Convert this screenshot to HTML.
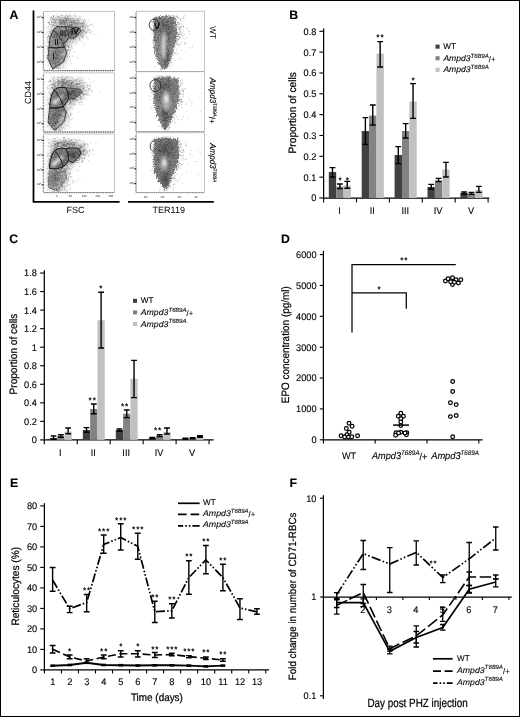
<!DOCTYPE html>
<html lang="en"><head><meta charset="utf-8"><title>Figure</title>
<style>html,body{margin:0;padding:0;background:#fff}svg{display:block}text{font-family:'Liberation Sans', sans-serif;text-rendering:geometricPrecision}</style>
</head><body>
<svg width="520" height="717" viewBox="0 0 520 717">
<rect x="0" y="0" width="520" height="717" fill="#fff"/>
<text x="9.6" y="19" font-size="12.3" font-weight="bold" stroke="#000" stroke-width="0.1">A</text>
<text x="289.2" y="18.9" font-size="12.3" font-weight="bold" stroke="#000" stroke-width="0.1">B</text>
<text x="9.2" y="242.9" font-size="12.3" font-weight="bold" stroke="#000" stroke-width="0.1">C</text>
<text x="281" y="243.2" font-size="12.3" font-weight="bold" stroke="#000" stroke-width="0.1">D</text>
<text x="10" y="487" font-size="12.3" font-weight="bold" stroke="#000" stroke-width="0.1">E</text>
<text x="289.6" y="486.8" font-size="12.3" font-weight="bold" stroke="#000" stroke-width="0.1">F</text>
<line x1="323.6" y1="28.4" x2="323.6" y2="198.6" stroke="#000" stroke-width="1.25"/>
<line x1="323" y1="198" x2="489.2" y2="198" stroke="#000" stroke-width="1.25"/>
<line x1="319.4" y1="198" x2="323.6" y2="198" stroke="#000" stroke-width="1.1"/>
<text x="316.4" y="201.4" font-size="9.6" text-anchor="end" textLength="5.13" lengthAdjust="spacingAndGlyphs" stroke="#000" stroke-width="0.12">0</text>
<line x1="319.4" y1="177.16" x2="323.6" y2="177.16" stroke="#000" stroke-width="1.1"/>
<text x="316.4" y="180.56" font-size="9.6" text-anchor="end" textLength="12.81" lengthAdjust="spacingAndGlyphs" stroke="#000" stroke-width="0.12">0.1</text>
<line x1="319.4" y1="156.32" x2="323.6" y2="156.32" stroke="#000" stroke-width="1.1"/>
<text x="316.4" y="159.72" font-size="9.6" text-anchor="end" textLength="12.81" lengthAdjust="spacingAndGlyphs" stroke="#000" stroke-width="0.12">0.2</text>
<line x1="319.4" y1="135.48" x2="323.6" y2="135.48" stroke="#000" stroke-width="1.1"/>
<text x="316.4" y="138.88" font-size="9.6" text-anchor="end" textLength="12.81" lengthAdjust="spacingAndGlyphs" stroke="#000" stroke-width="0.12">0.3</text>
<line x1="319.4" y1="114.64" x2="323.6" y2="114.64" stroke="#000" stroke-width="1.1"/>
<text x="316.4" y="118.04" font-size="9.6" text-anchor="end" textLength="12.81" lengthAdjust="spacingAndGlyphs" stroke="#000" stroke-width="0.12">0.4</text>
<line x1="319.4" y1="93.8" x2="323.6" y2="93.8" stroke="#000" stroke-width="1.1"/>
<text x="316.4" y="97.2" font-size="9.6" text-anchor="end" textLength="12.81" lengthAdjust="spacingAndGlyphs" stroke="#000" stroke-width="0.12">0.5</text>
<line x1="319.4" y1="72.96" x2="323.6" y2="72.96" stroke="#000" stroke-width="1.1"/>
<text x="316.4" y="76.36" font-size="9.6" text-anchor="end" textLength="12.81" lengthAdjust="spacingAndGlyphs" stroke="#000" stroke-width="0.12">0.6</text>
<line x1="319.4" y1="52.12" x2="323.6" y2="52.12" stroke="#000" stroke-width="1.1"/>
<text x="316.4" y="55.52" font-size="9.6" text-anchor="end" textLength="12.81" lengthAdjust="spacingAndGlyphs" stroke="#000" stroke-width="0.12">0.7</text>
<line x1="319.4" y1="31.28" x2="323.6" y2="31.28" stroke="#000" stroke-width="1.1"/>
<text x="316.4" y="34.68" font-size="9.6" text-anchor="end" textLength="12.81" lengthAdjust="spacingAndGlyphs" stroke="#000" stroke-width="0.12">0.8</text>
<line x1="323.6" y1="198" x2="323.6" y2="202.4" stroke="#000" stroke-width="1.1"/>
<line x1="356.5" y1="198" x2="356.5" y2="202.4" stroke="#000" stroke-width="1.1"/>
<line x1="389.4" y1="198" x2="389.4" y2="202.4" stroke="#000" stroke-width="1.1"/>
<line x1="422.3" y1="198" x2="422.3" y2="202.4" stroke="#000" stroke-width="1.1"/>
<line x1="455.2" y1="198" x2="455.2" y2="202.4" stroke="#000" stroke-width="1.1"/>
<line x1="488.1" y1="198" x2="488.1" y2="202.4" stroke="#000" stroke-width="1.1"/>
<text x="339.45" y="214.2" font-size="9.6" text-anchor="middle" textLength="2.56" lengthAdjust="spacingAndGlyphs" stroke="#000" stroke-width="0.12">I</text>
<text x="372.35" y="214.2" font-size="9.6" text-anchor="middle" textLength="5.12" lengthAdjust="spacingAndGlyphs" stroke="#000" stroke-width="0.12">II</text>
<text x="405.25" y="214.2" font-size="9.6" text-anchor="middle" textLength="7.68" lengthAdjust="spacingAndGlyphs" stroke="#000" stroke-width="0.12">III</text>
<text x="438.15" y="214.2" font-size="9.6" text-anchor="middle" textLength="8.71" lengthAdjust="spacingAndGlyphs" stroke="#000" stroke-width="0.12">IV</text>
<text x="471.05" y="214.2" font-size="9.6" text-anchor="middle" textLength="6.15" lengthAdjust="spacingAndGlyphs" stroke="#000" stroke-width="0.12">V</text>
<rect x="328.8" y="172" width="7.38" height="26" fill="#404040"/>
<rect x="336.18" y="186.6" width="7.38" height="11.4" fill="#828282"/>
<rect x="343.56" y="185.6" width="7.38" height="12.4" fill="#c1c1c1"/>
<path d="M332.49 167.6V177M329.59 167.6H335.39M329.59 177H335.39" fill="none" stroke="#000" stroke-width="1.4"/>
<path d="M339.87 184V188.6M336.97 184H342.77M336.97 188.6H342.77" fill="none" stroke="#000" stroke-width="1.4"/>
<path d="M347.25 181.4V188.2M344.35 181.4H350.15M344.35 188.2H350.15" fill="none" stroke="#000" stroke-width="1.4"/>
<rect x="361.7" y="131" width="7.38" height="67" fill="#404040"/>
<rect x="369.08" y="115.6" width="7.38" height="82.4" fill="#828282"/>
<rect x="376.46" y="53.6" width="7.38" height="144.4" fill="#c1c1c1"/>
<path d="M365.39 117.6V144.4M362.49 117.6H368.29M362.49 144.4H368.29" fill="none" stroke="#000" stroke-width="1.4"/>
<path d="M372.77 105V125M369.87 105H375.67M369.87 125H375.67" fill="none" stroke="#000" stroke-width="1.4"/>
<path d="M380.15 41.6V67M377.25 41.6H383.05M377.25 67H383.05" fill="none" stroke="#000" stroke-width="1.4"/>
<rect x="394.6" y="155" width="7.38" height="43" fill="#404040"/>
<rect x="401.98" y="131" width="7.38" height="67" fill="#828282"/>
<rect x="409.36" y="101.6" width="7.38" height="96.4" fill="#c1c1c1"/>
<path d="M398.29 146.6V163.6M395.39 146.6H401.19M395.39 163.6H401.19" fill="none" stroke="#000" stroke-width="1.4"/>
<path d="M405.67 123.6V138M402.77 123.6H408.57M402.77 138H408.57" fill="none" stroke="#000" stroke-width="1.4"/>
<path d="M413.05 83.6V118.4M410.15 83.6H415.95M410.15 118.4H415.95" fill="none" stroke="#000" stroke-width="1.4"/>
<rect x="427.5" y="187" width="7.38" height="11" fill="#404040"/>
<rect x="434.88" y="180.4" width="7.38" height="17.6" fill="#828282"/>
<rect x="442.26" y="169.6" width="7.38" height="28.4" fill="#c1c1c1"/>
<path d="M431.19 184.4V189.2M428.29 184.4H434.09M428.29 189.2H434.09" fill="none" stroke="#000" stroke-width="1.4"/>
<path d="M438.57 178.4V181.6M435.67 178.4H441.47M435.67 181.6H441.47" fill="none" stroke="#000" stroke-width="1.4"/>
<path d="M445.95 162.4V177M443.05 162.4H448.85M443.05 177H448.85" fill="none" stroke="#000" stroke-width="1.4"/>
<rect x="460.4" y="193" width="7.38" height="5" fill="#404040"/>
<rect x="467.78" y="193.4" width="7.38" height="4.6" fill="#828282"/>
<rect x="475.16" y="190" width="7.38" height="8" fill="#c1c1c1"/>
<path d="M464.09 192V194.2M461.19 192H466.99M461.19 194.2H466.99" fill="none" stroke="#000" stroke-width="1.4"/>
<path d="M471.47 192.4V194.4M468.57 192.4H474.37M468.57 194.4H474.37" fill="none" stroke="#000" stroke-width="1.4"/>
<path d="M478.85 186.4V192.4M475.95 186.4H481.75M475.95 192.4H481.75" fill="none" stroke="#000" stroke-width="1.4"/>
<text x="380.45" y="40.16" font-size="8.2" text-anchor="middle" font-weight="bold" letter-spacing="0.9">**</text>
<text x="413.65" y="82.76" font-size="8.2" text-anchor="middle" font-weight="bold" letter-spacing="0.9">*</text>
<text x="340.45" y="183.36" font-size="8.2" text-anchor="middle" font-weight="bold" letter-spacing="0.9">*</text>
<text x="347.85" y="182.96" font-size="8.2" text-anchor="middle" font-weight="bold" letter-spacing="0.9">*</text>
<text font-size="10.7" textLength="81.2" lengthAdjust="spacingAndGlyphs" transform="translate(296.2 153.4) rotate(-90)" stroke="#000" stroke-width="0.22">Proportion of cells</text>
<rect x="435.5" y="44.6" width="4.1" height="4.1" fill="#404040"/>
<rect x="435.5" y="56.2" width="4.1" height="4.1" fill="#828282"/>
<rect x="435.5" y="67.8" width="4.1" height="4.1" fill="#c1c1c1"/>
<text x="443.3" y="49.3" font-size="8.3" textLength="12.6" lengthAdjust="spacingAndGlyphs" stroke="#000" stroke-width="0.1">WT</text>
<text x="443.4" y="60.9" font-size="8.3" stroke="#000" stroke-width="0.1"><tspan font-style="italic" textLength="27.2" lengthAdjust="spacingAndGlyphs">Ampd3</tspan><tspan font-style="italic" font-size="6" dy="-3.32" textLength="18.2" lengthAdjust="spacingAndGlyphs">T689A</tspan><tspan dy="4.12" textLength="6.64" lengthAdjust="spacingAndGlyphs">/+</tspan></text>
<text x="443.4" y="72.2" font-size="8.3" stroke="#000" stroke-width="0.1"><tspan font-style="italic" textLength="27.2" lengthAdjust="spacingAndGlyphs">Ampd3</tspan><tspan font-style="italic" font-size="6" dy="-3.32" textLength="18.2" lengthAdjust="spacingAndGlyphs">T689A</tspan></text>
<line x1="44.3" y1="270.2" x2="44.3" y2="440.5" stroke="#000" stroke-width="1.25"/>
<line x1="43.7" y1="439.9" x2="213.6" y2="439.9" stroke="#000" stroke-width="1.25"/>
<line x1="40.1" y1="439.9" x2="44.3" y2="439.9" stroke="#000" stroke-width="1.1"/>
<text x="36.9" y="443.3" font-size="9.6" text-anchor="end" textLength="5.13" lengthAdjust="spacingAndGlyphs" stroke="#000" stroke-width="0.12">0</text>
<line x1="40.1" y1="421.36" x2="44.3" y2="421.36" stroke="#000" stroke-width="1.1"/>
<text x="36.9" y="424.76" font-size="9.6" text-anchor="end" textLength="12.81" lengthAdjust="spacingAndGlyphs" stroke="#000" stroke-width="0.12">0.2</text>
<line x1="40.1" y1="402.82" x2="44.3" y2="402.82" stroke="#000" stroke-width="1.1"/>
<text x="36.9" y="406.22" font-size="9.6" text-anchor="end" textLength="12.81" lengthAdjust="spacingAndGlyphs" stroke="#000" stroke-width="0.12">0.4</text>
<line x1="40.1" y1="384.28" x2="44.3" y2="384.28" stroke="#000" stroke-width="1.1"/>
<text x="36.9" y="387.68" font-size="9.6" text-anchor="end" textLength="12.81" lengthAdjust="spacingAndGlyphs" stroke="#000" stroke-width="0.12">0.6</text>
<line x1="40.1" y1="365.74" x2="44.3" y2="365.74" stroke="#000" stroke-width="1.1"/>
<text x="36.9" y="369.14" font-size="9.6" text-anchor="end" textLength="12.81" lengthAdjust="spacingAndGlyphs" stroke="#000" stroke-width="0.12">0.8</text>
<line x1="40.1" y1="347.2" x2="44.3" y2="347.2" stroke="#000" stroke-width="1.1"/>
<text x="36.9" y="350.6" font-size="9.6" text-anchor="end" textLength="5.13" lengthAdjust="spacingAndGlyphs" stroke="#000" stroke-width="0.12">1</text>
<line x1="40.1" y1="328.66" x2="44.3" y2="328.66" stroke="#000" stroke-width="1.1"/>
<text x="36.9" y="332.06" font-size="9.6" text-anchor="end" textLength="12.81" lengthAdjust="spacingAndGlyphs" stroke="#000" stroke-width="0.12">1.2</text>
<line x1="40.1" y1="310.12" x2="44.3" y2="310.12" stroke="#000" stroke-width="1.1"/>
<text x="36.9" y="313.52" font-size="9.6" text-anchor="end" textLength="12.81" lengthAdjust="spacingAndGlyphs" stroke="#000" stroke-width="0.12">1.4</text>
<line x1="40.1" y1="291.58" x2="44.3" y2="291.58" stroke="#000" stroke-width="1.1"/>
<text x="36.9" y="294.98" font-size="9.6" text-anchor="end" textLength="12.81" lengthAdjust="spacingAndGlyphs" stroke="#000" stroke-width="0.12">1.6</text>
<line x1="40.1" y1="273.04" x2="44.3" y2="273.04" stroke="#000" stroke-width="1.1"/>
<text x="36.9" y="276.44" font-size="9.6" text-anchor="end" textLength="12.81" lengthAdjust="spacingAndGlyphs" stroke="#000" stroke-width="0.12">1.8</text>
<line x1="44.3" y1="439.9" x2="44.3" y2="444.3" stroke="#000" stroke-width="1.1"/>
<line x1="77.25" y1="439.9" x2="77.25" y2="444.3" stroke="#000" stroke-width="1.1"/>
<line x1="110.2" y1="439.9" x2="110.2" y2="444.3" stroke="#000" stroke-width="1.1"/>
<line x1="143.15" y1="439.9" x2="143.15" y2="444.3" stroke="#000" stroke-width="1.1"/>
<line x1="176.1" y1="439.9" x2="176.1" y2="444.3" stroke="#000" stroke-width="1.1"/>
<line x1="209.05" y1="439.9" x2="209.05" y2="444.3" stroke="#000" stroke-width="1.1"/>
<text x="60.27" y="455.8" font-size="9.6" text-anchor="middle" textLength="2.56" lengthAdjust="spacingAndGlyphs" stroke="#000" stroke-width="0.12">I</text>
<text x="93.22" y="455.8" font-size="9.6" text-anchor="middle" textLength="5.12" lengthAdjust="spacingAndGlyphs" stroke="#000" stroke-width="0.12">II</text>
<text x="126.17" y="455.8" font-size="9.6" text-anchor="middle" textLength="7.68" lengthAdjust="spacingAndGlyphs" stroke="#000" stroke-width="0.12">III</text>
<text x="159.12" y="455.8" font-size="9.6" text-anchor="middle" textLength="8.71" lengthAdjust="spacingAndGlyphs" stroke="#000" stroke-width="0.12">IV</text>
<text x="192.07" y="455.8" font-size="9.6" text-anchor="middle" textLength="6.15" lengthAdjust="spacingAndGlyphs" stroke="#000" stroke-width="0.12">V</text>
<rect x="49.9" y="438" width="7.3" height="1.9" fill="#404040"/>
<rect x="57.2" y="436" width="7.3" height="3.9" fill="#828282"/>
<rect x="64.5" y="431.6" width="7.3" height="8.3" fill="#c1c1c1"/>
<path d="M53.55 436V439.2M50.65 436H56.45M50.65 439.2H56.45" fill="none" stroke="#000" stroke-width="1.4"/>
<path d="M60.85 434.8V437.2M57.95 434.8H63.75M57.95 437.2H63.75" fill="none" stroke="#000" stroke-width="1.4"/>
<path d="M68.15 428V433.8M65.25 428H71.05M65.25 433.8H71.05" fill="none" stroke="#000" stroke-width="1.4"/>
<rect x="82.85" y="430" width="7.3" height="9.9" fill="#404040"/>
<rect x="90.15" y="409" width="7.3" height="30.9" fill="#828282"/>
<rect x="97.45" y="320.2" width="7.3" height="119.7" fill="#c1c1c1"/>
<path d="M86.5 427.6V432.2M83.6 427.6H89.4M83.6 432.2H89.4" fill="none" stroke="#000" stroke-width="1.4"/>
<path d="M93.8 404V413.8M90.9 404H96.7M90.9 413.8H96.7" fill="none" stroke="#000" stroke-width="1.4"/>
<path d="M101.1 292.2V348M98.2 292.2H104M98.2 348H104" fill="none" stroke="#000" stroke-width="1.4"/>
<rect x="115.8" y="430" width="7.3" height="9.9" fill="#404040"/>
<rect x="123.1" y="413.8" width="7.3" height="26.1" fill="#828282"/>
<rect x="130.4" y="378.8" width="7.3" height="61.1" fill="#c1c1c1"/>
<path d="M119.45 429V431.2M116.55 429H122.35M116.55 431.2H122.35" fill="none" stroke="#000" stroke-width="1.4"/>
<path d="M126.75 410V417.6M123.85 410H129.65M123.85 417.6H129.65" fill="none" stroke="#000" stroke-width="1.4"/>
<path d="M134.05 360.4V397.6M131.15 360.4H136.95M131.15 397.6H136.95" fill="none" stroke="#000" stroke-width="1.4"/>
<rect x="148.75" y="438" width="7.3" height="1.9" fill="#404040"/>
<rect x="156.05" y="435.6" width="7.3" height="4.3" fill="#828282"/>
<rect x="163.35" y="432" width="7.3" height="7.9" fill="#c1c1c1"/>
<path d="M152.4 437.4V438.8M149.5 437.4H155.3M149.5 438.8H155.3" fill="none" stroke="#000" stroke-width="1.4"/>
<path d="M159.7 434.8V436.6M156.8 434.8H162.6M156.8 436.6H162.6" fill="none" stroke="#000" stroke-width="1.4"/>
<path d="M167 428V434M164.1 428H169.9M164.1 434H169.9" fill="none" stroke="#000" stroke-width="1.4"/>
<rect x="181.7" y="438.6" width="7.3" height="1.3" fill="#404040"/>
<rect x="189" y="438.2" width="7.3" height="1.7" fill="#828282"/>
<rect x="196.3" y="436.4" width="7.3" height="3.5" fill="#c1c1c1"/>
<path d="M185.35 438.2V439M182.45 438.2H188.25M182.45 439H188.25" fill="none" stroke="#000" stroke-width="1.4"/>
<path d="M192.65 437.8V438.8M189.75 437.8H195.55M189.75 438.8H195.55" fill="none" stroke="#000" stroke-width="1.4"/>
<path d="M199.95 435.8V437.2M197.05 435.8H202.85M197.05 437.2H202.85" fill="none" stroke="#000" stroke-width="1.4"/>
<text x="101.25" y="291.16" font-size="8.2" text-anchor="middle" font-weight="bold" letter-spacing="0.9">*</text>
<text x="92.65" y="403.16" font-size="8.2" text-anchor="middle" font-weight="bold" letter-spacing="0.9">**</text>
<text x="125.05" y="409.36" font-size="8.2" text-anchor="middle" font-weight="bold" letter-spacing="0.9">**</text>
<text x="158.05" y="432.96" font-size="8.2" text-anchor="middle" font-weight="bold" letter-spacing="0.9">**</text>
<text font-size="10.7" textLength="80.6" lengthAdjust="spacingAndGlyphs" transform="translate(16.8 394.4) rotate(-90)" stroke="#000" stroke-width="0.22">Proportion of cells</text>
<rect x="133" y="298.8" width="4.1" height="4.1" fill="#404040"/>
<rect x="133" y="310.4" width="4.1" height="4.1" fill="#828282"/>
<rect x="133" y="321.9" width="4.1" height="4.1" fill="#c1c1c1"/>
<text x="140.8" y="303.4" font-size="8.3" textLength="12.8" lengthAdjust="spacingAndGlyphs" stroke="#000" stroke-width="0.1">WT</text>
<text x="140.8" y="315" font-size="8.3" stroke="#000" stroke-width="0.1"><tspan font-style="italic" textLength="27.6" lengthAdjust="spacingAndGlyphs">Ampd3</tspan><tspan font-style="italic" font-size="6" dy="-3.32" textLength="18.2" lengthAdjust="spacingAndGlyphs">T689A</tspan><tspan dy="4.12" textLength="6.64" lengthAdjust="spacingAndGlyphs">/+</tspan></text>
<text x="140.8" y="326.6" font-size="8.3" stroke="#000" stroke-width="0.1"><tspan font-style="italic" textLength="27.6" lengthAdjust="spacingAndGlyphs">Ampd3</tspan><tspan font-style="italic" font-size="6" dy="-3.32" textLength="18.2" lengthAdjust="spacingAndGlyphs">T689A</tspan></text>
<line x1="323.4" y1="250.8" x2="323.4" y2="440.4" stroke="#000" stroke-width="1.25"/>
<line x1="322.8" y1="439.8" x2="482.6" y2="439.8" stroke="#000" stroke-width="1.25"/>
<line x1="319.8" y1="439.8" x2="323.4" y2="439.8" stroke="#000" stroke-width="1.1"/>
<text x="316.6" y="443.2" font-size="9.6" text-anchor="end" textLength="5.13" lengthAdjust="spacingAndGlyphs" stroke="#000" stroke-width="0.12">0</text>
<line x1="319.8" y1="408.93" x2="323.4" y2="408.93" stroke="#000" stroke-width="1.1"/>
<text x="316.6" y="412.33" font-size="9.6" text-anchor="end" textLength="20.5" lengthAdjust="spacingAndGlyphs" stroke="#000" stroke-width="0.12">1000</text>
<line x1="319.8" y1="378.06" x2="323.4" y2="378.06" stroke="#000" stroke-width="1.1"/>
<text x="316.6" y="381.46" font-size="9.6" text-anchor="end" textLength="20.5" lengthAdjust="spacingAndGlyphs" stroke="#000" stroke-width="0.12">2000</text>
<line x1="319.8" y1="347.19" x2="323.4" y2="347.19" stroke="#000" stroke-width="1.1"/>
<text x="316.6" y="350.59" font-size="9.6" text-anchor="end" textLength="20.5" lengthAdjust="spacingAndGlyphs" stroke="#000" stroke-width="0.12">3000</text>
<line x1="319.8" y1="316.32" x2="323.4" y2="316.32" stroke="#000" stroke-width="1.1"/>
<text x="316.6" y="319.72" font-size="9.6" text-anchor="end" textLength="20.5" lengthAdjust="spacingAndGlyphs" stroke="#000" stroke-width="0.12">4000</text>
<line x1="319.8" y1="285.45" x2="323.4" y2="285.45" stroke="#000" stroke-width="1.1"/>
<text x="316.6" y="288.85" font-size="9.6" text-anchor="end" textLength="20.5" lengthAdjust="spacingAndGlyphs" stroke="#000" stroke-width="0.12">5000</text>
<line x1="319.8" y1="254.58" x2="323.4" y2="254.58" stroke="#000" stroke-width="1.1"/>
<text x="316.6" y="257.98" font-size="9.6" text-anchor="end" textLength="20.5" lengthAdjust="spacingAndGlyphs" stroke="#000" stroke-width="0.12">6000</text>
<line x1="323.4" y1="439.8" x2="323.4" y2="443.4" stroke="#000" stroke-width="1.1"/>
<line x1="375.2" y1="439.8" x2="375.2" y2="443.4" stroke="#000" stroke-width="1.1"/>
<line x1="427" y1="439.8" x2="427" y2="443.4" stroke="#000" stroke-width="1.1"/>
<line x1="478.8" y1="439.8" x2="478.8" y2="443.4" stroke="#000" stroke-width="1.1"/>
<text x="349" y="458.8" font-size="9.6" text-anchor="middle" textLength="14.18" lengthAdjust="spacingAndGlyphs" stroke="#000" stroke-width="0.1">WT</text>
<text x="372" y="458.8" font-size="9.8" stroke="#000" stroke-width="0.1"><tspan font-style="italic" textLength="29" lengthAdjust="spacingAndGlyphs">Ampd3</tspan><tspan font-style="italic" font-size="6.6" dy="-3.92" textLength="18.6" lengthAdjust="spacingAndGlyphs">T689A</tspan><tspan dy="4.72" textLength="7.84" lengthAdjust="spacingAndGlyphs">/+</tspan></text>
<text x="431.2" y="458.8" font-size="9.8" stroke="#000" stroke-width="0.1"><tspan font-style="italic" textLength="29.4" lengthAdjust="spacingAndGlyphs">Ampd3</tspan><tspan font-style="italic" font-size="6.6" dy="-3.92" textLength="18.2" lengthAdjust="spacingAndGlyphs">T689A</tspan></text>
<text font-size="10.7" textLength="117" lengthAdjust="spacingAndGlyphs" transform="translate(289.2 403.2) rotate(-90)" stroke="#000" stroke-width="0.22">EPO concentration (pg/ml)</text>
<path d="M352 332.6V264.5H455.8M352 292.8H406.3V308.8" fill="none" stroke="#000" stroke-width="1.25"/>
<text x="379.45" y="291.56" font-size="8.2" text-anchor="middle" font-weight="bold" letter-spacing="0.9">*</text>
<text x="404.25" y="262.76" font-size="8.2" text-anchor="middle" font-weight="bold" letter-spacing="0.9">**</text>
<g fill="#fff" stroke="#000" stroke-width="1.25">
<circle cx="349" cy="423.3" r="1.85"/>
<circle cx="352.1" cy="426.3" r="1.85"/>
<circle cx="346.3" cy="428.5" r="1.85"/>
<circle cx="349.2" cy="432.3" r="1.85"/>
<circle cx="341.1" cy="435.8" r="1.85"/>
<circle cx="357.6" cy="435.8" r="1.85"/>
<circle cx="346.9" cy="434.8" r="1.85"/>
<circle cx="344.6" cy="437" r="1.85"/>
<circle cx="348.6" cy="437" r="1.85"/>
<circle cx="351.8" cy="436.8" r="1.85"/>
<circle cx="400.8" cy="413.2" r="1.85"/>
<circle cx="398.3" cy="416.2" r="1.85"/>
<circle cx="403.4" cy="416.2" r="1.85"/>
<circle cx="400.8" cy="418.8" r="1.85"/>
<circle cx="400.8" cy="421.9" r="1.85"/>
<circle cx="400.8" cy="425.6" r="1.85"/>
<circle cx="396" cy="432.7" r="1.85"/>
<circle cx="400.8" cy="432.2" r="1.85"/>
<circle cx="406.8" cy="432.7" r="1.85"/>
<circle cx="395.6" cy="435.3" r="1.85"/>
<circle cx="406.4" cy="434.8" r="1.85"/>
<circle cx="398.6" cy="432.9" r="1.85"/>
<circle cx="405" cy="433" r="1.85"/>
<circle cx="452.7" cy="381.5" r="1.85"/>
<circle cx="452.7" cy="391.5" r="1.85"/>
<circle cx="450.4" cy="402.8" r="1.85"/>
<circle cx="456.2" cy="404.6" r="1.85"/>
<circle cx="450.4" cy="416.6" r="1.85"/>
<circle cx="456.2" cy="415.5" r="1.85"/>
<circle cx="452.7" cy="436.7" r="1.85"/>
<circle cx="445.4" cy="280.9" r="1.85"/>
<circle cx="448.1" cy="278.8" r="1.85"/>
<circle cx="452.5" cy="277.7" r="1.85"/>
<circle cx="456.1" cy="279.8" r="1.85"/>
<circle cx="460.8" cy="279.8" r="1.85"/>
<circle cx="458.4" cy="282.9" r="1.85"/>
<circle cx="452.5" cy="284.6" r="1.85"/>
<circle cx="450.6" cy="281.7" r="1.85"/>
<circle cx="454.4" cy="282.3" r="1.85"/>
</g>
<line x1="393.1" y1="425.1" x2="409" y2="425.1" stroke="#000" stroke-width="1.5"/>
<line x1="44.4" y1="503.2" x2="44.4" y2="670.5" stroke="#000" stroke-width="1.25"/>
<line x1="43.8" y1="669.9" x2="269.2" y2="669.9" stroke="#000" stroke-width="1.25"/>
<line x1="40.2" y1="669.9" x2="44.4" y2="669.9" stroke="#000" stroke-width="1.1"/>
<text x="37.2" y="673.3" font-size="9.6" text-anchor="end" textLength="5.13" lengthAdjust="spacingAndGlyphs" stroke="#000" stroke-width="0.12">0</text>
<line x1="40.2" y1="649.4" x2="44.4" y2="649.4" stroke="#000" stroke-width="1.1"/>
<text x="37.2" y="652.8" font-size="9.6" text-anchor="end" textLength="10.25" lengthAdjust="spacingAndGlyphs" stroke="#000" stroke-width="0.12">10</text>
<line x1="40.2" y1="628.9" x2="44.4" y2="628.9" stroke="#000" stroke-width="1.1"/>
<text x="37.2" y="632.3" font-size="9.6" text-anchor="end" textLength="10.25" lengthAdjust="spacingAndGlyphs" stroke="#000" stroke-width="0.12">20</text>
<line x1="40.2" y1="608.4" x2="44.4" y2="608.4" stroke="#000" stroke-width="1.1"/>
<text x="37.2" y="611.8" font-size="9.6" text-anchor="end" textLength="10.25" lengthAdjust="spacingAndGlyphs" stroke="#000" stroke-width="0.12">30</text>
<line x1="40.2" y1="587.9" x2="44.4" y2="587.9" stroke="#000" stroke-width="1.1"/>
<text x="37.2" y="591.3" font-size="9.6" text-anchor="end" textLength="10.25" lengthAdjust="spacingAndGlyphs" stroke="#000" stroke-width="0.12">40</text>
<line x1="40.2" y1="567.4" x2="44.4" y2="567.4" stroke="#000" stroke-width="1.1"/>
<text x="37.2" y="570.8" font-size="9.6" text-anchor="end" textLength="10.25" lengthAdjust="spacingAndGlyphs" stroke="#000" stroke-width="0.12">50</text>
<line x1="40.2" y1="546.9" x2="44.4" y2="546.9" stroke="#000" stroke-width="1.1"/>
<text x="37.2" y="550.3" font-size="9.6" text-anchor="end" textLength="10.25" lengthAdjust="spacingAndGlyphs" stroke="#000" stroke-width="0.12">60</text>
<line x1="40.2" y1="526.4" x2="44.4" y2="526.4" stroke="#000" stroke-width="1.1"/>
<text x="37.2" y="529.8" font-size="9.6" text-anchor="end" textLength="10.25" lengthAdjust="spacingAndGlyphs" stroke="#000" stroke-width="0.12">70</text>
<line x1="40.2" y1="505.9" x2="44.4" y2="505.9" stroke="#000" stroke-width="1.1"/>
<text x="37.2" y="509.3" font-size="9.6" text-anchor="end" textLength="10.25" lengthAdjust="spacingAndGlyphs" stroke="#000" stroke-width="0.12">80</text>
<line x1="44.4" y1="669.9" x2="44.4" y2="673.5" stroke="#000" stroke-width="1.1"/>
<line x1="61.43" y1="669.9" x2="61.43" y2="673.5" stroke="#000" stroke-width="1.1"/>
<line x1="78.46" y1="669.9" x2="78.46" y2="673.5" stroke="#000" stroke-width="1.1"/>
<line x1="95.49" y1="669.9" x2="95.49" y2="673.5" stroke="#000" stroke-width="1.1"/>
<line x1="112.52" y1="669.9" x2="112.52" y2="673.5" stroke="#000" stroke-width="1.1"/>
<line x1="129.55" y1="669.9" x2="129.55" y2="673.5" stroke="#000" stroke-width="1.1"/>
<line x1="146.58" y1="669.9" x2="146.58" y2="673.5" stroke="#000" stroke-width="1.1"/>
<line x1="163.61" y1="669.9" x2="163.61" y2="673.5" stroke="#000" stroke-width="1.1"/>
<line x1="180.64" y1="669.9" x2="180.64" y2="673.5" stroke="#000" stroke-width="1.1"/>
<line x1="197.67" y1="669.9" x2="197.67" y2="673.5" stroke="#000" stroke-width="1.1"/>
<line x1="214.7" y1="669.9" x2="214.7" y2="673.5" stroke="#000" stroke-width="1.1"/>
<line x1="231.73" y1="669.9" x2="231.73" y2="673.5" stroke="#000" stroke-width="1.1"/>
<line x1="248.76" y1="669.9" x2="248.76" y2="673.5" stroke="#000" stroke-width="1.1"/>
<line x1="265.79" y1="669.9" x2="265.79" y2="673.5" stroke="#000" stroke-width="1.1"/>
<text x="52.71" y="685.2" font-size="9.6" text-anchor="middle" textLength="5.13" lengthAdjust="spacingAndGlyphs" stroke="#000" stroke-width="0.12">1</text>
<text x="69.74" y="685.2" font-size="9.6" text-anchor="middle" textLength="5.13" lengthAdjust="spacingAndGlyphs" stroke="#000" stroke-width="0.12">2</text>
<text x="86.77" y="685.2" font-size="9.6" text-anchor="middle" textLength="5.13" lengthAdjust="spacingAndGlyphs" stroke="#000" stroke-width="0.12">3</text>
<text x="103.8" y="685.2" font-size="9.6" text-anchor="middle" textLength="5.13" lengthAdjust="spacingAndGlyphs" stroke="#000" stroke-width="0.12">4</text>
<text x="120.83" y="685.2" font-size="9.6" text-anchor="middle" textLength="5.13" lengthAdjust="spacingAndGlyphs" stroke="#000" stroke-width="0.12">5</text>
<text x="137.87" y="685.2" font-size="9.6" text-anchor="middle" textLength="5.13" lengthAdjust="spacingAndGlyphs" stroke="#000" stroke-width="0.12">6</text>
<text x="154.9" y="685.2" font-size="9.6" text-anchor="middle" textLength="5.13" lengthAdjust="spacingAndGlyphs" stroke="#000" stroke-width="0.12">7</text>
<text x="171.93" y="685.2" font-size="9.6" text-anchor="middle" textLength="5.13" lengthAdjust="spacingAndGlyphs" stroke="#000" stroke-width="0.12">8</text>
<text x="188.96" y="685.2" font-size="9.6" text-anchor="middle" textLength="5.13" lengthAdjust="spacingAndGlyphs" stroke="#000" stroke-width="0.12">9</text>
<text x="205.99" y="685.2" font-size="9.6" text-anchor="middle" textLength="10.25" lengthAdjust="spacingAndGlyphs" stroke="#000" stroke-width="0.12">10</text>
<text x="223.02" y="685.2" font-size="9.6" text-anchor="middle" textLength="9.57" lengthAdjust="spacingAndGlyphs" stroke="#000" stroke-width="0.12">11</text>
<text x="240.05" y="685.2" font-size="9.6" text-anchor="middle" textLength="10.25" lengthAdjust="spacingAndGlyphs" stroke="#000" stroke-width="0.12">12</text>
<text x="257.07" y="685.2" font-size="9.6" text-anchor="middle" textLength="10.25" lengthAdjust="spacingAndGlyphs" stroke="#000" stroke-width="0.12">13</text>
<text x="130.9" y="700.5" font-size="10.8" textLength="52" lengthAdjust="spacingAndGlyphs" stroke="#000" stroke-width="0.22">Time (days)</text>
<text font-size="10.7" textLength="78.6" lengthAdjust="spacingAndGlyphs" transform="translate(19.4 625.6) rotate(-90)" stroke="#000" stroke-width="0.22">Reticulocytes (%)</text>
<path d="M52.62 580L69.64 608.8L86.67 602.5L103.7 544.5L120.73 537.5L137.76 546.3L154.79 611.6L171.82 610.8L188.85 577.5L205.89 560L222.91 577.5L239.95 608L256.97 611.8" fill="none" stroke="#000" stroke-width="1.7" stroke-dasharray="9 2 1.6 2 1.6 2"/>
<path d="M52.62 649.3L69.64 657L86.67 661L103.7 657L120.73 653.8L137.76 653.8L154.79 655L171.82 654.5L188.85 656.6L205.89 658.3L222.91 660" fill="none" stroke="#000" stroke-width="1.6" stroke-dasharray="8 3.6"/>
<path d="M52.62 665.7L69.64 665L86.67 662.8L103.7 665L120.73 665.2L137.76 665.5L154.79 665.3L171.82 665.3L188.85 665.6L205.89 666.4L222.91 665.6" fill="none" stroke="#000" stroke-width="1.9"/>
<path d="M52.62 567.5V591.3M49.72 567.5H55.52M49.72 591.3H55.52" fill="none" stroke="#000" stroke-width="1.4"/>
<path d="M69.64 606.2V612.6M66.74 606.2H72.55M66.74 612.6H72.55" fill="none" stroke="#000" stroke-width="1.4"/>
<path d="M86.67 594.5V611.8M83.77 594.5H89.58M83.77 611.8H89.58" fill="none" stroke="#000" stroke-width="1.4"/>
<path d="M103.7 535V553.3M100.8 535H106.61M100.8 553.3H106.61" fill="none" stroke="#000" stroke-width="1.4"/>
<path d="M120.73 523.8V550M117.83 523.8H123.64M117.83 550H123.64" fill="none" stroke="#000" stroke-width="1.4"/>
<path d="M137.76 533.3V559.3M134.86 533.3H140.66M134.86 559.3H140.66" fill="none" stroke="#000" stroke-width="1.4"/>
<path d="M154.79 601.3V622.5M151.89 601.3H157.69M151.89 622.5H157.69" fill="none" stroke="#000" stroke-width="1.4"/>
<path d="M171.82 603.8V618M168.92 603.8H174.72M168.92 618H174.72" fill="none" stroke="#000" stroke-width="1.4"/>
<path d="M188.85 560.8V594.3M185.95 560.8H191.75M185.95 594.3H191.75" fill="none" stroke="#000" stroke-width="1.4"/>
<path d="M205.89 545.5V573.8M202.99 545.5H208.79M202.99 573.8H208.79" fill="none" stroke="#000" stroke-width="1.4"/>
<path d="M222.91 564.3V590.8M220.01 564.3H225.81M220.01 590.8H225.81" fill="none" stroke="#000" stroke-width="1.4"/>
<path d="M239.95 598.8V619.5M237.05 598.8H242.85M237.05 619.5H242.85" fill="none" stroke="#000" stroke-width="1.4"/>
<path d="M256.97 608.8V614.3M254.07 608.8H259.87M254.07 614.3H259.87" fill="none" stroke="#000" stroke-width="1.4"/>
<path d="M52.62 645.5V653M49.72 645.5H55.52M49.72 653H55.52" fill="none" stroke="#000" stroke-width="1.4"/>
<path d="M69.64 655V658.8M66.74 655H72.55M66.74 658.8H72.55" fill="none" stroke="#000" stroke-width="1.4"/>
<path d="M86.67 658.8V663.3M83.77 658.8H89.58M83.77 663.3H89.58" fill="none" stroke="#000" stroke-width="1.4"/>
<path d="M103.7 655V658.8M100.8 655H106.61M100.8 658.8H106.61" fill="none" stroke="#000" stroke-width="1.4"/>
<path d="M120.73 650.8V657M117.83 650.8H123.64M117.83 657H123.64" fill="none" stroke="#000" stroke-width="1.4"/>
<path d="M137.76 650.8V657M134.86 650.8H140.66M134.86 657H140.66" fill="none" stroke="#000" stroke-width="1.4"/>
<path d="M154.79 652.5V657.5M151.89 652.5H157.69M151.89 657.5H157.69" fill="none" stroke="#000" stroke-width="1.4"/>
<path d="M171.82 653.2V655.8M168.92 653.2H174.72M168.92 655.8H174.72" fill="none" stroke="#000" stroke-width="1.4"/>
<path d="M188.85 655.6V657.8M185.95 655.6H191.75M185.95 657.8H191.75" fill="none" stroke="#000" stroke-width="1.4"/>
<path d="M205.89 657V659.6M202.99 657H208.79M202.99 659.6H208.79" fill="none" stroke="#000" stroke-width="1.4"/>
<path d="M222.91 658.8V661.2M220.01 658.8H225.81M220.01 661.2H225.81" fill="none" stroke="#000" stroke-width="1.4"/>
<line x1="50.22" y1="665.7" x2="55.02" y2="665.7" stroke="#000" stroke-width="2.6"/>
<line x1="67.24" y1="665" x2="72.05" y2="665" stroke="#000" stroke-width="2.6"/>
<line x1="84.27" y1="662.8" x2="89.08" y2="662.8" stroke="#000" stroke-width="2.6"/>
<line x1="101.3" y1="665" x2="106.11" y2="665" stroke="#000" stroke-width="2.6"/>
<line x1="118.33" y1="665.2" x2="123.14" y2="665.2" stroke="#000" stroke-width="2.6"/>
<line x1="135.36" y1="665.5" x2="140.16" y2="665.5" stroke="#000" stroke-width="2.6"/>
<line x1="152.39" y1="665.3" x2="157.19" y2="665.3" stroke="#000" stroke-width="2.6"/>
<line x1="169.42" y1="665.3" x2="174.22" y2="665.3" stroke="#000" stroke-width="2.6"/>
<line x1="186.45" y1="665.6" x2="191.25" y2="665.6" stroke="#000" stroke-width="2.6"/>
<line x1="203.49" y1="666.4" x2="208.29" y2="666.4" stroke="#000" stroke-width="2.6"/>
<line x1="220.51" y1="665.6" x2="225.31" y2="665.6" stroke="#000" stroke-width="2.6"/>
<text x="87.12" y="592.96" font-size="8.2" text-anchor="middle" font-weight="bold" letter-spacing="0.9">**</text>
<text x="104.16" y="533.56" font-size="8.2" text-anchor="middle" font-weight="bold" letter-spacing="0.9">***</text>
<text x="121.19" y="522.76" font-size="8.2" text-anchor="middle" font-weight="bold" letter-spacing="0.9">***</text>
<text x="138.21" y="532.26" font-size="8.2" text-anchor="middle" font-weight="bold" letter-spacing="0.9">***</text>
<text x="155.24" y="600.26" font-size="8.2" text-anchor="middle" font-weight="bold" letter-spacing="0.9">**</text>
<text x="172.27" y="601.76" font-size="8.2" text-anchor="middle" font-weight="bold" letter-spacing="0.9">**</text>
<text x="189.3" y="558.56" font-size="8.2" text-anchor="middle" font-weight="bold" letter-spacing="0.9">**</text>
<text x="206.34" y="543.76" font-size="8.2" text-anchor="middle" font-weight="bold" letter-spacing="0.9">**</text>
<text x="223.36" y="562.76" font-size="8.2" text-anchor="middle" font-weight="bold" letter-spacing="0.9">**</text>
<text x="70.09" y="653.56" font-size="8.2" text-anchor="middle" font-weight="bold" letter-spacing="0.9">*</text>
<text x="104.16" y="653.56" font-size="8.2" text-anchor="middle" font-weight="bold" letter-spacing="0.9">**</text>
<text x="121.19" y="649.06" font-size="8.2" text-anchor="middle" font-weight="bold" letter-spacing="0.9">*</text>
<text x="138.21" y="649.06" font-size="8.2" text-anchor="middle" font-weight="bold" letter-spacing="0.9">*</text>
<text x="155.24" y="651.76" font-size="8.2" text-anchor="middle" font-weight="bold" letter-spacing="0.9">**</text>
<text x="172.27" y="651.76" font-size="8.2" text-anchor="middle" font-weight="bold" letter-spacing="0.9">***</text>
<text x="189.3" y="653.56" font-size="8.2" text-anchor="middle" font-weight="bold" letter-spacing="0.9">***</text>
<text x="206.34" y="655.26" font-size="8.2" text-anchor="middle" font-weight="bold" letter-spacing="0.9">**</text>
<text x="223.36" y="656.76" font-size="8.2" text-anchor="middle" font-weight="bold" letter-spacing="0.9">**</text>
<line x1="178" y1="503.3" x2="199.6" y2="503.3" stroke="#000" stroke-width="1.7"/>
<line x1="178" y1="514.4" x2="199.6" y2="514.4" stroke="#000" stroke-width="1.7" stroke-dasharray="8.6 4"/>
<line x1="178" y1="525.8" x2="199.6" y2="525.8" stroke="#000" stroke-width="1.7" stroke-dasharray="5.2 2 1.6 2 1.6 2 7.2 2"/>
<text x="203" y="505.4" font-size="8.3" textLength="12.6" lengthAdjust="spacingAndGlyphs" stroke="#000" stroke-width="0.1">WT</text>
<text x="203" y="516" font-size="8.3" stroke="#000" stroke-width="0.1"><tspan font-style="italic" textLength="27.8" lengthAdjust="spacingAndGlyphs">Ampd3</tspan><tspan font-style="italic" font-size="6" dy="-3.32" textLength="17.8" lengthAdjust="spacingAndGlyphs">T689A</tspan><tspan dy="4.12" textLength="6.64" lengthAdjust="spacingAndGlyphs">/+</tspan></text>
<text x="203" y="527.2" font-size="8.3" stroke="#000" stroke-width="0.1"><tspan font-style="italic" textLength="27.8" lengthAdjust="spacingAndGlyphs">Ampd3</tspan><tspan font-style="italic" font-size="6" dy="-3.32" textLength="17.8" lengthAdjust="spacingAndGlyphs">T689A</tspan></text>
<line x1="323.4" y1="495.2" x2="323.4" y2="699" stroke="#000" stroke-width="1.25"/>
<line x1="322.8" y1="597" x2="511.8" y2="597" stroke="#000" stroke-width="1.25"/>
<line x1="320" y1="498.2" x2="323.4" y2="498.2" stroke="#000" stroke-width="1.1"/>
<text x="316.4" y="501.6" font-size="9.6" text-anchor="end" textLength="10.25" lengthAdjust="spacingAndGlyphs" stroke="#000" stroke-width="0.12">10</text>
<line x1="320" y1="597" x2="323.4" y2="597" stroke="#000" stroke-width="1.1"/>
<text x="316.4" y="600.4" font-size="9.6" text-anchor="end" textLength="5.13" lengthAdjust="spacingAndGlyphs" stroke="#000" stroke-width="0.12">1</text>
<line x1="320" y1="695.8" x2="323.4" y2="695.8" stroke="#000" stroke-width="1.1"/>
<text x="316.4" y="699.2" font-size="9.6" text-anchor="end" textLength="12.81" lengthAdjust="spacingAndGlyphs" stroke="#000" stroke-width="0.12">0.1</text>
<line x1="349.9" y1="597" x2="349.9" y2="600" stroke="#000" stroke-width="1.1"/>
<line x1="376.4" y1="597" x2="376.4" y2="600" stroke="#000" stroke-width="1.1"/>
<line x1="402.9" y1="597" x2="402.9" y2="600" stroke="#000" stroke-width="1.1"/>
<line x1="429.4" y1="597" x2="429.4" y2="600" stroke="#000" stroke-width="1.1"/>
<line x1="455.9" y1="597" x2="455.9" y2="600" stroke="#000" stroke-width="1.1"/>
<line x1="482.4" y1="597" x2="482.4" y2="600" stroke="#000" stroke-width="1.1"/>
<line x1="508.9" y1="597" x2="508.9" y2="600" stroke="#000" stroke-width="1.1"/>
<text x="362.85" y="613.4" font-size="9.6" text-anchor="middle" textLength="5.13" lengthAdjust="spacingAndGlyphs" stroke="#000" stroke-width="0.12">2</text>
<text x="389.35" y="613.4" font-size="9.6" text-anchor="middle" textLength="5.13" lengthAdjust="spacingAndGlyphs" stroke="#000" stroke-width="0.12">3</text>
<text x="415.85" y="613.4" font-size="9.6" text-anchor="middle" textLength="5.13" lengthAdjust="spacingAndGlyphs" stroke="#000" stroke-width="0.12">4</text>
<text x="442.35" y="613.4" font-size="9.6" text-anchor="middle" textLength="5.13" lengthAdjust="spacingAndGlyphs" stroke="#000" stroke-width="0.12">5</text>
<text x="468.85" y="613.4" font-size="9.6" text-anchor="middle" textLength="5.13" lengthAdjust="spacingAndGlyphs" stroke="#000" stroke-width="0.12">6</text>
<text x="495.35" y="613.4" font-size="9.6" text-anchor="middle" textLength="5.13" lengthAdjust="spacingAndGlyphs" stroke="#000" stroke-width="0.12">7</text>
<text x="367.4" y="706.9" font-size="12" textLength="100.4" lengthAdjust="spacingAndGlyphs" stroke="#000" stroke-width="0.22">Day post PHZ injection</text>
<text font-size="10.6" textLength="167.6" lengthAdjust="spacingAndGlyphs" transform="translate(296.3 680.2) rotate(-90)" stroke="#000" stroke-width="0.22">Fold change in number of CD71-RBCs</text>
<path d="M336.75 594.6L363.25 553.6L389.75 564L416.25 552.3L442.75 577.5L469.25 558.8L495.75 538" fill="none" stroke="#000" stroke-width="1.7" stroke-dasharray="9.5 2.2 1.6 2.2 1.6 2.2"/>
<path d="M336.75 605.4L363.25 592.6L389.75 648.7L416.25 635.8L442.75 615L469.25 577L495.75 577" fill="none" stroke="#000" stroke-width="1.6" stroke-dasharray="11.5 3.6"/>
<path d="M336.75 602.7L363.25 602.7L389.75 651.3L416.25 637.5L442.75 627.5L469.25 589.3L495.75 582" fill="none" stroke="#000" stroke-width="1.7"/>
<path d="M336.75 592.6V599.6M333.95 592.6H339.55M333.95 599.6H339.55" fill="none" stroke="#000" stroke-width="1.3"/>
<path d="M363.25 540.5V569.5M360.45 540.5H366.05M360.45 569.5H366.05" fill="none" stroke="#000" stroke-width="1.3"/>
<path d="M389.75 547.7V592.5M386.95 547.7H392.55M386.95 592.5H392.55" fill="none" stroke="#000" stroke-width="1.3"/>
<path d="M416.25 540.8V565M413.45 540.8H419.05M413.45 565H419.05" fill="none" stroke="#000" stroke-width="1.3"/>
<path d="M442.75 575V582.6M439.95 575H445.55M439.95 582.6H445.55" fill="none" stroke="#000" stroke-width="1.3"/>
<path d="M469.25 542.5V592.5M466.45 542.5H472.05M466.45 592.5H472.05" fill="none" stroke="#000" stroke-width="1.3"/>
<path d="M495.75 527V550M492.95 527H498.55M492.95 550H498.55" fill="none" stroke="#000" stroke-width="1.3"/>
<path d="M336.75 599.6V614.2M333.95 599.6H339.55M333.95 614.2H339.55" fill="none" stroke="#000" stroke-width="1.3"/>
<path d="M363.25 584.5V603.5M360.45 584.5H366.05M360.45 603.5H366.05" fill="none" stroke="#000" stroke-width="1.3"/>
<path d="M389.75 646.2V651.2M386.95 646.2H392.55M386.95 651.2H392.55" fill="none" stroke="#000" stroke-width="1.3"/>
<path d="M416.25 625.8V647M413.45 625.8H419.05M413.45 647H419.05" fill="none" stroke="#000" stroke-width="1.3"/>
<path d="M442.75 607.5V621.3M439.95 607.5H445.55M439.95 621.3H445.55" fill="none" stroke="#000" stroke-width="1.3"/>
<path d="M469.25 572V585.5M466.45 572H472.05M466.45 585.5H472.05" fill="none" stroke="#000" stroke-width="1.3"/>
<path d="M495.75 575V579.2M492.95 575H498.55M492.95 579.2H498.55" fill="none" stroke="#000" stroke-width="1.3"/>
<path d="M336.75 598.5V607.5M333.95 598.5H339.55M333.95 607.5H339.55" fill="none" stroke="#000" stroke-width="1.3"/>
<path d="M363.25 598.8V606.6M360.45 598.8H366.05M360.45 606.6H366.05" fill="none" stroke="#000" stroke-width="1.3"/>
<path d="M389.75 649V653.8M386.95 649H392.55M386.95 653.8H392.55" fill="none" stroke="#000" stroke-width="1.3"/>
<path d="M416.25 631.5V643M413.45 631.5H419.05M413.45 643H419.05" fill="none" stroke="#000" stroke-width="1.3"/>
<path d="M442.75 624.5V630.2M439.95 624.5H445.55M439.95 630.2H445.55" fill="none" stroke="#000" stroke-width="1.3"/>
<path d="M469.25 585.5V593.2M466.45 585.5H472.05M466.45 593.2H472.05" fill="none" stroke="#000" stroke-width="1.3"/>
<path d="M495.75 578.8V586.8M492.95 578.8H498.55M492.95 586.8H498.55" fill="none" stroke="#000" stroke-width="1.3"/>
<text x="433.45" y="566.24" font-size="8" text-anchor="middle" font-weight="bold" letter-spacing="0.9">**</text>
<line x1="433" y1="658.8" x2="452.6" y2="658.8" stroke="#000" stroke-width="1.7"/>
<line x1="433" y1="671.2" x2="452.6" y2="671.2" stroke="#000" stroke-width="1.7" stroke-dasharray="8 3.6"/>
<line x1="433" y1="683.2" x2="452.6" y2="683.2" stroke="#000" stroke-width="1.7" stroke-dasharray="4.6 2 1.6 2 1.6 2 6 2"/>
<text x="457" y="661.4" font-size="8.3" textLength="12.6" lengthAdjust="spacingAndGlyphs" stroke="#000" stroke-width="0.1">WT</text>
<text x="457" y="672.8" font-size="8.3" stroke="#000" stroke-width="0.1"><tspan font-style="italic" textLength="27.6" lengthAdjust="spacingAndGlyphs">Ampd3</tspan><tspan font-style="italic" font-size="6" dy="-3.32" textLength="18.4" lengthAdjust="spacingAndGlyphs">T689A</tspan><tspan dy="4.12" textLength="6.64" lengthAdjust="spacingAndGlyphs">/+</tspan></text>
<text x="457" y="684.8" font-size="8.3" stroke="#000" stroke-width="0.1"><tspan font-style="italic" textLength="27.6" lengthAdjust="spacingAndGlyphs">Ampd3</tspan><tspan font-style="italic" font-size="6" dy="-3.32" textLength="18.4" lengthAdjust="spacingAndGlyphs">T689A</tspan></text>
<defs>
<filter id="b1" x="-20%" y="-20%" width="140%" height="140%"><feGaussianBlur stdDeviation="0.9"/></filter>
<filter id="b2" x="-30%" y="-30%" width="160%" height="160%"><feGaussianBlur stdDeviation="1.6"/></filter>
<filter id="b3" x="-30%" y="-30%" width="160%" height="160%"><feGaussianBlur stdDeviation="2.4"/></filter>
<filter id="rough" x="-15%" y="-15%" width="130%" height="130%"><feTurbulence type="fractalNoise" baseFrequency="0.85" numOctaves="2" seed="5" result="n"/><feGaussianBlur in="SourceGraphic" stdDeviation="0.5" result="s"/><feDisplacementMap in="s" in2="n" scale="5" xChannelSelector="R" yChannelSelector="G" result="d"/><feColorMatrix in="n" type="matrix" values="0 0 0 0 0.1 0 0 0 0 0.1 0 0 0 0 0.1 0 0 3.2 0 -1.25" result="na"/><feComposite in="na" in2="d" operator="in" result="tex"/><feMerge><feMergeNode in="d"/><feMergeNode in="tex"/></feMerge></filter>
<filter id="rough2" x="-15%" y="-15%" width="130%" height="130%"><feTurbulence type="fractalNoise" baseFrequency="0.85" numOctaves="2" seed="11" result="n"/><feGaussianBlur in="SourceGraphic" stdDeviation="0.5" result="s"/><feDisplacementMap in="s" in2="n" scale="4" xChannelSelector="R" yChannelSelector="G" result="d"/><feColorMatrix in="n" type="matrix" values="0 0 0 0 0.15 0 0 0 0 0.15 0 0 0 0 0.15 0 0 2.4 0 -1.05" result="na"/><feComposite in="na" in2="d" operator="in" result="tex"/><feMerge><feMergeNode in="d"/><feMergeNode in="tex"/></feMerge></filter>
<filter id="rough3" x="-15%" y="-15%" width="130%" height="130%"><feTurbulence type="fractalNoise" baseFrequency="0.85" numOctaves="2" seed="5" result="n"/><feGaussianBlur in="SourceGraphic" stdDeviation="0.6" result="s"/><feDisplacementMap in="s" in2="n" scale="5.5" xChannelSelector="R" yChannelSelector="G" result="d"/><feColorMatrix in="n" type="matrix" values="0 0 0 0 0.12 0 0 0 0 0.12 0 0 0 0 0.12 0 0 2.6 0 -1.1" result="na"/><feComposite in="na" in2="d" operator="in" result="tex"/><feMerge><feMergeNode in="d"/><feMergeNode in="tex"/></feMerge></filter>
<path id="gateI" d="M48.9 47.5Q57 48.6 64.5 46.9L66.8 52.7L63.3 62L52.6 68.9L47.9 58.4Z" fill="none" stroke="#1a1a1a" stroke-width="0.7" stroke-linejoin="round"/>
<g id="gatesU" fill="none" stroke="#1a1a1a" stroke-linejoin="round">
<path d="M48.9 47.5Q57 48.6 64.5 46.9"/>
<path d="M48.9 47.5L50.1 37.7L53.5 29.6Q59.6 36 63.3 44L64.5 46.9"/>
<path d="M53.5 29.6L57 26.7L65.1 26.7Q68.4 31 69.1 37.7L63.3 44"/>
<path d="M65.1 26.7L78.9 27.9L81.2 30.8L74.3 38.3L69.1 37.7"/>
</g>
<g id="gates2" fill="none" stroke="#1a1a1a" stroke-linejoin="round" stroke-linecap="round"><path stroke-width="1" d="M50 46.2Q49.4 36 54.1 28.3Q57 25.7 61 25.7L65.6 26Q69.4 31 68.5 36.9Q66.6 41 63.4 44.8Q57 48 50 46.2M54.1 28.3Q60 34 63.4 44.8"/><path stroke-width="0.6" opacity="0.75" d="M65.6 26L80.1 27.7L81.8 30.6L75.4 36.9L68.5 36.9"/><path stroke-width="0.7" d="M50 46.2L63.9 45.6L66.2 50.8L63.9 60L54.7 68.6L48.3 61Z"/></g>
<g id="gates3" fill="none" stroke="#1a1a1a" stroke-linejoin="round" stroke-linecap="round"><path stroke-width="1" d="M49.5 45.6Q49.2 36 54.1 28.3Q57 25.6 61 25.5L65.6 26Q69.4 31 68.5 37Q66.6 41 63.3 43.9Q56 47.6 49.5 45.6M55.3 28.9Q60.4 34 63.3 43.9"/><path stroke-width="0.95" d="M65.6 26Q72 24.7 76.6 25.4Q80.4 27 80.6 29.5Q80.4 32 78.9 34L73.1 39.9L68.5 38"/><path stroke-width="0.6" opacity="0.6" d="M65 47.3L66.8 55.4L57 68L48.9 64.7L48.3 55.3"/></g>
</defs>
<rect x="43.75" y="11.25" width="70.65" height="59.35" fill="#fff" stroke="#9a9a9a" stroke-width="0.6"/>
<line x1="43.25" y1="13.25" x2="43.25" y2="70.6" stroke="#555" stroke-width="1.1" stroke-dasharray="0.5 1"/>
<line x1="43.75" y1="70.8" x2="114.4" y2="70.8" stroke="#333" stroke-width="1.1" stroke-dasharray="0.9 0.9" opacity="1"/>
<line x1="41.35" y1="17.65" x2="43.75" y2="17.65" stroke="#111" stroke-width="0.9"/>
<text x="41.35" y="18.25" font-size="3" text-anchor="end" fill="#111">10<tspan font-size="2.2" dy="-1">4</tspan></text>
<line x1="41.35" y1="32.45" x2="43.75" y2="32.45" stroke="#111" stroke-width="0.9"/>
<text x="41.35" y="33.05" font-size="3" text-anchor="end" fill="#111">10<tspan font-size="2.2" dy="-1">3</tspan></text>
<line x1="41.35" y1="47.25" x2="43.75" y2="47.25" stroke="#111" stroke-width="0.9"/>
<text x="41.35" y="47.85" font-size="3" text-anchor="end" fill="#111">10<tspan font-size="2.2" dy="-1">2</tspan></text>
<line x1="41.35" y1="62.05" x2="43.75" y2="62.05" stroke="#111" stroke-width="0.9"/>
<text x="41.35" y="62.65" font-size="3" text-anchor="end" fill="#111">10<tspan font-size="2.2" dy="-1">1</tspan></text>
<g transform="translate(0 0)">
<path d="M50 28L53 19L62 16.5L78 18L86 24L84 32L76 41L68 48L69 58L64 67L52 70L47.5 60L47.6 44Z" fill="#cfcfcf" filter="url(#b3)" opacity="0.75"/>
<path d="M83 24.2h.01M62.7 20.8h.01M67.8 17.7h.01M71.2 19.5h.01M59.3 24.3h.01M66.6 26.4h.01M67 22.8h.01M50.7 17.8h.01M76.6 23.9h.01M72.8 22.2h.01M60.9 23.8h.01M65.3 22.8h.01M72 20.8h.01M64.5 22.9h.01M65.2 18h.01M53 24h.01M71.8 27.3h.01M68.6 18.4h.01M69.4 24.3h.01M53 17.4h.01M82.2 28h.01M68.1 25.9h.01M63.4 21.3h.01M85.8 28.1h.01M66.7 20.9h.01M53.5 18.8h.01M63.4 20.1h.01M77 22.4h.01M63 22.6h.01M60.2 19.6h.01M76.8 26.3h.01M51 24.5h.01M72.2 21.3h.01M48 15.3h.01M60.5 24.4h.01M55.2 25.4h.01M80.9 23.4h.01M84.2 19.6h.01M63.8 23.1h.01M74.4 28.8h.01M66 15.6h.01M72.2 24.8h.01M60 20.6h.01M51.2 17.7h.01M49.8 22.5h.01M71.1 18.2h.01M88.1 25.8h.01M69.1 27.5h.01M62 22.6h.01M85.4 21.3h.01M69.9 16.4h.01M68.4 18h.01M70.1 16.2h.01M65.1 28.1h.01M64.2 21.3h.01M53.8 17.3h.01M72.2 18.4h.01M66.5 18.6h.01M78.4 22.5h.01M64 17.5h.01M48.4 26.6h.01M66.3 19.7h.01M83.4 21.4h.01M63.3 23.2h.01M58 26.8h.01M55.2 26.1h.01M57.3 19.7h.01M64.1 23.1h.01M55.8 21.9h.01M81 25.9h.01M64.2 23.1h.01M68.4 19.2h.01M81.1 19.4h.01M81.1 24.6h.01M65.4 18.1h.01M69.6 27.7h.01M73.9 23.4h.01M65.6 18.6h.01M50.3 19.6h.01M73.4 21.3h.01M75.5 22.9h.01M70.6 26.3h.01M58.8 16.4h.01M65.9 15.6h.01M61.3 23.1h.01M64.2 21.6h.01M79.2 24.4h.01M81.3 25.6h.01M73.4 22.5h.01M71.9 25.9h.01M73.7 20h.01M66.9 22.7h.01M66.6 19.5h.01M61.1 17.8h.01M66.2 24.6h.01M88.1 26.8h.01M75.9 16.4h.01M64.2 18.1h.01M62.4 23.1h.01M58.4 25.5h.01M70.8 20.5h.01M70.8 22.2h.01M53.9 16h.01M70.7 32h.01M61.4 23.6h.01M80.1 27.1h.01M68.2 25h.01M82.9 27.5h.01M62.4 24.2h.01M64.4 21h.01M69.6 25.5h.01M76.9 23.8h.01M71.9 27.7h.01M55.6 18.6h.01M68.9 20.7h.01M67 24.9h.01M62.5 26.7h.01M60.8 22.4h.01M83.8 21.7h.01M63.4 21.7h.01M59.2 19.9h.01M72.3 29.9h.01M67.9 25.8h.01M65.8 27h.01M74.3 24.4h.01M71.8 21h.01M70 27.1h.01M75.5 29.4h.01M69.5 24.9h.01M61.2 21.8h.01M63.2 26h.01M62.2 20.7h.01M68.7 25.4h.01M57.1 18.9h.01M50.1 17.2h.01M67.6 24.6h.01M54.2 22.4h.01M47.8 27.4h.01M70.6 21.9h.01M60.3 21.9h.01M72.1 18.9h.01M62.7 15.3h.01M57.1 15h.01M55.1 22.9h.01M62.6 17.8h.01M64 26.3h.01M58.7 26.8h.01M64.5 21.2h.01M51.9 26.9h.01M67.1 23.3h.01M49.6 24.7h.01M65.3 21.5h.01M73.2 26.6h.01M77.7 20.2h.01M83 26.4h.01M52.5 19.3h.01M74.2 22.8h.01M78.2 26h.01M76.2 24.1h.01M58.2 21.3h.01M70.6 25.5h.01M84.3 27.2h.01M53.4 16.1h.01M71.3 25h.01M77.3 26h.01M60.7 19.1h.01M72.4 24.5h.01M57.4 16.7h.01M58.8 26.8h.01M59.4 20.8h.01M68.8 22.4h.01M65.7 26.7h.01M76.1 22.9h.01M57.9 23.7h.01M66.2 18.6h.01M76.3 21.4h.01M72.8 18.1h.01M54.6 20.4h.01M72.9 26.9h.01M62.4 22.8h.01M70.3 26h.01M70.2 19.1h.01M78.9 20.5h.01M68.3 20.9h.01M49.3 22.7h.01M53.9 22.4h.01M73.9 23.2h.01M64.3 24.5h.01M77.8 23.1h.01M69.6 22.7h.01M59.4 26.4h.01M77.4 21.5h.01M59.3 22.4h.01M86.5 24.9h.01M48.7 23.1h.01M73.2 21h.01M75.1 30.4h.01M69.2 14.6h.01M51.5 16.8h.01M77 19.7h.01M52.8 26.9h.01M54.2 22.4h.01M63.7 21.2h.01M74.9 18.7h.01M69.7 24.1h.01M74.6 23.7h.01M63.1 19.6h.01M65.9 17h.01M56.7 17.4h.01M63.9 22.9h.01M72.5 24.2h.01M64.1 22.5h.01M71.5 22.4h.01M62.2 15.6h.01M61.4 22.1h.01M67.8 18.8h.01M65.1 22.5h.01M72.4 24.8h.01M68.9 20.3h.01M83.8 20.6h.01M64.6 25.8h.01M64.7 23.5h.01M57.4 19.2h.01M73.5 23h.01M59.8 24h.01M66.1 26.5h.01M74 20.8h.01M66 20.1h.01M62.3 20.4h.01M75.9 26.5h.01M68.4 18.4h.01M70.8 22.5h.01M78.4 20.3h.01M77.7 24.6h.01M64.3 16.6h.01M61.9 23.3h.01M69.9 21h.01M65.8 21.6h.01M48.9 22.5h.01M78.6 27.9h.01M67.8 16.4h.01M73.6 26.8h.01M55.7 23.3h.01M79.3 22.7h.01M60.9 26.9h.01M65.9 23.1h.01M53.3 25.7h.01M65.6 20.2h.01M65.2 19.2h.01M64.8 26.7h.01M70.3 30.7h.01M67.3 24.8h.01M75.9 26.7h.01M62.8 20.3h.01M58.1 16.8h.01M66.9 21.7h.01M72.4 28.5h.01M79.5 17.1h.01M74.9 21.5h.01M70.5 23.3h.01M80.5 27.1h.01M68.1 18.1h.01M62.3 20.5h.01M69.4 27.6h.01M62.3 21.7h.01M73.5 18.7h.01M67.4 17.8h.01M80.9 16.7h.01M71.4 25.8h.01M60.4 19.1h.01M72.3 26.9h.01M75.5 26.5h.01M61.9 19.6h.01M63.2 20.2h.01M75.5 23.9h.01M61.3 22.9h.01M50 24h.01M65.2 19.1h.01M75 15.1h.01M66.4 20.2h.01M71.3 24.5h.01M55.8 28.9h.01M54.5 19.8h.01M75.9 18.6h.01M70.9 30.6h.01M66.7 23h.01M79.2 22.8h.01M58.4 17.7h.01M63.4 18.5h.01M76.1 28.8h.01M84.5 23.4h.01M67.3 20.6h.01M83.1 22.3h.01M60.7 27.5h.01M70.3 20.7h.01M65.1 24.6h.01M51.9 21.9h.01M69.3 23.6h.01M76.1 20.3h.01M65.4 24.7h.01M65.7 28.2h.01M80.2 23.7h.01M55.5 18h.01M53.3 16.4h.01M60.7 22.5h.01M55.8 20.3h.01M79.8 23.5h.01M69.9 22.8h.01M59.4 16.4h.01M60.9 24.7h.01M93.9 26.2h.01M61.3 21.6h.01M59.7 22.6h.01M69.5 26.1h.01M73 23.3h.01M69.4 19.7h.01M58 25.8h.01M56.2 19.8h.01M72.9 20.5h.01M67.1 16.9h.01M51.5 20.9h.01M78.5 19.9h.01M74.5 21.4h.01M64.6 23.9h.01M64.5 22.4h.01M68.8 26.4h.01M60.4 22.9h.01M54.4 19.7h.01M70.2 21.6h.01M53.6 19.3h.01M70.4 25.2h.01M53.4 21.1h.01M66.2 20.9h.01M65.4 25.4h.01M83.8 24.6h.01M57.1 19.8h.01M54.2 15.7h.01M60.7 23.4h.01M56.3 22.2h.01M61.4 22.1h.01M71.1 21.4h.01M74.6 20.3h.01M82.8 23.3h.01M60 22.6h.01M92 24.7h.01M85.8 24h.01M65.3 20.6h.01M66.1 23.3h.01M68 19.9h.01M67.4 25.4h.01M64.8 25.2h.01M59.6 21.3h.01M73 22.4h.01M76.9 19.3h.01M62.1 24.7h.01M70 15.1h.01M61 20.5h.01M59.7 20.5h.01M67.4 25.6h.01M71.9 23h.01M62 18.5h.01M72.8 20.5h.01M51.9 21.3h.01M68.1 22.8h.01M83.9 23.6h.01M67.1 20h.01M55.8 20.6h.01M52.8 24.6h.01M78.5 19.7h.01M66.8 22.6h.01M71.5 28.8h.01M75.5 25.4h.01M66.7 20.8h.01M63.8 24.6h.01M58.3 18.9h.01M52.1 26.6h.01M65.6 29.2h.01M66 16.2h.01M70.5 25.4h.01M65.1 29.4h.01M68.7 20.7h.01M74.3 24.2h.01M58.1 27h.01M64.5 20.5h.01M51.6 22.5h.01M76.2 23.3h.01M68.1 15.6h.01M71.5 24.2h.01M81.6 23.4h.01M76.9 26.9h.01M65.6 29.9h.01M74.2 25.7h.01M53.6 19.8h.01M70.9 24.5h.01M68.2 23.4h.01M51.3 24.6h.01M80.2 18.7h.01M60.8 17.6h.01M74.2 15.9h.01M62.8 24.3h.01M76.4 23.4h.01M79.6 21.5h.01M59.4 19.1h.01M52.8 18.9h.01M66.1 19h.01M75.1 22.2h.01M63.7 20.4h.01M60.7 26.9h.01M71.5 24.1h.01M60.9 19.7h.01M53.5 25.4h.01M69.6 24.4h.01M59.9 22.8h.01M56.2 24h.01M63.1 27.8h.01M53.6 16.7h.01M67.2 19.8h.01M61.2 15.6h.01M63.2 23.9h.01M60.4 20.4h.01M75.9 21h.01M66.3 19.7h.01M71.7 25.5h.01M71.6 22.5h.01M59.6 19.8h.01M71.9 27.6h.01M70.7 19.1h.01M70.4 18.3h.01M62.3 31.4h.01M63.1 20.8h.01M74.6 21.3h.01M87.9 22.1h.01M59.2 21.2h.01M71.8 25.8h.01M63.3 24.8h.01M74.2 25.2h.01M71.2 21.9h.01M77.6 18.2h.01M60.7 27.3h.01M57.3 25.3h.01M66 21.8h.01M59.9 24.7h.01M61.1 20.5h.01M73.5 23h.01M85.4 20h.01M64 22.7h.01M70 22.2h.01M82.3 32.6h.01M90.4 29.9h.01M84.1 27.2h.01M71.3 29.1h.01M71.9 37h.01M71.3 34.7h.01M70.4 38h.01M76.5 33.5h.01M80.2 34.2h.01M78.5 34.8h.01M78.9 35.4h.01M76.1 30.7h.01M77.1 37.2h.01M70.1 33.7h.01M87.6 27.2h.01M86.6 36.2h.01M70.7 37.5h.01M67.7 31.9h.01M75.1 40.6h.01M78.2 36.6h.01M86.6 32.8h.01M83.1 30.2h.01M83.8 30.5h.01M82.7 28.3h.01M81.9 26.5h.01M83.9 36.1h.01M78.3 30h.01M74.3 31.6h.01M63.6 37.5h.01M78.8 40.4h.01M89.7 29.9h.01M71.7 33.5h.01M71.8 35h.01M83.7 31.3h.01M78.3 36h.01M69.6 28.7h.01M88.1 30.9h.01M79.7 30h.01M79.7 27.8h.01M71.5 33.5h.01M80.9 34.2h.01M82 38.2h.01M81.4 30.8h.01M84.7 31h.01M81.9 26h.01M78.1 34.2h.01M82.2 33.6h.01M65.5 31.5h.01M79.3 28.8h.01M82.1 33.5h.01M70 27.8h.01M70.1 34.3h.01M76.8 35.4h.01M64.6 31h.01M77.5 30.3h.01M78.1 32.2h.01M71.5 39.6h.01M73.8 28.1h.01M85.3 33.4h.01M83.6 30.4h.01M85.1 33.9h.01M77.3 37.8h.01M74.4 35.5h.01M74.4 36.2h.01M76.5 24.5h.01M88.9 19.7h.01M83.3 24.3h.01M85.8 26.1h.01M86.8 31.7h.01M61.8 32.1h.01M74 32.5h.01M70.5 29.6h.01M81.2 22.8h.01M90.1 32.5h.01M71.8 35.7h.01M79.5 38.9h.01M82 35.4h.01M70.9 31.3h.01M68.2 28.3h.01M75.6 43.1h.01M81.1 28.4h.01M67.7 32h.01M84.9 31.6h.01M76.8 33.2h.01M79.7 27.9h.01M85.5 26.3h.01M71.9 36h.01M70.7 36.1h.01M80.3 34.3h.01M68.5 35.3h.01M70.5 34.3h.01M76.4 35.6h.01M77.7 33.6h.01M69.9 41.4h.01M73 33.4h.01M79.7 30.6h.01M82.6 24h.01M66 45.5h.01M81.9 23.2h.01M82.2 30.7h.01M67.1 33.5h.01M67 39.4h.01M80.2 34.3h.01M70 28.4h.01M76.5 31.7h.01M78.2 23.5h.01M76.3 39.5h.01M76.2 30.8h.01M76 25.5h.01M80.5 27.3h.01M90.2 31.7h.01M90.2 32.6h.01M80.1 36.9h.01M72.9 30.9h.01M91.4 24.1h.01M83.4 36.8h.01M77.4 28.8h.01M68.1 35.6h.01M79.3 26.7h.01M68.6 31.4h.01M75.4 39.1h.01M68.4 40h.01M73.5 36.5h.01M77.6 34.9h.01M68.1 42h.01M73.1 41.7h.01M75.5 33.2h.01M67 36.2h.01M65.7 33.6h.01M72.7 39.9h.01M65.7 36h.01M77.1 25.3h.01M68.9 35.5h.01M81.1 30.4h.01M83.7 32.8h.01M70.1 40.9h.01M74.8 30.1h.01M71.3 31.7h.01M67.9 35.8h.01M71.4 29.7h.01M74.2 33.4h.01M81.6 32.2h.01M82.8 29.6h.01M65.6 30.9h.01M71 30h.01M82 35.9h.01M81.8 25.1h.01M61.3 44.3h.01M85.7 30.9h.01M74.3 32.4h.01M84.2 23.9h.01M73.6 35.3h.01M68.8 32.6h.01M76 32.2h.01M83.9 29.3h.01M74.8 30.2h.01M60 40.4h.01M79.9 29.5h.01M62.9 34.1h.01M69.2 35.7h.01M67.1 34.7h.01M60.3 32.7h.01M67.1 36.2h.01M68.9 35.4h.01M70.8 32.9h.01M71.6 25.5h.01M75.3 37.1h.01M67.5 40.7h.01M76.1 36.1h.01M83.1 30.8h.01M79.8 25h.01M77.1 33h.01M78.3 27.4h.01M86.2 38h.01M84 26.3h.01M88.6 29.5h.01M70.8 28.4h.01M71.9 29.6h.01M84.7 25.8h.01M87.7 30.1h.01M87.3 29.6h.01M61 42.3h.01M70.9 26.9h.01M56.7 48.7h.01M79 27h.01M79.6 38.8h.01M80 39.7h.01M76.7 36.5h.01M86.6 32.1h.01M71.6 29.4h.01M87.9 38.9h.01M80.1 31.9h.01M80.3 35.5h.01M77.4 28.2h.01M76.6 32.4h.01M66.4 32.4h.01M80.3 29.6h.01M80.8 30.5h.01M75.6 34.5h.01M83.6 35.6h.01M82.9 31.6h.01M68 38.4h.01M75.1 33.6h.01M77 42h.01M68.9 34h.01M80.5 36.3h.01M66.5 28.7h.01M71.4 31.3h.01M78.4 33.7h.01M78 31.2h.01M84.1 43h.01M95.9 34.7h.01M69.7 29.1h.01M75.5 28.1h.01M67.7 36.7h.01M82.6 37.8h.01M85.9 33.2h.01M84.7 29.9h.01M69 30h.01M72.5 30.9h.01M79.1 18.6h.01M72.4 27.6h.01M83.2 31.2h.01M71.1 39.4h.01M82.6 23.3h.01M83 29.8h.01M82.3 37.4h.01M71 36.4h.01M74.3 32.4h.01M78.2 34.8h.01M78.8 34h.01M75.5 33.7h.01M73.5 31.8h.01M76.4 30.8h.01M85.4 28.4h.01M61.6 38.1h.01M69.6 42.8h.01M67.5 41.8h.01M73.6 39.5h.01M68.5 46.7h.01M82.8 36.9h.01M79.4 37.9h.01M75.1 35.3h.01M71.1 34.7h.01M81.6 41h.01M75.9 29.9h.01M77 29.6h.01M69.5 32.4h.01M80.7 31.5h.01M67.1 39.7h.01M86.3 32.4h.01M55.2 43h.01M68.7 28.7h.01M68.7 38.4h.01M83.2 33.8h.01M66.2 38.4h.01M87.8 26.1h.01M66.9 40.5h.01M92.3 31.2h.01M78.8 31.2h.01M73.4 27.6h.01M77.8 29.4h.01M90.2 24.7h.01M78.4 23.2h.01M62.7 43.7h.01M82.4 26h.01M78.5 34.1h.01M65.7 39.4h.01M80.4 29.2h.01M71.2 43.3h.01M76.1 30.3h.01M76.2 29.7h.01M72.3 36.4h.01M81.9 33.8h.01M69.2 36.6h.01M75.3 28.7h.01M73.7 37.5h.01M76 35.9h.01M92.8 33.9h.01M76.3 31.8h.01M69.2 37.6h.01M74.1 31.3h.01M68 30.2h.01M76.3 33.2h.01M78.8 35.6h.01M74.6 28.9h.01M75.2 30.2h.01M70.1 30.6h.01M81.6 36.4h.01M81.8 26.9h.01M73 37.3h.01M73.9 30h.01M76.6 33.1h.01M83.1 26.3h.01M78.5 20.5h.01M71.3 35.9h.01M77.5 34.7h.01M62 30.5h.01M69.3 35.8h.01M75.2 31.3h.01M53.6 63.2h.01M64.2 35.2h.01M51.8 48.5h.01M66 39.9h.01M69 50.5h.01M57.2 41.3h.01M61.8 51.3h.01M71.4 45.6h.01M65.3 39.8h.01M58.7 54h.01M54.5 63.1h.01M62.3 55.1h.01M61.1 52.6h.01M67.5 42.6h.01M54.1 49.2h.01M67 57.1h.01M61.2 45.2h.01M63.8 60.8h.01M58.3 50.4h.01M54.4 53.4h.01M60 46.4h.01M57.9 46h.01M59.6 53.2h.01M64.8 55.9h.01M67.2 56.1h.01M65.2 42.4h.01M60.6 44.2h.01M59.7 50.9h.01M68.9 35h.01M66.1 62.6h.01M59.7 54.1h.01M61.3 51.8h.01M59.5 44.1h.01M61.6 59.4h.01M67.8 50.1h.01M62.7 55.5h.01M62.1 37h.01M48.1 55.6h.01M64.8 47h.01M62.6 46.6h.01M64.6 49.7h.01M55 48.7h.01M73.1 56.3h.01M61.2 58.7h.01M59.4 55.3h.01M71.7 46.5h.01M68.3 39.7h.01M68.2 44.9h.01M67.7 56.2h.01M49.3 57.2h.01M62.9 38.6h.01M63.5 52.5h.01M67.5 50.4h.01M59.1 46.9h.01M63.6 53.1h.01M66.7 50h.01M62.4 48.9h.01M66.1 46h.01M52.7 53.3h.01M53.6 59.9h.01M52.7 65.3h.01M65.2 47h.01M84.3 45.9h.01M64 49.3h.01M63 43.5h.01M59.7 60.9h.01M69 45h.01M65.8 53h.01M58.6 37.7h.01M68.3 49.4h.01M61.6 53.2h.01M63.5 66.6h.01M52.7 42.7h.01M53 53.1h.01M69.4 32.8h.01M54.8 38.2h.01M65.8 44.3h.01M64.9 47.2h.01M62.1 55.6h.01M62.8 57.7h.01M66.7 36.8h.01M63.5 56.9h.01M62.1 40.6h.01M58.4 68.4h.01M77.3 57.7h.01M67.9 54.1h.01M65.8 50.5h.01M64.3 51.6h.01M58.2 50.6h.01M64.7 45.2h.01M59.3 58.1h.01M66.7 55h.01M55.7 57.3h.01M49.5 48.1h.01M57.8 57.1h.01M67.4 45.2h.01M69 46h.01M57.7 46.1h.01M59 60.1h.01M54.6 61.8h.01M62.7 43.8h.01M60.6 34.9h.01M56 36.5h.01M66.5 42.7h.01M64.7 44.3h.01M61.5 49.7h.01M62 61.4h.01M70.9 63.8h.01M64 45.9h.01M59 56h.01M65 60.6h.01M50.5 62.6h.01M66.5 50.8h.01M59.4 43.6h.01M56.3 57.4h.01M59.7 65.6h.01M72.2 48.4h.01M54.3 68.6h.01M63.9 68.4h.01M64.7 49.4h.01M57.7 35.2h.01M68.2 46.9h.01M58.4 47.2h.01M53.2 54.6h.01M61.2 34.9h.01M59.6 43.8h.01M73.8 35.8h.01M63.7 50h.01M57.4 54.5h.01M55 62.9h.01M62 58.2h.01M51.6 47.2h.01M54.3 30.6h.01M56.4 55.1h.01M63.9 59.9h.01M63.7 48.7h.01M61.7 53.9h.01M60.6 53h.01M50.9 46.6h.01M62.7 40.2h.01M51.9 52.5h.01M69.4 39.1h.01M59.3 64.4h.01M63.4 42.9h.01M63.3 56.4h.01M65.3 44.9h.01M62.6 55.1h.01M64.4 49.8h.01M57.9 55.6h.01M56.5 42.4h.01M67.2 36.6h.01M70.5 50.4h.01M68.3 49.2h.01M64 37.1h.01M66.8 45.6h.01M63.1 35.3h.01M64 52.8h.01M59.6 47.1h.01M62.9 51.6h.01M66 53.7h.01M69.5 56.5h.01M56.7 56.3h.01M58.7 49.2h.01M63.1 45.8h.01M63.4 60.1h.01M59 60.6h.01M73.4 25.4h.01M59.5 49.2h.01M70.1 49.7h.01M68.5 47.2h.01M53.7 61.6h.01M66.3 47h.01M59.2 59.1h.01M68.7 47.4h.01M60.1 46.9h.01M62.4 58.4h.01M66.5 45h.01M47.7 46.6h.01M54.2 38.9h.01M64.6 43.2h.01M60 57.8h.01M66.5 57.9h.01M65.6 40.9h.01M57.7 38.8h.01M59.4 44.4h.01M62.6 42.9h.01M58.4 55.4h.01M65.6 44.5h.01M55.2 46.2h.01M54.4 58.3h.01M48.2 58h.01M74.1 51.9h.01M54.1 62.6h.01M57.8 48.9h.01M56.4 47.7h.01M58.7 50.5h.01M60.4 47.9h.01M64.4 56.9h.01M62.5 54.1h.01M65.5 44.4h.01M58.6 52.3h.01M62.8 46.1h.01M69.8 47.3h.01M62.3 49.9h.01M61.8 61.1h.01M50.7 51.5h.01M62.4 63.6h.01M60.5 66.1h.01M69.2 52.4h.01M48.5 42.5h.01M63.8 44h.01M60.9 53.7h.01M60.9 59.4h.01M55.6 65.2h.01M65.8 39.3h.01M64 60.6h.01M60.2 61.3h.01M60.6 52.8h.01M60 50.5h.01M65.3 37.2h.01M59.7 43.2h.01M53.5 38.7h.01M49.7 33.1h.01M50.1 32.7h.01M50 49.9h.01M53 42.2h.01M53.2 49h.01M54.2 25.6h.01M56.1 38.6h.01M55.9 39.6h.01M53.7 24.9h.01M51 20.6h.01M52.4 18.5h.01M54 32.8h.01M49.1 54.3h.01M57.5 38.5h.01M61.5 27.6h.01M53.8 38.8h.01M52.5 33.4h.01M52 37.2h.01M53.4 32.3h.01M56.6 26.1h.01M51 31.3h.01M53.8 41.9h.01M51.5 38.2h.01M54.7 46.2h.01M59 28.3h.01M57.3 45.3h.01M52.2 36.4h.01M47.9 36.7h.01M52 34.8h.01M47.6 37.2h.01M50.7 41h.01M48.3 41.9h.01M53.4 46.7h.01M58.7 41.5h.01M52.6 32.5h.01M50.5 55.6h.01M52.9 39.3h.01M51.4 29.9h.01M52 18.4h.01M58.2 37.7h.01M48.6 35.7h.01M51.7 42.5h.01M52.4 44.2h.01M52.4 44.2h.01M53.2 36.4h.01M49.6 36.4h.01M55.7 35h.01M54.7 29.5h.01M60 27.5h.01M51.7 35.5h.01M55.8 38.6h.01M50.8 18.6h.01M47.7 41.4h.01M51.3 33.2h.01M50.1 37.6h.01M56.8 34.3h.01M49.3 23.2h.01M53.1 37.9h.01M49.2 36.5h.01M53.2 44.5h.01M52.9 40.2h.01M53.3 22.7h.01M58.9 46.3h.01M51.6 42.6h.01M55.5 43h.01M47.6 39.3h.01M53.4 30.7h.01M52.4 40.6h.01M53.8 33.5h.01M47.6 58.8h.01M50.3 33.9h.01M51.3 33.3h.01M47.7 47.1h.01M52.7 31.7h.01M59.2 17.6h.01M58.4 49.2h.01M54.2 39.2h.01M57 33h.01M54 42.3h.01M56.6 29.5h.01M56.5 27.4h.01" fill="none" stroke="#444" stroke-width="0.6" stroke-linecap="square" opacity="0.5"/>
<path d="M48.6 48L49.8 37.4L53.3 29.3L57 26.3L65.2 26.3L79 27.5L81.6 30.8L74.5 38.8L69.3 38.2L64.8 45.4L64.6 48Z" fill="#a4a4a4" filter="url(#rough2)"/>
<path d="M48.6 47L64.6 46.6L67 52.8L63.5 62.2L52.6 69.2L47.7 58.4Z" fill="#9e9e9e" filter="url(#rough2)"/>
<path d="M66.5 28L77.6 28.6L79.6 31L73.6 37L69.8 36.4Z" fill="#6c6c6c" filter="url(#b1)" opacity="0.55"/>
<path d="M62.6 50L65.6 53L62.6 61L58 65Z" fill="#cfcfcf" filter="url(#b1)" opacity="0.5"/>
<path d="M61.2 45.3h.01M54.1 63h.01M57.7 67.8h.01M56.1 62.6h.01M58.9 66.8h.01M57.4 52.9h.01M48.9 55.6h.01M59 59.4h.01M54.9 55.3h.01M58.9 68.5h.01M57.9 47.4h.01M62.4 53h.01M55.6 54h.01M49.3 51h.01M54.9 62.3h.01M59.8 42.8h.01M54.6 64.4h.01M54.3 62.7h.01M62 59.3h.01M55.2 66.3h.01M57.1 57.9h.01M50.7 61.2h.01M52.8 59h.01M55.1 60.1h.01M58.1 53.2h.01M54 51.3h.01M50.9 60.4h.01M53.1 52.7h.01M54.1 63h.01M52.8 61.9h.01M54.7 53.4h.01M63.4 59.8h.01M57.6 57.3h.01M53.6 55.4h.01M55.9 64.6h.01M62.5 57.5h.01M58.9 58.5h.01M57.4 43.1h.01M51.1 60.4h.01M51 46.1h.01M55.5 53.9h.01M55.2 67.9h.01M49.3 68.6h.01M51.7 53.6h.01M57.2 47.9h.01M47.9 58.8h.01M50.3 53.4h.01M56.2 59.1h.01M59.5 47.5h.01M57.1 64.6h.01M59.4 67.9h.01M63.4 47.2h.01M60.4 51.7h.01M56 51.8h.01M64.2 62.6h.01M64.2 43.6h.01M60 58.5h.01M53.6 54.9h.01M58.6 51.4h.01M48.2 61h.01M56.5 43.1h.01M48 46.4h.01M55.5 51.2h.01M60.1 62h.01M56.9 54.3h.01M63.2 51.5h.01M56.3 60.1h.01M57.3 53.5h.01M55.9 52.2h.01M58.8 54.8h.01M56.3 59.1h.01M63.4 49.7h.01M57.9 58.9h.01M52.5 55.4h.01M58.9 55.2h.01M60.8 67.9h.01M58.6 62.4h.01M57.3 61.6h.01M60.5 54h.01M62.1 51.4h.01M46.6 58.1h.01M62.6 55.4h.01M59.9 53.1h.01M58.1 61.7h.01M55.3 48.3h.01M57.9 51.9h.01M58.5 62.6h.01M51.1 55.9h.01M59.1 61.8h.01M57.4 51h.01M61.8 62.3h.01M59.6 52.2h.01M55.2 66.3h.01M56.4 62.5h.01M58.8 60.4h.01M56.3 67.7h.01M58.5 59.6h.01M54.3 52.3h.01M51 67.4h.01M54.3 59.2h.01M50.5 65h.01M53.6 57.8h.01M57.3 65.2h.01M51 50.5h.01M52.8 47.8h.01M60.3 47.5h.01M54.2 62.2h.01M57.8 43.4h.01M53 44.2h.01M53.5 46.8h.01M55.3 58.6h.01M62.5 60.7h.01M58.8 51.5h.01M49.8 62h.01M58.1 59.5h.01M59.4 65.8h.01M58.7 63.9h.01M52.4 51.9h.01M56.3 58.5h.01M64.8 56.7h.01M52.8 60h.01M57.8 58.6h.01M53.8 57.1h.01M51.4 61.7h.01M55 57.4h.01M60.1 62.6h.01M61 57.8h.01M53.4 55.8h.01M54.3 63.4h.01M52.7 63.5h.01M48 65.1h.01M58.5 61.7h.01M62.7 56.2h.01M62.2 59h.01M54.8 58.1h.01M62.7 45.4h.01M61.5 49.7h.01M54.4 67.7h.01M56.7 56.8h.01M57 37.2h.01M57.6 56.4h.01M63.4 58.9h.01M53.9 48.3h.01M59.3 65.3h.01M56.4 62.8h.01M49.6 55.2h.01M52.5 60.2h.01M53 62.7h.01M54.1 60.3h.01M58.3 52.6h.01M60.3 58.8h.01M56 58h.01M57.1 59.2h.01M54.5 49.6h.01M60.4 59.3h.01M61.8 57.6h.01M55.5 58.7h.01M53.8 58.2h.01M65.4 47.8h.01M59.7 63.3h.01M52.9 62h.01M51.1 47.2h.01M55.7 56.3h.01M61.8 51.5h.01M54.9 53.7h.01M55.2 63.9h.01M54.5 60.5h.01M61.9 58.1h.01M52.6 48.8h.01M55.6 57.6h.01M57.5 39.9h.01M53.3 69.1h.01M52 58.3h.01M59.6 60.2h.01M57.2 58h.01M60 51.1h.01M62.6 56.5h.01M55.8 51.2h.01M59.1 53.4h.01M55 58.9h.01M57.2 48.3h.01M57 68.2h.01M56.8 49.2h.01M50.5 61.9h.01M62.9 52.7h.01M58.1 48h.01M52.2 58.9h.01M48.3 57h.01M56.8 54.9h.01M59.3 56.3h.01M61 52.4h.01M60.8 59.7h.01M55.7 52.9h.01M59.2 56.7h.01M50.3 63.5h.01M58.2 47.2h.01M60.6 52.6h.01M54.9 51.4h.01M56.7 50.7h.01M58 46.9h.01M57.5 54.4h.01M62.4 57.8h.01M52.8 55h.01M62.9 45.5h.01M51.7 60.5h.01M53.9 60.8h.01M53.8 56.4h.01M57.1 49.2h.01M55.5 50h.01M55.8 68h.01M64.9 60.1h.01M58.8 49.9h.01M55.1 64.7h.01M58.1 57.4h.01M58.1 67.9h.01M56.5 52h.01M52.3 58.9h.01M53.9 54.3h.01M57.1 61.3h.01M60.4 51.9h.01M58.1 62.6h.01M56.7 53.4h.01M59.5 50.1h.01M54.6 59.8h.01M57.7 57.8h.01M63.5 41.9h.01M61.1 56.1h.01M61.9 57.2h.01M55.3 57.2h.01M53.4 51.2h.01M60.3 56.2h.01M56.3 44.1h.01M52.7 45.5h.01M55.3 51.9h.01M57.9 55.2h.01M48.6 53.9h.01M51.1 60h.01M60.1 61.4h.01M56.6 63.1h.01M56.8 54.9h.01M50.4 58.9h.01M63.3 51.6h.01M60.5 58.9h.01M59.2 59.6h.01M52.9 52.2h.01M61 33.9h.01M61.6 51.9h.01M55.9 55.3h.01M55.4 51.4h.01M59 57h.01M55.2 63.7h.01M55.4 58.2h.01M51.4 54.1h.01M58.3 47.4h.01M61.8 43.2h.01M58.4 46.7h.01M59 31.5h.01M70.7 39.9h.01M65.5 35.6h.01M59.4 42.1h.01M57.2 42.4h.01M52.7 38.8h.01M61.4 34.8h.01M57.8 27.4h.01M61.8 32h.01M60.7 34.8h.01M51 34h.01M51.6 42.4h.01M68.7 40.6h.01M54.6 36.5h.01M65.5 27h.01M47.8 38h.01M55.5 40.8h.01M60.9 48.4h.01M61.6 37.1h.01M63 35.5h.01M53.7 31.9h.01M63.5 37.1h.01M55.9 43.6h.01M56.4 36.1h.01M54.3 39.9h.01M55.4 35h.01M59.2 42.4h.01M65.2 43.1h.01M76.5 30h.01M55.2 43.1h.01M59.1 37.7h.01M61 31.8h.01M57.9 32.8h.01M65 31.2h.01M55.6 40.2h.01M63.3 34.9h.01M59.4 44.2h.01M65.7 38.7h.01M65 44.2h.01M63.3 40.3h.01M56.5 37.2h.01M51.8 42.3h.01M50 31.4h.01M68 43.8h.01M56.9 34.6h.01M61.9 32.9h.01M59.3 49.8h.01M59.5 29.8h.01M62.5 31.2h.01M49.7 42.4h.01M59.6 33.1h.01M68.9 32.4h.01M57.2 40.2h.01M66.3 37.7h.01M59.7 36.3h.01M65.8 38.4h.01M57.2 36.3h.01M58.2 42.1h.01M61.5 44.2h.01M53.1 29h.01M56.6 37.4h.01M56.5 40.2h.01M59.2 24.3h.01M48.2 22.7h.01M55.4 41.7h.01M53.8 36.1h.01M64.4 39.8h.01M49.8 42.7h.01M62.1 35.6h.01M62.1 33.3h.01M66 34.2h.01M55.2 33.4h.01M54.7 36.5h.01M63 40.6h.01M59.8 35.3h.01M67.3 36.2h.01M60.1 36.8h.01M57 36.3h.01M51 35.4h.01M61.5 41.9h.01M57.8 32.5h.01M66.4 35.8h.01M55.8 28.6h.01M66.8 34.9h.01M66.7 35.7h.01M54.6 35.7h.01M50 31.6h.01M56.6 37.8h.01M59.2 38.1h.01M54.7 36.4h.01M61.1 31.6h.01M65.7 39.9h.01M65.1 33.2h.01M60 34.1h.01M60.5 42.4h.01M61.7 35.8h.01M53.8 35.7h.01M63.2 41.1h.01M55.5 37.1h.01M67.9 38.7h.01M64.7 36.4h.01M67.6 41h.01M61.1 39.4h.01M63 38.7h.01M62.2 38.7h.01M68.3 38h.01M67.7 33.1h.01M61.4 39.2h.01M66.6 31.5h.01M62.8 48.6h.01M59.2 31.4h.01M64.4 40.1h.01M51.4 35.2h.01M63 38.9h.01M60.9 45.5h.01M60.3 29.3h.01M61.2 48.3h.01M49.1 36.6h.01M51.7 36.1h.01M61 38.6h.01M58.1 30.5h.01M64.4 41.1h.01M58 41.5h.01M55.4 20.9h.01M53.3 31.1h.01M56.8 33.8h.01M65.6 36.5h.01M56.1 31.9h.01M49.4 38.1h.01M65 38.3h.01M57 31.8h.01M59.1 39.5h.01M61.7 26.6h.01M60.1 43.7h.01M67.1 42.5h.01M57.2 30.7h.01M64.6 18h.01M46.9 33h.01M63.7 41.3h.01M59.8 33.1h.01M68 39.4h.01M54.1 31.1h.01M54.3 33.7h.01M65.8 32.7h.01M61.2 43.5h.01M60.5 35h.01M56.6 31.7h.01M62.5 37.4h.01M54.1 40.8h.01M59 40.8h.01M59.1 36.1h.01M58.5 33.4h.01M64.9 34.1h.01M54.9 22.8h.01M63.3 36.7h.01M63.3 43.3h.01M67.2 36.4h.01M54.4 33.6h.01M54.9 29.2h.01M57.1 47.5h.01M53.7 37h.01M63.1 33.6h.01M60.3 38.1h.01M49.8 38.6h.01M59.8 37.2h.01M63.3 45.2h.01M53.3 37.3h.01M67.1 45.8h.01M59.8 39.5h.01M60.9 38.5h.01M66.9 39.3h.01M59.8 43.2h.01M67.9 39.5h.01M60.3 40.4h.01M57 34.6h.01M70.5 41.9h.01M61.2 35.1h.01M55.6 33.7h.01M62 41.8h.01M62.8 39.7h.01M53.3 40.5h.01M63.1 35.5h.01M61.6 39.9h.01M59.8 50.1h.01M55.4 39h.01M60.1 28.2h.01M52.5 37.3h.01M71.1 33.9h.01M54.5 38.6h.01M58.8 33h.01M50.6 47.3h.01M61.7 40.9h.01M56.9 37.2h.01M62.9 37.1h.01M58.8 33.1h.01M56.5 34.7h.01M68.5 29.6h.01M59.3 27.9h.01M57.5 40.6h.01M61.1 35.6h.01M57.5 39h.01M65.8 34.4h.01M55 34.5h.01M58.6 33.5h.01M52.2 35.8h.01M67.2 41.8h.01M55.3 27.9h.01M59.4 36.4h.01M66.4 38.7h.01M63.8 27h.01M60.4 29.8h.01M48.9 36.3h.01M56.1 26.5h.01M64.3 42.1h.01M53.7 38.4h.01M48.9 35.1h.01M55.7 34.4h.01M58.6 38.2h.01M58.1 35h.01M53.4 33.8h.01M61.6 38.6h.01M58 31.1h.01M56.9 35.1h.01M61.5 36.3h.01M54.5 34.2h.01M52.4 40.9h.01M57.4 33.1h.01M71.1 47.8h.01M70.2 27.2h.01M51.7 45.4h.01M54.4 33.3h.01M52 32.9h.01M60.1 35h.01M54.3 36.8h.01M58.8 34.2h.01M63.6 33.5h.01M58.5 42.8h.01M64.6 46.3h.01M72.5 42.4h.01M63.4 34.2h.01M57.4 49.8h.01M73.6 39.6h.01M54.3 34.7h.01M59.1 32.9h.01M57 36.7h.01M62.9 47.4h.01M55.6 37.2h.01M61.2 33.2h.01M59.8 45.2h.01M52.9 38.4h.01M56.1 36.7h.01M60.9 39.1h.01M50.6 42.1h.01M55.5 21.5h.01M52.2 31.4h.01M64.5 37.7h.01M61.1 25h.01M64.2 41.4h.01M61.3 34.2h.01M57.8 38.4h.01M56.9 39.1h.01M56.1 32.8h.01M53.5 32h.01M49.2 43.3h.01M64.9 43.1h.01M65.3 30.8h.01M61.1 35.3h.01M58.6 22.9h.01M56.8 34.7h.01M53.8 37.3h.01M58.9 34.8h.01M59.3 39.9h.01M58.2 46.1h.01M63.7 33.2h.01M61.1 37.5h.01M51.6 29.6h.01M61.8 38.6h.01M58.6 36.5h.01M56.7 25.4h.01M67.3 33.6h.01M54.4 34.2h.01M56.8 44.3h.01M66.7 34.8h.01M70.2 30.2h.01M61.5 46.4h.01M54.6 37.5h.01M52.9 37.5h.01M59.3 36.2h.01M60 36.3h.01M55.5 32.3h.01M64.7 36.8h.01M56.8 40.3h.01M55 34.9h.01M49 31.3h.01M77.6 35.8h.01M76.5 29.9h.01M75.6 33.5h.01M75.4 31h.01M77.9 26.5h.01M73.7 35.2h.01M78.5 31.4h.01M71.8 35.9h.01M68.2 34.5h.01M70.9 29.5h.01M70.1 32.2h.01M74.3 34h.01M78.7 28.2h.01M73.4 32h.01M76.8 33.7h.01M79.7 26.5h.01M78.9 29h.01M72.1 32.3h.01M69.4 35.2h.01M80.5 29.3h.01M66.6 31.4h.01M64.3 35.5h.01M62.8 32.7h.01M76.9 31.7h.01M65.7 34.6h.01M70.5 31.8h.01M71.7 34.3h.01M78 33.5h.01M65 30.2h.01M72.3 33.2h.01M72.9 31.2h.01M77.5 29.6h.01M70.7 32.5h.01M73.6 34.7h.01M70.4 31.9h.01M76.1 29.9h.01M74.9 27.8h.01M70 32h.01M74 31.4h.01M64.8 31.3h.01M71.8 31.2h.01M68.3 34.2h.01M70.9 36h.01M75.8 30.2h.01M82.2 34.6h.01M73.3 34.3h.01M71.8 34.4h.01M70.8 33.9h.01M75 31.5h.01M70.6 30.7h.01M75.9 30.8h.01M78.4 30.5h.01M74.6 31.8h.01M71.2 36.4h.01M76.4 36.3h.01M69.3 34.2h.01M65.1 36.6h.01M76.2 29.1h.01M78.7 24.9h.01M77.4 30.4h.01M70.5 33.2h.01M58.5 39.5h.01M70.4 39h.01M74.7 32.1h.01M71 35.9h.01M78.5 33.4h.01M68.5 33.6h.01M74.5 33.7h.01M73 32.9h.01M74 35.8h.01M65.1 31.1h.01M69.8 26.5h.01M73 32.2h.01M70.7 35h.01M66.9 36.3h.01M69.3 31.3h.01M68.1 34.7h.01M72.8 30.2h.01M76.4 32.8h.01M72.7 30h.01M72.6 29.1h.01M71.6 34.8h.01M71.7 28.9h.01M62.5 30.7h.01M72.6 34.1h.01M75.6 31.5h.01M68 27h.01M75.5 34.4h.01M64.5 30.9h.01M71.6 31h.01M70.9 32.2h.01M75.1 36.8h.01M72.3 32h.01M81.8 32h.01M58.1 35.5h.01M65.9 35.2h.01M67.9 29.5h.01M72.1 32.1h.01M68.6 31.4h.01M68.2 30.5h.01M65.2 34.8h.01M66.6 36.4h.01M68.3 34.4h.01M78 29.7h.01M68.8 35h.01M82.7 26.3h.01M76.5 31.8h.01M70.8 33.9h.01M75.1 31.1h.01M75.9 30.4h.01M66.7 33.9h.01M64.4 32.7h.01M77.8 30h.01M68.1 35.2h.01M74.1 26.4h.01M75.5 34.6h.01M64.9 35.3h.01M74.6 32h.01M73.5 29.1h.01M76.9 29.7h.01M71.2 30.8h.01M74.1 33.4h.01M73.8 33.4h.01M71.5 35.4h.01M78.8 30.5h.01M74.5 26h.01M77.7 28h.01M73 30.9h.01M76.9 31.7h.01M66.6 29.5h.01M68.9 32.4h.01M76 31.2h.01M70.3 31h.01M69.9 32.2h.01M73.9 37.7h.01M64.9 33.9h.01M73.8 36.9h.01M74 32.2h.01M69.9 30.8h.01M67.3 34.8h.01M78.9 29.1h.01M73.5 31.5h.01M65.8 27.7h.01M69.4 33.7h.01M64.4 32.5h.01M65 37h.01M63.6 34.6h.01M67.9 32.1h.01M72.8 29h.01M74.9 31.3h.01M71 31.3h.01M75.5 29h.01M75.4 36.1h.01M66.7 33.1h.01M68.7 35.3h.01M73.9 35.4h.01M74.9 32.3h.01M76.7 32.4h.01M66.2 34.9h.01M64 36.7h.01" fill="none" stroke="#333" stroke-width="0.6" stroke-linecap="square" opacity="0.4"/>
<use href="#gatesU" stroke-width="0.8"/><use href="#gateI"/>
<text x="53.5" y="59.1" font-size="8.3" text-anchor="middle" fill="#0a0a0a" stroke="#0a0a0a" stroke-width="0.3" textLength="1.9" lengthAdjust="spacingAndGlyphs">I</text>
<text x="56.5" y="45.3" font-size="8.3" text-anchor="middle" fill="#0a0a0a" stroke="#0a0a0a" stroke-width="0.25" textLength="4.4" lengthAdjust="spacingAndGlyphs">II</text>
<text x="62.9" y="36.1" font-size="8.3" text-anchor="middle" fill="#0a0a0a" stroke="#0a0a0a" stroke-width="0.12" textLength="6.4" lengthAdjust="spacingAndGlyphs">III</text>
<text x="74.9" y="34.4" font-size="8.3" text-anchor="middle" fill="#0a0a0a" stroke="#0a0a0a" stroke-width="0.25" textLength="7.6" lengthAdjust="spacingAndGlyphs">IV</text>
</g>
<rect x="43.75" y="72.9" width="70.65" height="59" fill="#fff" stroke="#9a9a9a" stroke-width="0.6"/>
<line x1="43.25" y1="74.9" x2="43.25" y2="131.9" stroke="#555" stroke-width="1.1" stroke-dasharray="0.5 1"/>
<line x1="43.75" y1="132.1" x2="114.4" y2="132.1" stroke="#333" stroke-width="1.1" stroke-dasharray="0.9 0.9" opacity="0.8"/>
<line x1="41.35" y1="79.3" x2="43.75" y2="79.3" stroke="#111" stroke-width="0.9"/>
<text x="41.35" y="79.9" font-size="3" text-anchor="end" fill="#111">10<tspan font-size="2.2" dy="-1">4</tspan></text>
<line x1="41.35" y1="94.1" x2="43.75" y2="94.1" stroke="#111" stroke-width="0.9"/>
<text x="41.35" y="94.7" font-size="3" text-anchor="end" fill="#111">10<tspan font-size="2.2" dy="-1">3</tspan></text>
<line x1="41.35" y1="108.9" x2="43.75" y2="108.9" stroke="#111" stroke-width="0.9"/>
<text x="41.35" y="109.5" font-size="3" text-anchor="end" fill="#111">10<tspan font-size="2.2" dy="-1">2</tspan></text>
<line x1="41.35" y1="123.7" x2="43.75" y2="123.7" stroke="#111" stroke-width="0.9"/>
<text x="41.35" y="124.3" font-size="3" text-anchor="end" fill="#111">10<tspan font-size="2.2" dy="-1">1</tspan></text>
<g transform="translate(0 61.65)">
<path d="M50 28L53 19L62 16.5L78 18L86 24L84 32L76 41L68 48L69 58L64 67L52 70L47.5 60L47.6 44Z" fill="#cfcfcf" filter="url(#b3)" opacity="0.75"/>
<path d="M72.6 21.2h.01M71.9 21.6h.01M68.5 20.9h.01M63.3 15h.01M63.2 20.4h.01M60.5 27.4h.01M68.7 23.7h.01M79.5 21.8h.01M58.5 18.9h.01M61.8 17h.01M57.7 22.2h.01M66.8 19.5h.01M76.8 22h.01M63.6 25.2h.01M69.5 26.1h.01M66.2 16.3h.01M71.8 20.8h.01M60.8 26h.01M52.2 16.5h.01M70.8 27.3h.01M66 22.2h.01M83.6 27.5h.01M61.7 20.3h.01M66 18h.01M63.8 18.4h.01M67.4 27.7h.01M50.1 19.4h.01M80.2 19.3h.01M72.6 25.9h.01M65.4 16.6h.01M63.7 21.4h.01M71.7 24.1h.01M70.3 23.8h.01M62.9 23.5h.01M65.5 21.9h.01M62.9 22.8h.01M64 21.9h.01M63.1 21.2h.01M63.5 23.7h.01M54.6 23.8h.01M58.1 22.2h.01M69.9 28.1h.01M73.5 31h.01M66.4 23.3h.01M53.7 16.3h.01M70.6 24.8h.01M83.4 17.6h.01M77.7 29.6h.01M64.7 25.6h.01M63.9 20.1h.01M62.8 24.4h.01M83.6 20.9h.01M69.6 18.6h.01M58.2 24.2h.01M76.3 19.6h.01M74.7 24h.01M48.3 19.9h.01M60.6 27.3h.01M76.3 24.5h.01M75 28.9h.01M55.2 24.2h.01M67.4 19.6h.01M75.7 19h.01M71.1 15.1h.01M57.3 21.4h.01M73.6 20h.01M58.4 19.2h.01M88.7 27.2h.01M69.6 19.4h.01M53.4 18.9h.01M64.3 20.4h.01M61.4 16.4h.01M66.8 22.7h.01M89.7 24.3h.01M69.4 18.8h.01M71 19.2h.01M73.9 27.4h.01M68.9 25.1h.01M61.5 23.3h.01M80.2 20.7h.01M72.2 21.6h.01M82.1 19.2h.01M77.5 17h.01M58.8 19.7h.01M63.3 19.7h.01M64 17.4h.01M64.2 17.6h.01M71.4 24.1h.01M65.9 20.5h.01M60.6 15.9h.01M80.2 31h.01M80.7 17.4h.01M67.7 23.1h.01M58 17.7h.01M61.4 24.1h.01M60.4 21.8h.01M58.8 25.1h.01M58.4 21.1h.01M69.9 19.8h.01M69.6 27.7h.01M71.4 22.5h.01M58.9 20.6h.01M70.3 22h.01M86.2 21.6h.01M69.5 23.8h.01M63.2 27.9h.01M92.2 30.3h.01M70.2 23.7h.01M61.4 24h.01M75.4 25.8h.01M61.1 19.3h.01M63.6 27.3h.01M76.7 24.2h.01M62.5 15.2h.01M53.5 23h.01M74.4 19.7h.01M75.1 24.2h.01M54.5 23.4h.01M64.4 20.8h.01M77.5 24.3h.01M69.3 27.4h.01M75.8 18.2h.01M67.2 15.4h.01M61.8 21.2h.01M62.5 20.9h.01M63.9 29.4h.01M68.9 26h.01M49.9 20.1h.01M68.4 15.4h.01M74.3 18.2h.01M61.7 20.5h.01M67.7 22.9h.01M57.9 19.7h.01M54.9 21.3h.01M68.9 24.9h.01M67.3 19.6h.01M63.1 20.2h.01M56 17.5h.01M67.9 26.6h.01M67.9 14.9h.01M65.1 24.1h.01M66.3 24.9h.01M65 14.6h.01M72.6 21h.01M70.9 26.5h.01M84.4 20.7h.01M80.8 21.5h.01M67.2 22h.01M55.8 25.7h.01M73.1 25h.01M62.2 19.2h.01M82 18.7h.01M54.4 15.3h.01M63.4 22.9h.01M82.4 15.9h.01M67.7 20.1h.01M73.9 25h.01M74 18.5h.01M63.1 20.5h.01M75.2 22.6h.01M59.1 24h.01M64.9 17h.01M86.9 24.4h.01M65.7 21.7h.01M70.7 22.9h.01M58.1 15.4h.01M79.5 25.2h.01M59.2 18.2h.01M60.6 21h.01M62.1 18.5h.01M57.9 28.2h.01M54.3 21h.01M63.8 29.5h.01M63.1 19.4h.01M66.5 21h.01M57.7 26.5h.01M59.1 19.9h.01M64.2 23.4h.01M66.8 26.3h.01M58.9 19.9h.01M67.1 19.7h.01M65.1 21h.01M76.5 26.8h.01M72.9 24.3h.01M71.3 27.2h.01M76.5 22.2h.01M61.6 19.8h.01M80 19.4h.01M69 21.2h.01M62.9 19.5h.01M70.9 22.1h.01M57.7 17.7h.01M83.7 21.3h.01M69.6 21.3h.01M53.1 24.2h.01M57 19.9h.01M62.7 19.6h.01M61.7 25.3h.01M70.8 27.4h.01M75.4 21.9h.01M76.6 22.2h.01M72.8 16.2h.01M59.2 15.7h.01M77.4 23h.01M77.9 28.3h.01M48.7 26.9h.01M61.6 24.5h.01M64.1 20.1h.01M59.8 23.2h.01M77.2 17.9h.01M71.4 22.3h.01M68.1 18h.01M55.9 21h.01M47.7 25.3h.01M57.7 29h.01M59.4 22.1h.01M58.7 22.7h.01M53.2 18.3h.01M62.5 27.2h.01M69.6 26.6h.01M61.8 24.6h.01M64.7 23.5h.01M65.7 28h.01M66.4 21.2h.01M78 22.6h.01M58.6 31.4h.01M69.1 19.3h.01M54.6 22.5h.01M77.9 21.9h.01M73.1 28.2h.01M76.1 22.2h.01M68.1 21h.01M65.9 20.9h.01M54.9 23.8h.01M70.2 18.9h.01M80 18.2h.01M83.2 22.6h.01M59.2 23.3h.01M71.5 21.4h.01M59.7 19.2h.01M65.5 23h.01M74.3 24.5h.01M64.9 25.6h.01M83.6 24.1h.01M68 15.7h.01M73 22.6h.01M61.3 21.6h.01M62.4 21.3h.01M63.1 23.7h.01M71.7 21.6h.01M81.9 27.8h.01M67.4 21.1h.01M54.7 25.9h.01M61.8 17.6h.01M71.9 19.2h.01M66.2 32.4h.01M57.2 20.2h.01M63.8 21.4h.01M75.6 24.1h.01M71.4 21.1h.01M61.7 22.6h.01M73.9 23.4h.01M69.9 30h.01M61.5 26h.01M68.6 23.4h.01M84 26.5h.01M56.7 23.3h.01M76.8 19.3h.01M65.3 26.1h.01M73.1 20.6h.01M70.4 25.5h.01M69.6 23h.01M65.3 25.3h.01M66.5 27.4h.01M73 25h.01M71.4 21h.01M53.7 19.7h.01M71 24.7h.01M79.3 22h.01M75.4 21.8h.01M69 22h.01M50.4 19.2h.01M72.3 24.7h.01M73.3 21.3h.01M80.5 24h.01M58.5 18.7h.01M65.5 15.8h.01M61.8 24.6h.01M64.2 25.5h.01M51.3 18.8h.01M62.4 24.7h.01M62.9 23h.01M64 17.7h.01M81.2 28.1h.01M61.9 14.5h.01M62.9 21.6h.01M77 25.9h.01M62.2 17.8h.01M77.4 29.2h.01M71.3 20.6h.01M60.7 26.2h.01M60.5 20.9h.01M67.9 24.9h.01M65.1 21.9h.01M66.9 30.9h.01M61.4 23.2h.01M71.9 26.6h.01M60.4 24.3h.01M62.5 22.6h.01M65.3 21.3h.01M55.1 22.6h.01M63.6 25.6h.01M64.6 25.4h.01M53.3 22.9h.01M50.4 20.2h.01M78 26.1h.01M64.7 18.6h.01M65.5 22.2h.01M81.7 21.5h.01M65 21.7h.01M50.9 15.7h.01M71.8 18.8h.01M57.5 24.9h.01M70.6 24.7h.01M65.2 26.3h.01M78.1 27.9h.01M71 25.3h.01M63 25h.01M79.9 25h.01M91.6 29.8h.01M62.5 16.5h.01M77 23h.01M70 26.6h.01M70.8 26h.01M55.4 21.6h.01M58 20.4h.01M79.8 27h.01M68.4 22.1h.01M62.4 18h.01M83.2 28.5h.01M78.5 22.4h.01M73.7 23.9h.01M58.5 15.8h.01M80.5 25.6h.01M47.5 26.5h.01M59.8 19.9h.01M75.8 25.5h.01M69.1 23.5h.01M71.4 23.3h.01M68.9 22.7h.01M68.4 19.2h.01M77.8 27.7h.01M100.2 29.5h.01M71.3 24.3h.01M80.1 15.6h.01M62.3 28.2h.01M82 23.9h.01M67.8 24.6h.01M68 29.6h.01M62.3 26.8h.01M60 21.5h.01M61.6 25.9h.01M57.8 23.8h.01M55.3 19.2h.01M84.3 24.9h.01M71.9 16.7h.01M76.9 17.9h.01M71.8 23.8h.01M53.3 26.3h.01M67.8 19.1h.01M58.3 26h.01M59.5 22.4h.01M65.4 28.9h.01M68.8 21.5h.01M66.9 33.3h.01M68.1 24.4h.01M64.5 21.5h.01M67.3 23.6h.01M79.5 17.3h.01M87.5 26h.01M77.7 22.6h.01M64.8 24.2h.01M70.9 21.8h.01M78.9 21.4h.01M79.3 19.3h.01M70.6 26.1h.01M64.9 18.4h.01M52.5 22.6h.01M77.2 23h.01M72.3 28.7h.01M59 22h.01M67.2 23.3h.01M63.7 18.5h.01M62.8 23.5h.01M83.2 26.7h.01M63.7 21.8h.01M89.6 27.5h.01M66.2 18.7h.01M60.4 21h.01M68.1 24.1h.01M89.8 23.8h.01M65.1 26.8h.01M71.6 25.3h.01M72.9 19.8h.01M54.1 21.1h.01M66.2 19.8h.01M80 22.4h.01M65.1 18.2h.01M73.5 26h.01M64.8 22.9h.01M63.7 23.3h.01M69.3 25.7h.01M78.1 15.4h.01M67.9 22.8h.01M66.9 21.6h.01M57.7 24h.01M50.9 22.7h.01M68 24.5h.01M64.8 27h.01M70.2 16.1h.01M77.2 19.7h.01M74.2 27.7h.01M58.1 26.8h.01M69.7 19.9h.01M69.2 26.8h.01M64.3 25.4h.01M59.6 19.6h.01M65.9 23.6h.01M74.1 23h.01M63.3 28.7h.01M53.5 23.3h.01M79.4 27.1h.01M66.8 20.1h.01M63 17.7h.01M72.1 20.9h.01M72.8 28.3h.01M65.4 29.1h.01M61.6 19h.01M61.5 21.4h.01M65 27h.01M72 18.5h.01M48.4 23.8h.01M87.3 33.6h.01M66.4 36.2h.01M69.5 34.7h.01M81 30.8h.01M84 26h.01M71.4 32.6h.01M67.8 34.2h.01M77 29.3h.01M82.4 24.7h.01M67.5 34.6h.01M69.2 32.8h.01M82.3 26.1h.01M74.7 27.3h.01M72.4 39.4h.01M76.6 34.1h.01M79.1 31.1h.01M80.6 25.3h.01M79.2 34.3h.01M75.4 32.1h.01M64.6 38.5h.01M79.7 31.4h.01M79.1 30.7h.01M79.3 35.9h.01M74.5 29.9h.01M75.5 30.1h.01M82.6 30.1h.01M73.1 33.5h.01M69 39.3h.01M83.8 33.2h.01M76.2 39.4h.01M76 37.5h.01M78.3 30.4h.01M74 33.3h.01M74.8 31.8h.01M70.8 41.2h.01M84.2 27.5h.01M65.4 34.5h.01M82.6 24.5h.01M69 40.2h.01M69.5 32.3h.01M67.9 24.7h.01M83.2 32.5h.01M77.9 33.5h.01M74.4 37.5h.01M69.6 41.1h.01M83.6 31.4h.01M76.9 34.4h.01M78.8 31.7h.01M73.1 30.8h.01M68.4 27h.01M76.5 23.4h.01M78.6 33.4h.01M85.1 32h.01M77.3 32.5h.01M65.1 35.2h.01M82.3 32.7h.01M76.3 32.8h.01M74.4 33.9h.01M54.7 42.6h.01M67.9 31.7h.01M75.1 28.7h.01M72.6 36.7h.01M80.9 38.2h.01M83.4 37.5h.01M75.5 32.4h.01M70.6 38h.01M78.7 31.2h.01M78.7 32.3h.01M75.2 35.5h.01M65.2 43.1h.01M65.5 33.2h.01M84.8 36.8h.01M74 33.5h.01M62.1 35.8h.01M79.3 42.3h.01M74.5 29.6h.01M80.1 30.7h.01M77.4 28.9h.01M80.8 36.2h.01M65.5 25.9h.01M65.5 40.3h.01M68.7 29.4h.01M88.1 34.1h.01M70 46.2h.01M83.5 33.2h.01M64.4 35.5h.01M69.5 42h.01M80.9 40.9h.01M70.9 37h.01M73.5 32.6h.01M71.1 42.7h.01M74.1 27.8h.01M80.9 29.1h.01M66 38.1h.01M79.7 31.7h.01M80.5 35.9h.01M80.7 29.8h.01M58.5 37.1h.01M79 24.8h.01M67.8 36.7h.01M75 35.8h.01M74.7 38.3h.01M70.3 39.1h.01M67.3 31.1h.01M72.1 37.9h.01M75.6 30.1h.01M83.1 35.4h.01M73.2 33.1h.01M80.4 29.4h.01M75.6 30.6h.01M85.3 32.8h.01M66.7 37.5h.01M82.1 42.9h.01M77.8 37.7h.01M74.3 28.4h.01M78 31.8h.01M83.1 34.3h.01M78.3 35.7h.01M80.4 33.7h.01M74.3 35.1h.01M71.7 28h.01M68.6 29.9h.01M84.4 32.5h.01M79.7 28.1h.01M84.2 28.8h.01M73.9 37.2h.01M70.8 26.9h.01M88.3 17.5h.01M83.9 31.4h.01M65 36.2h.01M79.9 29.4h.01M80.3 36.2h.01M73 33.4h.01M73.8 34h.01M70.7 37.3h.01M68.8 28.7h.01M74 42.4h.01M68.8 38.8h.01M72.1 32.5h.01M72.1 40.5h.01M78.6 27.3h.01M81.2 27h.01M72.3 29.2h.01M73 33.5h.01M78.4 28.2h.01M75.4 34.6h.01M87.7 23.6h.01M58.8 43.4h.01M61.1 43h.01M69.2 38.5h.01M79.6 32.9h.01M81 30.8h.01M71 31.8h.01M71.9 25.7h.01M74.5 35.5h.01M76.2 26.2h.01M89.8 27.3h.01M60.6 41h.01M90.3 25.2h.01M82.7 29.5h.01M74.8 36.4h.01M77.1 27.8h.01M76.2 34.4h.01M81.1 35.4h.01M80.5 34.4h.01M83.1 34.5h.01M68.6 35.6h.01M79.7 30.7h.01M75.1 42.4h.01M74.8 36h.01M81.6 31.3h.01M74.9 38.4h.01M76.1 28.8h.01M77.7 31.5h.01M77.4 34.4h.01M67.6 37.2h.01M82 37h.01M77.9 34.1h.01M92.4 28.5h.01M67.3 33.7h.01M82.8 29.3h.01M73 34.5h.01M74.9 36.1h.01M88.2 28.8h.01M75 33.5h.01M82.4 32.4h.01M80.9 40.4h.01M70 36.4h.01M73.2 31.4h.01M75.4 39.1h.01M77.4 39.3h.01M88.7 27.2h.01M80.9 35h.01M60.4 31.6h.01M89.4 28.2h.01M78.1 31.1h.01M86.2 38.1h.01M86.8 28.4h.01M74.1 42.8h.01M77.8 31.2h.01M74.5 32.6h.01M72.6 32.3h.01M71.7 29.8h.01M75.6 30.6h.01M85.9 33h.01M78.2 24.7h.01M78.1 32.4h.01M86.2 32.9h.01M61.2 42.2h.01M77.3 34.8h.01M79.1 33.1h.01M79.2 33.9h.01M81.7 21h.01M80.2 38h.01M85.9 29.5h.01M73.8 31.6h.01M80.1 29.5h.01M76.5 32.2h.01M75.8 36.4h.01M77.2 26.9h.01M77.5 26.4h.01M67.6 31.4h.01M84.2 33h.01M72.6 30.6h.01M77 33.2h.01M56.1 38.3h.01M75.8 32.9h.01M62.5 38h.01M80.4 27.3h.01M73.2 40h.01M73.4 35h.01M73.1 30.2h.01M72 46.6h.01M74.5 29.5h.01M65.7 33.1h.01M71.5 27.6h.01M85 36h.01M85 29.3h.01M86.3 29.3h.01M76.8 38h.01M70 36.9h.01M80.8 34.1h.01M89.8 33.8h.01M70.8 37.1h.01M86.7 31.3h.01M75.7 34.4h.01M58.9 43h.01M79.4 38.2h.01M89.8 28.7h.01M81.5 31.6h.01M79.5 22.4h.01M77.1 28.4h.01M63.7 36.5h.01M60.5 41.4h.01M69.9 38.3h.01M73.9 35.1h.01M69.2 36.1h.01M71.5 37.3h.01M82 31.7h.01M87.6 31.3h.01M61.4 32.6h.01M71.1 40.7h.01M79.3 40.7h.01M77 38.1h.01M59.7 39.9h.01M93.9 19.5h.01M80.7 30.4h.01M81.2 36.9h.01M63.9 41h.01M74.2 24.7h.01M61.9 25.1h.01M79.9 32.1h.01M82.7 40.9h.01M73.3 27.1h.01M77.7 29.3h.01M72.3 35.2h.01M77.9 33.6h.01M61.8 44.8h.01M77.8 24.6h.01M75.1 34.1h.01M91.6 21.7h.01M78.4 35.7h.01M61.2 42.7h.01M88.4 31.7h.01M68.8 31.1h.01M66.3 32.9h.01M74.3 30.5h.01M83.6 26.7h.01M87.6 23.5h.01M71 29.7h.01M76.3 30h.01M74.3 26.1h.01M73.6 38.9h.01M71.7 32.9h.01M72.5 28.8h.01M75.9 33.8h.01M79.9 23.2h.01M63.8 41.1h.01M78.5 29.9h.01M81.9 38h.01M66.1 46.6h.01M56.3 57.7h.01M67.7 48.2h.01M60.6 61.5h.01M68.5 38.5h.01M58.3 56.9h.01M59.9 49.2h.01M70.5 45.1h.01M53.3 63.9h.01M66.5 39.3h.01M62.6 43.9h.01M52.2 60.8h.01M55.5 67h.01M64.8 52.4h.01M63.2 40.1h.01M63.4 39.9h.01M63.1 43.9h.01M62.5 51.1h.01M60.9 64.5h.01M59.6 60.1h.01M52 59.1h.01M61.7 47.1h.01M60.8 58.8h.01M69.1 61.1h.01M54.8 58.6h.01M70.2 53.5h.01M59.7 47.5h.01M68.2 64h.01M47.7 64h.01M60.7 49.6h.01M48.5 52.5h.01M51.8 60.4h.01M56.4 65.5h.01M60.9 68.7h.01M57.5 51.4h.01M60.5 64h.01M59.6 40h.01M74.6 33.6h.01M59.4 47.4h.01M71.6 57.5h.01M74.3 40.2h.01M57.1 49.6h.01M64.2 54.2h.01M59.3 51.2h.01M69 56.1h.01M61.3 62.6h.01M72 51.7h.01M61.6 47.5h.01M59.1 56.7h.01M55.4 60.9h.01M63.3 48.1h.01M61.3 65h.01M60.6 58.9h.01M64.1 48.8h.01M65.8 52.5h.01M62.8 44.7h.01M56.9 57.5h.01M56.1 51.8h.01M54.8 69.5h.01M65 27.9h.01M69.6 42h.01M67.7 48.3h.01M56.8 55.9h.01M65.7 49.3h.01M58.3 44.4h.01M65.4 56.8h.01M53.9 46.2h.01M66.6 55.3h.01M59.1 60h.01M61.2 61.2h.01M64.2 37.6h.01M57.6 44h.01M61.6 56.2h.01M62.2 50.4h.01M67.4 45.8h.01M64 58.2h.01M68.3 54.2h.01M63.9 56.8h.01M54 58.9h.01M66.7 49.5h.01M53.4 60h.01M57.6 52.9h.01M61.7 54.6h.01M55.4 60.5h.01M62.8 36.9h.01M70.5 38.1h.01M60.8 40.9h.01M55.4 58.9h.01M54.7 51.7h.01M78.1 50.2h.01M61.5 42.1h.01M65.3 36.6h.01M61.5 54.8h.01M67.9 53.1h.01M58.1 54.9h.01M55.3 59.3h.01M59.3 54.2h.01M55.1 63.5h.01M55 46.7h.01M48.9 63.6h.01M61.3 56h.01M60.6 46.7h.01M69 55.3h.01M62.4 40.2h.01M69.6 47.9h.01M53.7 46.3h.01M65.8 54.5h.01M57.3 51.6h.01M52.2 67.7h.01M64.3 50.6h.01M61.3 58.2h.01M56.8 46.1h.01M65.4 42.2h.01M70.5 52.4h.01M66.8 50.7h.01M61.2 58.2h.01M56.4 63.3h.01M62.3 47.8h.01M62.4 62.4h.01M62.7 42.5h.01M61 68.3h.01M70 39.7h.01M55 45.6h.01M62.3 54.4h.01M65.3 49.1h.01M62.7 41.4h.01M57.1 57.5h.01M71.9 44.5h.01M59.6 60.5h.01M64.3 38.6h.01M57 60.6h.01M58.7 59h.01M59.3 56.2h.01M59.4 61.2h.01M54.3 48.3h.01M53.4 49.5h.01M56.4 61.6h.01M62.1 42h.01M59.4 48.7h.01M66.2 50.6h.01M62.2 49.7h.01M66.3 50.1h.01M67.8 29.9h.01M50 49h.01M63.9 54.7h.01M67.3 64.5h.01M61.2 59h.01M62.8 46.2h.01M56.3 47.9h.01M65 43.5h.01M57.1 47.2h.01M53.8 44.1h.01M61.1 61.7h.01M65.7 56h.01M59.3 56.7h.01M61.7 48.1h.01M58.6 49.4h.01M69.5 58.1h.01M65.5 44.9h.01M59.1 55.9h.01M58.7 59.2h.01M63.8 46.6h.01M67.8 52.9h.01M60.7 43.3h.01M54 65.6h.01M62.7 56.1h.01M59.1 61.4h.01M54.5 48.1h.01M62.9 43.7h.01M60.4 50.6h.01M57 63.8h.01M59.5 66.7h.01M61.6 59.2h.01M70.8 53.6h.01M64.4 56.2h.01M64.2 62.7h.01M61.4 42.1h.01M60.1 60h.01M59.8 43.8h.01M57.6 53.6h.01M64.9 59.6h.01M72.9 57h.01M65.3 53.7h.01M61.5 64.2h.01M65.4 49.1h.01M66.7 49.8h.01M63.2 43.6h.01M61.1 53.7h.01M63.7 59.6h.01M70.6 52.9h.01M65.9 35h.01M52.1 54.2h.01M64.8 58.7h.01M64.5 44.6h.01M58 49.1h.01M57.3 51.4h.01M57.2 53.6h.01M60.5 52.6h.01M66.7 42.2h.01M66.8 27.2h.01M58.3 42.6h.01M56.9 64.3h.01M59.8 62.9h.01M65.6 49.8h.01M65.4 42.7h.01M63.6 66h.01M50.3 56.2h.01M60.5 63.5h.01M59.8 69.1h.01M56 54.9h.01M62.8 53h.01M60.5 44.6h.01M55.1 51.9h.01M56.9 41.6h.01M62.7 62.3h.01M65.4 50.7h.01M64.7 67.5h.01M66.5 49.8h.01M63.6 56.5h.01M57.7 43.7h.01M59.1 59.7h.01M62 44.3h.01M70.1 66.1h.01M56.2 56h.01M58.6 33.9h.01M59.2 38.4h.01M66.8 55.3h.01M52.6 37.1h.01M59.3 39.6h.01M53.1 18h.01M54.2 25.2h.01M51.6 43.8h.01M54.7 30.8h.01M57.3 45.5h.01M53.7 30.4h.01M59.4 30.6h.01M53.9 39.5h.01M49.6 42.4h.01M53 30h.01M55.2 26h.01M55 40.6h.01M51.9 37.5h.01M50.4 40.7h.01M51.4 26h.01M51.5 41.5h.01M53.5 34.6h.01M56.1 27.9h.01M48.8 42.4h.01M54.4 37.5h.01M58.5 38h.01M56 37.1h.01M54.9 36.5h.01M55.1 24.8h.01M55.2 24.9h.01M60.4 32.9h.01M50 32.4h.01M56.1 42.3h.01M56.9 15.9h.01M50 41.5h.01M49.7 31.6h.01M56.4 46.6h.01M54.3 30.8h.01M56 35.2h.01M55.7 32.5h.01M50.3 48.3h.01M54.3 45.4h.01M52.6 44.7h.01M54 27.1h.01M51.8 36.6h.01M52.1 26.7h.01M53.8 37.4h.01M51.6 40.3h.01M54.9 47.4h.01M52.2 34.7h.01M49.6 37.3h.01M57 28.2h.01M59.2 50.4h.01M52.4 39h.01M55 43.2h.01M52.5 25.7h.01M56.2 31.6h.01M53.3 41.6h.01M54.2 43.2h.01M52.5 41.5h.01M52.1 35.9h.01M55.4 43.4h.01M53.4 28.2h.01M57.3 34.8h.01M52.6 26.6h.01M52.1 43.9h.01M50 38.5h.01M55.2 42.1h.01M51.1 33.6h.01M53.8 15.6h.01M57.3 30.4h.01M53.9 37.4h.01M52.6 36.4h.01M48.4 42.6h.01M51.3 44.8h.01M55.1 31.8h.01M54.1 42.6h.01M53 22h.01M53.8 41.5h.01M49.5 18.3h.01M52.5 40h.01M53.1 17.5h.01M54.7 40.3h.01M49.3 48.3h.01M61 36h.01" fill="none" stroke="#444" stroke-width="0.6" stroke-linecap="square" opacity="0.5"/>
<path d="M49.8 46.6Q49 36 53.8 28Q57 25.2 61 25.2L66 25.6L80.3 27.3L82.2 30.6L75.6 37.4L69 37.4Q66.8 41.4 63.8 45.2Q57 48.4 49.8 46.6Z" fill="#8c8c8c" filter="url(#rough2)"/>
<path d="M49.8 45.8L64 45.2L66.5 50.8L64.2 60.2L54.7 69L48 61.2Z" fill="#8e8e8e" filter="url(#rough2)"/>
<path d="M63 50L66 53L62.8 62L55 68L58 62Z" fill="#e0e0e0" filter="url(#b1)" opacity="0.7"/>
<path d="M67 28L78 28.8L80 31L74 37.2L70 36.6Z" fill="#666" filter="url(#b1)" opacity="0.45"/>
<path d="M58.2 67.8h.01M60.5 58.9h.01M49.8 47.8h.01M57.5 45.5h.01M52.2 57.2h.01M54 66.4h.01M66.8 57.9h.01M64.5 46.2h.01M57.9 68h.01M54.3 52.1h.01M58.2 61.4h.01M58.4 50.3h.01M56.4 50.9h.01M62.7 58.5h.01M50.9 36.8h.01M63.2 49.4h.01M55.2 52.8h.01M61.9 53.4h.01M57.1 44.4h.01M53.7 63.3h.01M54.2 54h.01M57.7 54.6h.01M59.1 42.6h.01M68.3 56h.01M62.3 60.6h.01M56 61.5h.01M51.6 59.3h.01M57.1 55h.01M59 54.1h.01M50 56.2h.01M56.3 60.1h.01M61.8 54.3h.01M55 53.8h.01M50.3 57.6h.01M59.7 53.9h.01M62.7 57.8h.01M55.8 56.3h.01M57.9 49.1h.01M60.3 66.3h.01M58.4 60.3h.01M54.6 48.9h.01M56 48.7h.01M56.7 52h.01M57.1 51.2h.01M61.8 48.9h.01M52.7 56.5h.01M58.5 53.2h.01M56.7 48.7h.01M47.8 65.2h.01M59.8 53.1h.01M57.1 57.6h.01M52.6 45.6h.01M50.5 47h.01M61 48.6h.01M62.7 62.3h.01M56.7 60.2h.01M56 53.5h.01M59.7 53.4h.01M54 57.2h.01M55.3 49.1h.01M60.6 53.8h.01M51.8 61.3h.01M61.7 49.4h.01M57.5 59.7h.01M61.9 54.9h.01M49.5 55.8h.01M61.9 54.6h.01M55.9 61h.01M58.7 61.4h.01M53.3 58.7h.01M53.8 43.6h.01M61.1 56.4h.01M57.9 63.5h.01M59.5 48.4h.01M60.3 44.8h.01M59.3 53.8h.01M50.2 60.2h.01M56.3 46.3h.01M55.2 57.3h.01M64.7 53.9h.01M62 55.3h.01M53.1 57.7h.01M51.1 53.4h.01M59.9 51.5h.01M58.9 56.5h.01M61.2 66.2h.01M51.9 58.9h.01M62.9 60.5h.01M58.1 48.9h.01M62.1 52.1h.01M58.7 46.2h.01M54.6 61.4h.01M53.1 61.9h.01M61.9 58.7h.01M61.3 52.7h.01M59.7 53h.01M53.4 63.4h.01M60 52.8h.01M55.7 62.3h.01M50.7 66.3h.01M56.4 47.3h.01M59.6 49.5h.01M55.9 67h.01M53.2 61.9h.01M58.5 66.3h.01M58.6 67.2h.01M61.7 53.8h.01M56.4 69.4h.01M61.7 65.5h.01M53.3 62.3h.01M54.8 57.6h.01M51.3 52.6h.01M56.9 50.2h.01M57.7 45.6h.01M57 49.7h.01M52.1 49.8h.01M60.5 57.2h.01M50.4 50.1h.01M54 43h.01M61.9 41.7h.01M59.9 53.4h.01M55.4 60.1h.01M58.8 45h.01M52.5 46.7h.01M52.4 54.7h.01M51.9 64.3h.01M57.9 54.7h.01M55.3 52.2h.01M57.1 57.3h.01M53.4 43h.01M52.2 44.5h.01M57.8 60.3h.01M57.2 61.1h.01M57.9 59.7h.01M54 56.2h.01M57.3 58.7h.01M51.5 42.8h.01M52.9 47.5h.01M58.1 52.8h.01M52.3 61.8h.01M51.7 56.4h.01M52.9 55.4h.01M63.7 48.2h.01M54.8 56.2h.01M57.5 58.2h.01M55.6 59.4h.01M66.2 55.5h.01M61.4 47.9h.01M59.8 62.1h.01M59.1 46.9h.01M57.5 46.8h.01M50.3 60.1h.01M59.1 53.1h.01M65.7 51.2h.01M58.8 56.1h.01M59.9 51.8h.01M60.5 53.7h.01M54.1 64.2h.01M56.6 51.8h.01M61.9 47.3h.01M52.8 54h.01M50.5 62.1h.01M56.4 54.2h.01M56.6 52.3h.01M59.4 46.2h.01M63.5 55.5h.01M54 61.6h.01M64.2 54.6h.01M59.5 49.1h.01M56 65.1h.01M49.6 61.1h.01M62.2 60.3h.01M63.8 54.9h.01M59.1 50h.01M58 63.9h.01M55 56.1h.01M49.4 52.5h.01M53.7 54.2h.01M50.8 57.9h.01M50.8 61.2h.01M53.4 55.3h.01M54.6 52.9h.01M59.3 48h.01M61.9 54.2h.01M55.9 54.2h.01M59.5 58.2h.01M55.3 55.4h.01M55.7 51.9h.01M58 55h.01M53.8 59.8h.01M57.6 55.1h.01M54.8 54.3h.01M53.3 53.7h.01M54.2 53.1h.01M62.3 58.6h.01M57.1 60h.01M55 53.5h.01M57.3 54.4h.01M53.3 58.1h.01M54.2 60.7h.01M54.3 65.1h.01M50.8 45.9h.01M55.3 61.5h.01M58.5 52.5h.01M57.2 60.1h.01M55.4 62h.01M59.5 68.8h.01M53.6 52h.01M60.2 63.1h.01M61.7 39.3h.01M57.2 56.2h.01M63.7 41.1h.01M53.9 50.5h.01M58.1 48.1h.01M56.8 45.6h.01M53.5 55.3h.01M55.9 48h.01M58.7 47.9h.01M58.5 50.3h.01M59.2 52.3h.01M53.6 59h.01M56.4 52.5h.01M56.6 49.2h.01M55 43.7h.01M56.1 59.6h.01M48.2 56.9h.01M51.7 59.5h.01M55 50.8h.01M54.3 63.8h.01M58.6 59.7h.01M63.1 53.7h.01M50.4 60.9h.01M62.5 67.4h.01M53 53.7h.01M52.1 55.1h.01M53.9 52h.01M54.2 53.6h.01M54.8 61.1h.01M54.6 56.9h.01M58.8 48.6h.01M52.8 50.4h.01M60.4 64.1h.01M57.4 56.2h.01M56 60.4h.01M59.3 60h.01M55.6 61.3h.01M61.4 61.8h.01M50.8 67.3h.01M61.5 51.5h.01M55.4 46.6h.01M60.2 44.6h.01M56 41.6h.01M63.8 38.7h.01M50.6 39h.01M50.8 37.9h.01M61.1 36.8h.01M57.5 36h.01M51.8 22.3h.01M49.8 47.3h.01M48.5 30.7h.01M54 42.9h.01M58.7 35.5h.01M57.7 34.1h.01M63.8 40.1h.01M62.8 29.9h.01M72.4 23.3h.01M58.3 40.1h.01M63.6 36.5h.01M61.8 31.3h.01M57 33.5h.01M53.2 36h.01M64.6 36.6h.01M65.1 37.1h.01M64.7 39.9h.01M56.3 38.5h.01M47.2 38.3h.01M57.3 43.5h.01M73 47.6h.01M69.9 42.4h.01M52.3 34.5h.01M63.2 40.4h.01M65.3 33.2h.01M65.5 33.2h.01M54.9 38.2h.01M56.6 33.4h.01M55.1 29.5h.01M56.2 42.3h.01M64.6 27.4h.01M50.3 38.9h.01M60.5 34.1h.01M64.7 35h.01M60.6 33.7h.01M62.8 34.5h.01M48.6 40.8h.01M60.9 38.3h.01M62.3 38.2h.01M65.5 44h.01M55.7 43.5h.01M57.2 34.8h.01M57.9 42.2h.01M68.9 38.3h.01M55.3 35.9h.01M57.7 34.7h.01M52.5 26h.01M63.5 45.4h.01M68 33.5h.01M70.5 40.3h.01M57.1 28.3h.01M51.5 25.9h.01M58.9 39.9h.01M49.2 37.7h.01M60.8 37.8h.01M59.1 32.4h.01M61.7 41.8h.01M54.9 37.9h.01M64.9 33.3h.01M64.9 37.7h.01M59.4 34.5h.01M66 31.1h.01M64.9 42.9h.01M68 32h.01M59.9 38.8h.01M62.3 39.3h.01M57.7 39.3h.01M65.7 37.5h.01M63.6 48.2h.01M65.2 41.7h.01M56.5 29.6h.01M50.2 27.8h.01M67.4 27h.01M58 22.2h.01M51.1 23.9h.01M60.8 29.6h.01M58.8 31.3h.01M58.7 39.2h.01M69.7 34.7h.01M70.3 46.1h.01M60.8 31.9h.01M60.7 32.6h.01M63.8 36.5h.01M66.8 40.7h.01M60.5 35.1h.01M58.4 31.9h.01M52.8 22.9h.01M55.9 45.3h.01M58.7 36.3h.01M70.3 41.9h.01M72.5 42.4h.01M66.8 46.3h.01M58 41.5h.01M67.4 38.9h.01M52.6 32.2h.01M56.9 41.9h.01M52.9 38.8h.01M54.1 47.7h.01M67 29.4h.01M59.7 35.8h.01M61.9 48.5h.01M52.8 42h.01M61 29.7h.01M56 36.7h.01M52.9 32.4h.01M66.5 41.6h.01M70.9 39.2h.01M57 39.9h.01M60.6 38.8h.01M51.3 32.2h.01M68.8 42.8h.01M60.9 36.2h.01M66.6 47.3h.01M54.6 36.3h.01M68 35.7h.01M61.2 42.4h.01M67.6 38.2h.01M65.1 33.4h.01M58 45.6h.01M60.2 39.6h.01M61.2 36.6h.01M52 34.6h.01M63.3 44h.01M61.5 36.5h.01M54 43.8h.01M58.4 37.6h.01M62.4 38.1h.01M56.8 36.4h.01M64.9 51.8h.01M59.1 50.1h.01M62 40.6h.01M61.7 38.1h.01M61.5 40.9h.01M63.5 29.2h.01M61.8 40.2h.01M57.8 37.7h.01M66.5 30.5h.01M61 31.8h.01M62.9 30.8h.01M67.2 36.2h.01M57.7 38.5h.01M53.3 35.5h.01M68.6 34.9h.01M51.9 42.7h.01M57.3 37.9h.01M71.4 40.4h.01M56.3 37.4h.01M59.4 28.3h.01M56.9 39.9h.01M67.7 25.8h.01M62.1 41.5h.01M65.4 37.9h.01M53.1 38.9h.01M64.8 37.7h.01M61.9 33.2h.01M56.6 35.9h.01M57.8 26.2h.01M52.9 26.9h.01M60.6 33.9h.01M62.9 47.3h.01M54.5 32.1h.01M54.3 39.8h.01M60.1 32.5h.01M60.6 40.2h.01M54.5 34.6h.01M67.1 32.2h.01M61.3 39h.01M57.9 34.8h.01M56.3 38.1h.01M63.6 33.5h.01M62.3 39.2h.01M58.2 42.3h.01M61.1 41.4h.01M63.9 37.7h.01M57.6 31.6h.01M64.1 31.9h.01M66.1 36.9h.01M70 31.5h.01M59.6 43h.01M56.1 30.7h.01M56.4 33.1h.01M56.5 33.3h.01M61.2 38.3h.01M56.6 34.6h.01M61.5 30.1h.01M55.5 41.8h.01M59.1 34.7h.01M59.7 29.8h.01M65.7 36.4h.01M59.7 36.4h.01M62.9 38.6h.01M62 39.6h.01M60.5 32.6h.01M58.4 35.9h.01M62.9 34.4h.01M68 36.8h.01M69.3 31.3h.01M61.6 43h.01M62.2 31.9h.01M61.3 36.2h.01M65.7 42.3h.01M54.1 31h.01M57 30.2h.01M64.6 38.9h.01M62.4 40.5h.01M61.1 42.8h.01M68 37.9h.01M63.7 41.7h.01M57.7 35h.01M60.3 36.9h.01M60.8 40.2h.01M53.3 32.8h.01M58.8 29.2h.01M57.4 34.5h.01M57.4 45h.01M66.8 38h.01M54.8 31.3h.01M52 37.8h.01M58.1 34.3h.01M57.1 39.1h.01M61.4 37.4h.01M54.7 39.9h.01M55.5 33.4h.01M55.8 46.5h.01M56.8 45.6h.01M57.3 31.5h.01M56.9 37.5h.01M69.7 38.3h.01M57.6 40.5h.01M62 38.8h.01M53 38h.01M70.6 40.2h.01M57 31.5h.01M55.7 45.4h.01M66 45.1h.01M55.6 34.5h.01M73.3 38.1h.01M67.2 38.3h.01M54.6 35.8h.01M63.6 35.9h.01M66.1 42.7h.01M57.1 35.7h.01M57.2 35.6h.01M50.6 23.5h.01M50.9 31.2h.01M60.1 34.3h.01M57.4 37.6h.01M61.2 40.1h.01M60.9 42.2h.01M62.4 48.5h.01M70.6 35.5h.01M69.6 50.7h.01M65.2 39h.01M75.9 36.8h.01M57.5 33.1h.01M58.2 41.1h.01M55.2 46.2h.01M56.4 45.4h.01M61.6 33.2h.01M53.8 40.4h.01M47.3 36.1h.01M61.2 38.6h.01M56.7 32h.01M70.3 37.5h.01M54.3 42h.01M66.6 37.9h.01M51.4 46h.01M67 36h.01M63.6 40.4h.01M56 39.8h.01M60.9 25.9h.01M64.4 42.9h.01M60.6 31.9h.01M62.9 41.5h.01M66.7 36.8h.01M64.1 37.3h.01M56.3 40.3h.01M57 40.7h.01M56.9 40.2h.01M63.6 35.1h.01M62.4 34.9h.01M62.2 37.8h.01M60.8 40.6h.01M56.3 36.4h.01M62.3 37.3h.01M59.9 28.2h.01M61.2 31h.01M62.4 24.3h.01M67 31.2h.01M59.5 39.8h.01M73.3 33.9h.01M62.9 26.4h.01M63.7 40.2h.01M58.8 30.9h.01M69.7 30.1h.01M69.7 31.6h.01M79.4 34.1h.01M72.3 30.2h.01M79.5 26.2h.01M75.2 28h.01M70.4 30.1h.01M73.3 30.2h.01M77.3 29.9h.01M69.8 37.7h.01M69.7 31.1h.01M70.5 26.8h.01M71.4 34.8h.01M70.5 30.3h.01M78.4 28.2h.01M72.3 30.4h.01M71 33h.01M70.5 32.7h.01M66.9 34.5h.01M75.1 30.2h.01M69.5 32.7h.01M85.7 25.5h.01M73.2 28.9h.01M69.3 31.1h.01M66.8 32.1h.01M69 28.3h.01M72.9 28.6h.01M70.4 35.5h.01M75.3 34.1h.01M75.9 35.1h.01M75 34.1h.01M74.7 33.5h.01M73.2 36.1h.01M69.8 34.2h.01M66.8 32.5h.01M65.3 33h.01M70.4 33.2h.01M75 32.3h.01M71.9 31.6h.01M67.6 32.3h.01M75.6 30.9h.01M67.6 31.1h.01M68.8 38.7h.01M68.4 34.3h.01M68 27.8h.01M72.2 34.2h.01M66.5 31.3h.01M65.3 33.2h.01M73.7 31.5h.01M73.6 33.9h.01M73.9 31.4h.01M75.2 31.9h.01M72.1 31.6h.01M80.6 35.7h.01M71.1 32.1h.01M71.2 29.9h.01M76.4 27.4h.01M73.6 31.6h.01M71 31.1h.01M72 32.5h.01M67.5 34.3h.01M73.9 28.5h.01M71.1 32.4h.01M73.3 29.8h.01M76.9 28.9h.01M74.5 28.9h.01M72.9 31.1h.01M73.1 29.9h.01M72.1 30.2h.01M78.5 29.3h.01M63.5 30.9h.01M71 35.7h.01M69.1 34.4h.01M73.4 30.6h.01M71.4 32.9h.01M71.8 29.6h.01M79.8 30.2h.01M72.1 28h.01M75.4 30.9h.01M70.5 32.7h.01M69 31.8h.01M68.4 34.9h.01M77.2 28.5h.01M67.7 33.5h.01M70.5 33.8h.01M81.6 30.8h.01M73.6 31.5h.01M73.3 36h.01M71.6 34.1h.01M67.9 34.8h.01M73.1 29.8h.01M76.2 31.1h.01M68.1 31.6h.01M71.4 37.5h.01M78.9 31.1h.01M70.1 30.5h.01M75.6 33.3h.01M81.9 32.2h.01M68.2 31.5h.01M71.8 32.5h.01M70 39h.01M63.1 34.5h.01M77.5 31.4h.01M76.5 38.9h.01M70.9 32.3h.01M73.1 28.6h.01M69.1 30.3h.01M66.4 33.9h.01M70 34.6h.01M68.4 30.7h.01M66.7 28.1h.01M76.7 32.2h.01M68.5 32.4h.01M67.3 32h.01M72.2 29.6h.01M74.6 34.2h.01M78.6 29.8h.01M72.2 28.5h.01M65.8 31h.01M68.1 31.9h.01M74.9 27.4h.01M69 31.4h.01M74.6 34.3h.01M80.1 32h.01M66.7 36h.01M66.6 36h.01M71.3 32.6h.01M72.1 32.9h.01M74.4 26.8h.01M66 35.6h.01M74.8 32.9h.01M71.1 32.8h.01M65.3 34.4h.01M70.3 29.6h.01M73.6 30.3h.01M78.2 26.2h.01M69.1 31.5h.01M74.6 30.6h.01M66.2 31.9h.01M77 33.7h.01M71.8 29.9h.01M78.5 31.1h.01M66.6 34h.01M67.2 32.8h.01M65.4 35.2h.01M79.4 31h.01M69.8 31.6h.01M65.4 37.2h.01M68.8 32.5h.01M75.8 32.6h.01M73.9 28.8h.01M73.1 29.3h.01M66.7 33.9h.01M72.7 37.8h.01M63.1 31.1h.01M65 30.8h.01M73.9 29.5h.01M75.3 30h.01M71 32.4h.01M65.2 36.5h.01" fill="none" stroke="#333" stroke-width="0.6" stroke-linecap="square" opacity="0.4"/>
<ellipse cx="57.8" cy="38.1" rx="7" ry="2.2" fill="#e4e4e4" opacity="0.8" filter="url(#b2)" transform="rotate(-42 57.8 38.1)"/><ellipse cx="54.8" cy="40.2" rx="1.6" ry="2" fill="#fff" filter="url(#b1)" opacity="0.55"/>
<use href="#gates2"/>
</g>
<rect x="43.75" y="134" width="70.65" height="58.4" fill="#fff" stroke="#9a9a9a" stroke-width="0.6"/>
<line x1="43.25" y1="136" x2="43.25" y2="192.4" stroke="#555" stroke-width="1.1" stroke-dasharray="0.5 1"/>
<line x1="43.75" y1="192.6" x2="114.4" y2="192.6" stroke="#333" stroke-width="1.1" stroke-dasharray="0.9 0.9" opacity="0.6"/>
<line x1="41.35" y1="140.4" x2="43.75" y2="140.4" stroke="#111" stroke-width="0.9"/>
<text x="41.35" y="141" font-size="3" text-anchor="end" fill="#111">10<tspan font-size="2.2" dy="-1">4</tspan></text>
<line x1="41.35" y1="155.2" x2="43.75" y2="155.2" stroke="#111" stroke-width="0.9"/>
<text x="41.35" y="155.8" font-size="3" text-anchor="end" fill="#111">10<tspan font-size="2.2" dy="-1">3</tspan></text>
<line x1="41.35" y1="170" x2="43.75" y2="170" stroke="#111" stroke-width="0.9"/>
<text x="41.35" y="170.6" font-size="3" text-anchor="end" fill="#111">10<tspan font-size="2.2" dy="-1">2</tspan></text>
<line x1="41.35" y1="184.8" x2="43.75" y2="184.8" stroke="#111" stroke-width="0.9"/>
<text x="41.35" y="185.4" font-size="3" text-anchor="end" fill="#111">10<tspan font-size="2.2" dy="-1">1</tspan></text>
<text x="57" y="197.4" font-size="2.8" text-anchor="middle" fill="#222">0</text>
<text x="70.4" y="197.4" font-size="2.8" text-anchor="middle" fill="#222">50</text>
<text x="84.2" y="197.4" font-size="2.8" text-anchor="middle" fill="#222">100</text>
<text x="97.7" y="197.4" font-size="2.8" text-anchor="middle" fill="#222">150</text>
<text x="110.8" y="197.4" font-size="2.8" text-anchor="middle" fill="#222">200</text>
<g transform="translate(0 122.75)">
<path d="M50 28L53 19L62 16.5L78 18L86 24L84 32L76 41L68 48L69 58L64 67L52 70L47.5 60L47.6 44Z" fill="#cfcfcf" filter="url(#b3)" opacity="0.75"/>
<path d="M65.3 23.9h.01M72.6 21.5h.01M67.9 16.5h.01M61.5 25.3h.01M62.5 23.1h.01M71.7 20.9h.01M68.9 21.3h.01M79 25.9h.01M68.7 24.7h.01M66.3 19.3h.01M56.3 24.8h.01M60.2 21.2h.01M70.8 19.4h.01M70 22.5h.01M82.2 24.4h.01M61 26.3h.01M72.8 25.7h.01M48.8 16.2h.01M56.3 24.4h.01M69.4 23.9h.01M64.3 18.9h.01M61.3 20.2h.01M76.7 29.5h.01M69.4 27.4h.01M73.8 27.3h.01M63.3 20.1h.01M73.2 22.3h.01M58 23h.01M55.5 21.7h.01M77.2 25.2h.01M78.7 28.2h.01M74.1 21.1h.01M60.3 21.9h.01M63.9 24h.01M58.9 20.2h.01M58.7 21.6h.01M67.9 28h.01M63.7 14.8h.01M77.6 24.8h.01M53.1 19.2h.01M62.9 18.1h.01M56.1 20.7h.01M55.1 22.7h.01M83.9 27.4h.01M81.7 21.4h.01M70.7 25.4h.01M71.4 28.4h.01M72.5 23.9h.01M67.2 25.3h.01M72.6 19.8h.01M79.7 25.7h.01M73.8 30h.01M69.5 25.9h.01M70.7 19.9h.01M72.9 27.5h.01M60.9 27h.01M83.4 28.3h.01M64.6 21.4h.01M58.6 20.3h.01M83.4 29.3h.01M68.4 20h.01M69.6 26.2h.01M77.8 24.3h.01M87.3 22.5h.01M66.7 21.3h.01M68.1 20.9h.01M53.9 23.2h.01M67.4 20.3h.01M82.3 24h.01M59.9 21.1h.01M58.4 23.2h.01M50.9 24.7h.01M55.6 16.1h.01M54.5 22.9h.01M67.3 20.2h.01M69.6 22.2h.01M48.3 20.2h.01M70.2 28.7h.01M78.3 29.4h.01M74.8 22.7h.01M60 21.1h.01M73.9 28.7h.01M62 24h.01M55.9 28.3h.01M54.1 18.8h.01M52.7 25.3h.01M64 20.6h.01M49.9 23.7h.01M48.6 17.3h.01M77.4 26.4h.01M58.2 20.7h.01M87 29.3h.01M71 18.2h.01M54.2 15.7h.01M74.9 29h.01M75.9 27.6h.01M51 21.4h.01M65.1 16.6h.01M79.3 27.1h.01M51.8 30h.01M71 21.8h.01M70.1 21.6h.01M85.3 21.5h.01M78.9 25.6h.01M63.2 22h.01M54.1 15.7h.01M63.9 19.7h.01M67.4 26.1h.01M67.1 18.5h.01M62.7 23.1h.01M57.6 25.3h.01M78.3 26.5h.01M63.9 15.8h.01M59.7 23.9h.01M69.2 18.8h.01M68.9 15.5h.01M66.6 23.6h.01M78.6 17.9h.01M57.5 20.7h.01M68.9 27.2h.01M76.1 25.5h.01M62.7 21.6h.01M67.9 26h.01M72.9 23.3h.01M71.5 25.9h.01M66.7 26.5h.01M55.8 17.7h.01M58 27.5h.01M67.2 22h.01M64.2 22.4h.01M64 22.8h.01M62.1 20.9h.01M51 19.2h.01M72.5 25h.01M57.4 19.2h.01M81.4 25.7h.01M92.6 27.8h.01M74.6 21.2h.01M71.5 21.7h.01M60.9 23.7h.01M57.9 21.4h.01M63 24.3h.01M76.4 23.2h.01M67.5 21.3h.01M52 20.1h.01M74.3 24.3h.01M61.9 26.2h.01M75.3 17.2h.01M67.3 20.7h.01M59.9 20.3h.01M63.1 19.1h.01M74 21.5h.01M61.3 26.1h.01M79.1 27.4h.01M59.9 19.5h.01M80.9 18.7h.01M54.6 22.6h.01M56.8 23.1h.01M73 18.8h.01M80.9 24.6h.01M64.1 23.7h.01M74.1 25.6h.01M58.6 19.7h.01M57.5 23.3h.01M67.3 21.9h.01M86.6 27.6h.01M64.4 23.1h.01M51.9 23.1h.01M66.3 21.5h.01M72.5 23.9h.01M63.2 25.2h.01M68.5 21.3h.01M59.5 22.9h.01M77.6 32.4h.01M71.7 20.6h.01M54.3 16.4h.01M61.4 18.4h.01M78.1 22.6h.01M66.4 22.4h.01M63.7 15h.01M61.6 24.7h.01M70.6 25.3h.01M79 28.1h.01M57.9 23.5h.01M64.3 22.3h.01M62.1 20.7h.01M65.5 23.7h.01M71.2 22.7h.01M51.3 22.8h.01M62.4 28.6h.01M83.7 25.3h.01M65.4 17.9h.01M66.7 27.4h.01M68.9 26.7h.01M58 26.7h.01M53 22.4h.01M87.1 27.8h.01M65.7 29.4h.01M56.7 21.2h.01M74.6 21.1h.01M61.8 27.1h.01M57.6 20.3h.01M60.9 26h.01M53.6 19.2h.01M56.8 19.7h.01M74.4 24.4h.01M67 23.7h.01M63.8 19.5h.01M77.7 29.5h.01M72.9 21.6h.01M62.1 24.5h.01M52.6 17.8h.01M61.3 19.8h.01M78.2 21.7h.01M57.3 22.1h.01M86.2 25.1h.01M64 23h.01M53.4 21.2h.01M61.5 25.3h.01M79.2 27.1h.01M60.4 20.3h.01M70.2 23.4h.01M72.8 24.8h.01M60.6 24.5h.01M75.8 25.3h.01M79.5 22.7h.01M73.7 22.1h.01M49.6 21h.01M68.8 24.5h.01M73.4 19.5h.01M74.9 19.9h.01M83.4 22.9h.01M68.9 23.1h.01M66.9 20.2h.01M55.6 18.5h.01M76.6 25.4h.01M64 22.2h.01M50.7 18.5h.01M63.5 22.3h.01M54.7 21.9h.01M65 26.3h.01M69.2 25.4h.01M51.2 26.5h.01M63.9 25h.01M73.7 26.5h.01M59.8 27.5h.01M65.7 17.7h.01M73.8 22.9h.01M72 19.8h.01M71.6 26.2h.01M69.2 23.7h.01M72.8 29h.01M64.6 22.8h.01M65.1 21.7h.01M55.2 20.7h.01M64.4 19.6h.01M64.5 15.1h.01M80.7 23.9h.01M55.8 19.9h.01M68.8 21.2h.01M63.9 18.2h.01M66.6 22.9h.01M76.7 19.9h.01M65.5 23.4h.01M57.7 20.7h.01M67.4 21.4h.01M76 17.9h.01M69.2 24h.01M72.6 26.2h.01M53.6 20.7h.01M75.4 21.3h.01M61.6 24.2h.01M54.8 24.1h.01M69.6 21.3h.01M52 30.7h.01M68.6 27.1h.01M80.8 29.4h.01M61.1 23.4h.01M58 23h.01M77.3 20.1h.01M72.7 22.2h.01M74.6 23.5h.01M48.3 23.1h.01M58.8 19.9h.01M84.3 21.3h.01M58.4 25.8h.01M62.2 22.4h.01M67.3 26h.01M68.5 23.1h.01M65 20.2h.01M55.2 24.8h.01M75.3 25.4h.01M77.8 27.9h.01M56.3 20.6h.01M67.1 29.6h.01M81.4 28.4h.01M83.4 18h.01M76.3 17.2h.01M61.7 22.9h.01M71.1 18h.01M57.8 21h.01M80.9 23.4h.01M70.2 21.7h.01M79.3 29.2h.01M61.1 24.2h.01M61.7 22.8h.01M61.8 32.6h.01M54.4 25.9h.01M71.2 20.5h.01M58.2 23.6h.01M84.5 21.7h.01M63.2 21.5h.01M62.2 21.7h.01M60.4 16.9h.01M72.9 16.5h.01M70.3 18.5h.01M57.4 23.5h.01M63.1 24.3h.01M67 19.7h.01M58.5 19.7h.01M69.2 25.4h.01M55.8 21.3h.01M69.5 18.8h.01M64.6 20.1h.01M75.6 24.3h.01M64.9 26.2h.01M72.5 24.1h.01M63.9 21.8h.01M64.8 21.3h.01M59.6 27.4h.01M54.7 18.3h.01M68.6 21h.01M66.3 23.7h.01M81 28.6h.01M71.7 16.8h.01M83.8 27.8h.01M84.6 28.5h.01M69.2 23.6h.01M57.9 14.7h.01M65 19.7h.01M76.5 23h.01M66.2 23.4h.01M77.7 19.1h.01M63.5 21.2h.01M67.6 25.1h.01M75.9 21.4h.01M73.3 22.1h.01M70.3 21.2h.01M69.9 17.7h.01M72.6 21.8h.01M66.3 21.6h.01M76.1 26.1h.01M61.8 19.1h.01M96 20.8h.01M69.4 21h.01M59.5 18.5h.01M51.6 22.9h.01M58.7 19.6h.01M71.3 17.3h.01M62.2 24.1h.01M78 23.4h.01M63.6 22.8h.01M57 22.9h.01M63.6 25.9h.01M62.2 18.7h.01M64.9 24.5h.01M56.1 21.6h.01M65.6 22.5h.01M49.2 20.2h.01M68.4 20.9h.01M65.6 23.1h.01M65.4 22.4h.01M59 24.1h.01M65.8 27.7h.01M69.2 19.1h.01M49.7 27.7h.01M75.7 27.3h.01M65.9 18.2h.01M71.6 22.5h.01M81.3 24h.01M54.8 25.4h.01M57.9 18h.01M57.2 27.6h.01M67.8 18.7h.01M57.6 20.2h.01M59 19.4h.01M83.9 19.8h.01M65.1 18.2h.01M71.1 20.8h.01M76.6 22.5h.01M81.1 21.7h.01M53.9 17.8h.01M74.4 22.3h.01M76.9 30.3h.01M60.1 27.7h.01M62.6 26.2h.01M69 21.3h.01M67.4 24.4h.01M64.2 20.3h.01M61.5 20.2h.01M65.9 22.9h.01M64 25.8h.01M69.6 21h.01M61.4 19.5h.01M57.4 21.4h.01M63.3 16.8h.01M64.7 25.3h.01M76.8 27.2h.01M62.9 26.3h.01M88.2 22.6h.01M78.6 22.9h.01M73.1 19.8h.01M71.6 24.1h.01M66.7 30.3h.01M84.1 20.8h.01M55.4 23.6h.01M73.8 28.2h.01M74.8 19.6h.01M89 32.5h.01M66.6 20.1h.01M81.8 23.7h.01M71.2 24.5h.01M57.5 24.9h.01M56.4 24.3h.01M78.8 22.9h.01M56.2 19h.01M83.4 22.4h.01M57.8 26.1h.01M73 20.3h.01M85.6 26.7h.01M81.8 26.6h.01M74.8 23.9h.01M60.6 19.8h.01M84.9 22.4h.01M72.2 22.9h.01M68.5 16.3h.01M56.5 26.4h.01M72.1 35.5h.01M71 33.4h.01M73.3 32.5h.01M82.5 39h.01M80.8 22.8h.01M77.8 32.7h.01M87.5 29.5h.01M70.8 29h.01M78.4 26.3h.01M79.1 26h.01M78.6 35.4h.01M78.3 26.6h.01M70.2 38.2h.01M82.5 23.9h.01M79 25.5h.01M78 33.9h.01M75.3 37.1h.01M79 25h.01M66.9 33h.01M81.4 31.1h.01M80.3 26h.01M90.3 19.8h.01M73.4 29.2h.01M85.6 29.1h.01M75.1 21.1h.01M68.8 44.8h.01M70.6 43.1h.01M74.9 39.2h.01M83.3 27.9h.01M84.3 25.2h.01M75.4 35.6h.01M76.8 27.2h.01M81.6 39.8h.01M58.4 39.3h.01M85.6 33.2h.01M86.9 30.7h.01M60.4 39h.01M69.4 35.2h.01M73.8 30h.01M75.6 33.4h.01M84.1 31.2h.01M83.8 28.7h.01M71.7 33.4h.01M80.5 30.5h.01M74.1 39.5h.01M75.7 37.1h.01M78.5 33.7h.01M78.4 28.6h.01M71 33.3h.01M89.6 27.8h.01M76.6 30.6h.01M74.7 30.2h.01M83.8 35h.01M72 35.4h.01M78.5 32.5h.01M58.7 39.2h.01M65.2 39.8h.01M75.1 37h.01M73.4 35.4h.01M70.8 28.6h.01M70.8 33.3h.01M80.9 32.6h.01M84.5 29.3h.01M74.6 38.2h.01M82.3 28h.01M78.4 31.2h.01M69.8 40.3h.01M66.9 37.3h.01M78 35.6h.01M79.7 22.5h.01M68 32.5h.01M63.9 43.4h.01M84 32.2h.01M85.1 31.4h.01M76.2 36.8h.01M85 32.2h.01M87.3 21.5h.01M73.4 41.5h.01M75.1 37.2h.01M71.2 29.7h.01M80.6 24h.01M71.1 37.1h.01M72.6 31.3h.01M85.4 30h.01M82.1 28h.01M80.1 23.4h.01M68.3 32.8h.01M78.2 29.6h.01M72.2 34.6h.01M83.6 32.2h.01M78.1 28.4h.01M81.6 31.8h.01M74.5 32.3h.01M76.8 31.6h.01M74.1 22.8h.01M73.7 31.5h.01M75.4 26.2h.01M71 38.4h.01M70.4 40.6h.01M65.6 40.1h.01M79.1 40.6h.01M82.1 30.5h.01M80.5 34.1h.01M62.4 38.2h.01M79.4 32.4h.01M74.4 28.7h.01M74.5 32h.01M79.6 35.5h.01M79.9 30.5h.01M84.4 26.5h.01M84.1 27.7h.01M89.6 27.7h.01M82.6 35.4h.01M69.4 29.1h.01M84.8 27.8h.01M67.9 36.2h.01M81.2 28.7h.01M69.4 36h.01M73.4 36.4h.01M86.4 32.5h.01M68.8 28.3h.01M80.8 24.4h.01M80.5 30.7h.01M72.4 27.6h.01M81.9 31.5h.01M78.5 27.2h.01M76.9 31.4h.01M69.8 30.4h.01M79.9 26.2h.01M79.3 43.5h.01M75.1 31.4h.01M81.9 36.1h.01M75.4 32.6h.01M79.1 33.8h.01M76.6 28.4h.01M79 33.2h.01M76 30h.01M79.6 17.1h.01M67.9 24.4h.01M73.1 33.4h.01M69.3 39.1h.01M59.4 37.6h.01M78.4 26.1h.01M78.1 28.6h.01M88.7 33.4h.01M63.1 30.6h.01M72.4 37.4h.01M74.7 38.5h.01M86.1 20.6h.01M80.3 25.7h.01M74.2 31.5h.01M74.6 29.9h.01M80 34.8h.01M68.9 36.5h.01M77.2 29.2h.01M69.8 37.4h.01M79.1 36.5h.01M79.8 28.6h.01M76.2 28.4h.01M73.3 38.2h.01M77.6 39.7h.01M84.2 35.4h.01M74.3 37.2h.01M66.9 36.5h.01M75.8 36.5h.01M73.8 36.4h.01M75.9 35.6h.01M75.9 32.5h.01M75.8 37.7h.01M75.5 37.1h.01M79.5 24.9h.01M81.2 33.3h.01M80.3 25.8h.01M76.7 32.9h.01M73.3 33.6h.01M78.9 33.5h.01M65.6 36h.01M68 35.4h.01M80.4 28h.01M71.9 32.7h.01M68.9 29.9h.01M69.9 38.5h.01M77.7 29.2h.01M68.9 38.3h.01M83.8 28.6h.01M78.1 33.7h.01M65.7 41.1h.01M70.1 29.9h.01M69.1 36h.01M79.8 31.7h.01M77.9 28.6h.01M71.5 32.2h.01M72.5 36.5h.01M81.2 36.1h.01M72.9 37.1h.01M85.9 30.9h.01M72.2 36.4h.01M81.8 38.8h.01M63.2 40h.01M80.1 35h.01M78.4 47.5h.01M78.3 33.5h.01M83 29.1h.01M71.7 27.9h.01M56.5 35.7h.01M66.7 47.9h.01M76.5 33h.01M68.2 32.8h.01M67.3 35.2h.01M80.2 25.5h.01M74.3 33.8h.01M80.5 27.5h.01M82.8 32.1h.01M76.1 39.9h.01M77.5 34.5h.01M68.1 37.4h.01M78.3 31.9h.01M78.1 38.3h.01M83.3 22.9h.01M79.2 26.8h.01M73.5 31.7h.01M68.8 31.1h.01M75.2 35.8h.01M74.8 31.8h.01M78.6 27.1h.01M83.3 31.7h.01M67.6 37h.01M69.6 38.3h.01M77.7 32h.01M66.7 35.4h.01M72.9 29.6h.01M64.9 41h.01M71.6 31h.01M74.6 38.6h.01M73.9 35.3h.01M71.3 35.3h.01M77.1 28.6h.01M84.5 36.2h.01M79.7 29.8h.01M74.8 36.2h.01M72.2 32h.01M73.5 39.8h.01M71.7 37.3h.01M76.4 37.7h.01M76 36.9h.01M73.9 33.6h.01M75.3 29.3h.01M81.1 30.6h.01M70.2 33.2h.01M73.3 32.8h.01M82.4 37.7h.01M78.7 36.1h.01M71.1 37.3h.01M69.3 39.9h.01M81.6 34.5h.01M69.3 37.9h.01M78.2 31.8h.01M69.5 37.3h.01M87.9 29.2h.01M73 44.6h.01M85.2 23.1h.01M80.7 31.1h.01M83.7 26.8h.01M88.4 37.9h.01M78.3 29.7h.01M76.5 39.1h.01M92.9 27.3h.01M74.3 36.6h.01M79.3 36.7h.01M68.2 39.6h.01M75.4 32.4h.01M83.5 38.3h.01M69.3 31.6h.01M73.4 26.2h.01M72.7 31.6h.01M75.2 37.2h.01M78.8 28.9h.01M81.9 30.8h.01M73.2 39.4h.01M66.4 41.9h.01M79.9 33.4h.01M71.3 41.2h.01M73.3 35.2h.01M72.9 40.2h.01M83 30.9h.01M93.1 31.6h.01M74.5 39.5h.01M90.3 26.5h.01M79.5 37.3h.01M75.8 38.1h.01M85 32.9h.01M89.2 28.4h.01M72.5 30.3h.01M73.2 33h.01M89.9 30.7h.01M84.4 35.4h.01M55.2 37.7h.01M73.4 31h.01M67.1 29h.01M69.8 30.9h.01M65.3 56.6h.01M61 45h.01M64.4 57.7h.01M70.4 53.9h.01M54 48.7h.01M65.7 42.4h.01M65.7 47.4h.01M69 35.2h.01M67.4 58.3h.01M69.7 50.9h.01M63.1 66.9h.01M61 37.2h.01M66 68.4h.01M73.5 59h.01M58.2 46.9h.01M61.5 56.8h.01M67.5 41h.01M63.9 39.2h.01M62 64h.01M68.7 34h.01M69 53.8h.01M58.6 64.7h.01M62.1 53.3h.01M70.7 67.1h.01M69.3 51.6h.01M62 45.6h.01M54.4 62h.01M61.1 60.7h.01M66.1 52.3h.01M59.1 65.1h.01M58 40.3h.01M54.3 60.7h.01M60.1 47.9h.01M62.5 54.6h.01M64.1 53.7h.01M68.4 55.4h.01M57.8 56.6h.01M55.4 64.7h.01M50.6 63.6h.01M56.9 52.1h.01M61.1 52.8h.01M62.9 42.9h.01M58.1 67.7h.01M61.6 61.4h.01M61.6 46.2h.01M54.4 52.6h.01M60.4 66.8h.01M65.6 46.4h.01M57.6 54.2h.01M79.9 56.2h.01M49.5 47h.01M54 51.5h.01M63.2 33.2h.01M57.2 61.1h.01M58.2 47.2h.01M63.3 53.9h.01M71.1 40.6h.01M62.3 58.1h.01M74.6 36.1h.01M55.4 45h.01M61.9 49.1h.01M64.6 43.3h.01M63.2 39.3h.01M64.2 39.8h.01M62.8 44h.01M58.5 53h.01M55.4 53.1h.01M53.9 62.9h.01M60.8 50.3h.01M68.9 31.6h.01M65.2 51.4h.01M64 63.2h.01M51.5 38.3h.01M56.9 52.8h.01M55.2 53.8h.01M64.1 42.6h.01M62.6 50.2h.01M61.9 42.1h.01M64.5 66.7h.01M58.2 57.6h.01M62.6 52.7h.01M63.6 59.1h.01M63.2 58.9h.01M62 43.7h.01M72 41.4h.01M68.7 39.5h.01M69.7 41.3h.01M61.7 60h.01M60.9 62.6h.01M54.9 65.4h.01M54.4 37.4h.01M56 50.7h.01M51.2 61.7h.01M58.3 68.7h.01M54.9 47.4h.01M60 48h.01M57.7 47.4h.01M61.1 56.2h.01M59.4 59.4h.01M67.4 62.9h.01M67.7 48.9h.01M67.4 67.5h.01M64.5 42.9h.01M51.2 56h.01M64.6 65.9h.01M70.2 64.8h.01M59 55.8h.01M70.4 50.3h.01M61.3 51.3h.01M64.1 45.6h.01M62.7 45.7h.01M60.7 42.3h.01M57.3 62h.01M55 39.3h.01M64.3 45.9h.01M60.1 64.9h.01M65 56.8h.01M58.3 68.4h.01M61.1 67.4h.01M73.1 59h.01M65.1 63.9h.01M63.5 41.8h.01M62.9 55h.01M58.6 68.9h.01M67.9 58.4h.01M58.7 54.7h.01M62.5 60.7h.01M50.6 36.2h.01M62.1 64h.01M63.9 28.6h.01M56 56.3h.01M61.1 56.3h.01M64.5 48.8h.01M76.6 48.2h.01M63.1 48.8h.01M63.4 42.4h.01M66 45.8h.01M57.3 49.9h.01M61.4 48.7h.01M49.8 67h.01M54.6 54.5h.01M59.9 50.9h.01M64.3 60.6h.01M56.4 54.7h.01M57.6 50.2h.01M62 49.9h.01M56.7 50.3h.01M59.2 50.9h.01M57.8 48h.01M71.2 54.2h.01M56.8 64.2h.01M71.8 42.8h.01M61.8 56.6h.01M69.9 61.8h.01M56.8 50.9h.01M62.8 52.7h.01M69.6 50.5h.01M64 59.2h.01M58.8 57.5h.01M72.3 57h.01M76.8 58.2h.01M68.3 62.3h.01M67.5 68.3h.01M64.3 43h.01M55.4 61.6h.01M55.1 44.9h.01M69.3 45.9h.01M51.4 52.5h.01M60.5 54.4h.01M74.5 38.7h.01M60.6 68.5h.01M56 47.3h.01M55.9 58.3h.01M68 58h.01M55 57.3h.01M59.3 53.1h.01M53.7 54.2h.01M61.4 53.5h.01M59.2 49h.01M65.2 64.5h.01M56.2 53.2h.01M58.8 55.6h.01M50.2 44.9h.01M70.1 48.5h.01M68 55.9h.01M63.1 39.4h.01M59.8 66.3h.01M65 49.8h.01M68.2 51.1h.01M53.9 46.3h.01M56.7 53h.01M73.1 60.2h.01M66.7 60.7h.01M66.3 47.3h.01M64.2 42.6h.01M66.7 52.5h.01M66.9 52.6h.01M68.1 47h.01M53.8 62.9h.01M64 43.3h.01M65.8 45.1h.01M61.7 61.8h.01M57.1 47.9h.01M61.1 50.6h.01M58.4 43.7h.01M62.1 40.7h.01M64.6 46.1h.01M68.4 37.6h.01M63.8 59.9h.01M66.9 56.4h.01M55.4 50.4h.01M63.4 47.6h.01M57.6 61.3h.01M53.9 45.8h.01M56.6 61h.01M65.2 48.5h.01M71.1 37.1h.01M62 49.3h.01M55.1 48.1h.01M60.7 57.3h.01M58.9 47.5h.01M68.3 56.3h.01M54.7 53.3h.01M68.3 45.4h.01M62.9 42h.01M50.3 37.5h.01M48 33h.01M52.2 43.2h.01M54.2 42.8h.01M51.5 38.9h.01M52.4 27.4h.01M49.6 32.8h.01M55.4 35.9h.01M56.8 36.2h.01M59.7 39.2h.01M57.7 40.3h.01M50.9 38.2h.01M54.1 30.2h.01M54.1 33.3h.01M56 27.6h.01M52.8 30.4h.01M53.7 41h.01M55.5 34.9h.01M61.6 36.2h.01M51.4 44.1h.01M51.7 31.4h.01M56.5 36.8h.01M55 25h.01M52.4 43h.01M53.6 34.8h.01M50.8 41.8h.01M50.6 41.6h.01M51.5 35.5h.01M49.8 39.8h.01M53.5 24.9h.01M60 33.1h.01M55.4 21.7h.01M49.2 43h.01M48.9 40h.01M55.2 47.5h.01M49.3 45.9h.01M51.5 48h.01M47.5 33.7h.01M48.1 23.7h.01M54.4 33.3h.01M53 40.5h.01M54.4 45.5h.01M49.2 41.5h.01M50.5 40.3h.01M52 33.5h.01M52.1 27.3h.01M50.5 42.7h.01M52.8 29h.01M50 48.6h.01M52.4 40.4h.01M53.8 41.6h.01M54.5 36.6h.01M55.5 23.3h.01M51.6 29.1h.01M53.4 43.7h.01M57.3 27.1h.01M55.1 27.1h.01M49.8 47.3h.01M62.9 21.5h.01M54.6 39.3h.01M51.1 51.3h.01M56.6 45.2h.01M58.5 40.7h.01M57.5 23.2h.01M51.9 33.9h.01M57.2 23.5h.01M48.8 37.6h.01M55.2 25.7h.01M49.2 43.3h.01M53.8 41.3h.01M48 31h.01M51.4 39.2h.01M53.4 38h.01M52.2 36.9h.01M51.9 36.1h.01M49.6 41.4h.01M52.1 36.6h.01M58.4 34.2h.01M50.6 38.7h.01M49.7 30.1h.01M48 45h.01M50.5 42.2h.01M58.1 21h.01M52.5 33.9h.01M55.8 35.7h.01M57.7 36.5h.01M49.5 39.4h.01" fill="none" stroke="#444" stroke-width="0.6" stroke-linecap="square" opacity="0.5"/>
<path d="M49.3 46Q48.8 36 53.8 28Q57 25.2 61 25.1L66 25.6Q72 24.3 76.8 25Q80.8 26.8 81 29.5Q80.8 32.2 79.2 34.2L73.2 40.4L68.8 38.4Q66.8 41.4 63.6 44.4Q56 48 49.3 46Z" fill="#858585" filter="url(#rough2)"/>
<path d="M49 46L65 46.6L67 55.4L57 68.4L48.6 65L48 55.3Z" fill="#b4b4b4" filter="url(#rough2)"/>
<path d="M49 49L58 49L57 58L52 66L48.6 58Z" fill="#7a7a7a" filter="url(#b2)" opacity="0.7"/>
<path d="M67 28L78 28.8L80 31L74 37.2L70 36.6Z" fill="#5c5c5c" filter="url(#b1)" opacity="0.55"/>
<path d="M61.4 57.2h.01M62.4 52.7h.01M50.1 47.9h.01M60.6 47.5h.01M49.1 62.3h.01M60.8 52.4h.01M58.7 50.8h.01M52.7 66.3h.01M55.6 47h.01M54.3 62h.01M61.7 49.6h.01M54.8 52.4h.01M55.4 52.4h.01M57.8 58.9h.01M62.8 54.2h.01M53.9 62.4h.01M58 51.9h.01M52.8 68.9h.01M60.5 53.8h.01M53.4 43.1h.01M58.6 49.5h.01M58.6 49.6h.01M55 57.9h.01M61.6 46.9h.01M62.7 64.8h.01M57.2 49.7h.01M58.1 52.6h.01M56.6 63.6h.01M62.2 41.6h.01M57.4 49.9h.01M57.5 42.5h.01M52.9 66.3h.01M55.7 54.4h.01M57.7 43.5h.01M62.4 61h.01M58.8 67.7h.01M47.7 66.7h.01M54.3 60.1h.01M61.7 49.5h.01M61.1 52.6h.01M49.6 61.3h.01M55.9 59.2h.01M62.5 54.5h.01M53 66.1h.01M55.8 46.9h.01M55.9 67.6h.01M53.5 48h.01M60.8 52.8h.01M57.3 55.5h.01M56.8 61.8h.01M53.3 64.4h.01M61.4 45.3h.01M55.8 49.4h.01M54 50.8h.01M56 55h.01M52.2 49.9h.01M55.1 48.1h.01M64.1 67.6h.01M53.2 60.9h.01M53.2 56h.01M56 62.7h.01M57.8 54.6h.01M59 45.2h.01M58.6 42.9h.01M50 59.9h.01M54.8 55.5h.01M48.4 54.8h.01M59.7 49.2h.01M57.9 57.3h.01M59.4 58.1h.01M50 65.5h.01M48.2 64.6h.01M57.1 51.7h.01M51.7 69h.01M51.5 62.4h.01M52.5 66.9h.01M50.9 54.5h.01M49 63h.01M58.8 45h.01M56.8 64.9h.01M59.7 51.2h.01M57.3 59.4h.01M57.2 51.5h.01M58.1 56.5h.01M55.2 56.7h.01M57.7 47h.01M55.7 57.2h.01M47.4 62.5h.01M57.7 57.1h.01M62 65.1h.01M55.5 57.2h.01M56.9 66.3h.01M57.1 57.8h.01M63.6 48.8h.01M62.1 62.6h.01M54.4 47.4h.01M53.5 56.4h.01M54.7 51.1h.01M62.8 48.8h.01M49.6 53.1h.01M52 59.1h.01M50.7 62h.01M54.3 51.9h.01M59.1 52h.01M52.1 60.3h.01M59.5 56h.01M61.9 64.2h.01M57.6 50.5h.01M60 66.8h.01M55.4 58.2h.01M57.8 56.1h.01M56.5 44.7h.01M60.8 54.4h.01M57.8 55.7h.01M58.2 64.7h.01M59.7 57.8h.01M60.9 49.4h.01M53.8 46.1h.01M56.9 62.8h.01M54.5 47.7h.01M53.9 68.7h.01M56.3 58.1h.01M59 52.8h.01M56.9 50.3h.01M54.8 66.2h.01M61.4 55.6h.01M58.1 57.7h.01M49.9 41.1h.01M57.9 57.4h.01M55.5 48.8h.01M60.4 40.1h.01M59.5 54.8h.01M62.8 55.8h.01M56 47.2h.01M56.6 47.7h.01M54.6 49.5h.01M50.6 57.6h.01M57.3 58.5h.01M61.7 58.6h.01M55.9 54.2h.01M59.5 67.6h.01M57.3 50.3h.01M60.7 43.1h.01M56.6 48.6h.01M58.7 55.2h.01M52.8 56.4h.01M63.5 56.1h.01M60.8 53.2h.01M54.9 52h.01M50.1 49.6h.01M56.8 61.4h.01M53.1 47.1h.01M55.2 66h.01M60.8 49.6h.01M48.6 50.6h.01M55.5 56.4h.01M57 44.2h.01M59.2 57.3h.01M58.1 56.1h.01M62 66.4h.01M57.7 61.5h.01M60.7 38.8h.01M48.9 58.1h.01M57.2 48.9h.01M56 49h.01M56.9 50h.01M52.3 52.6h.01M47 55.3h.01M62.8 63.2h.01M54.8 69.2h.01M55.4 53.2h.01M61.8 57.6h.01M59.4 58.2h.01M57.3 56.8h.01M57.9 54.7h.01M60.1 48.1h.01M53.5 52h.01M57.6 50.3h.01M64.9 49.5h.01M59.1 52.3h.01M57.9 55.7h.01M64.6 51.8h.01M57.9 53.2h.01M62.2 63h.01M57.5 61.5h.01M56.6 49h.01M59.4 43.1h.01M51.7 54.2h.01M63.3 69.4h.01M58.7 55.8h.01M53.7 58.9h.01M55.4 55.4h.01M52.5 51.6h.01M56.2 54.8h.01M59.7 49.7h.01M64.3 58.9h.01M55.1 55.6h.01M55.2 59.8h.01M60.1 60.3h.01M59.4 48.4h.01M54.1 58.1h.01M55 56.2h.01M53.6 63.5h.01M60.2 68.2h.01M54.9 53h.01M56.8 40.8h.01M61.1 56.1h.01M54.6 55.4h.01M61.2 49.2h.01M51.2 58.5h.01M54.5 54.1h.01M61.5 61.2h.01M59.8 47.2h.01M53.1 57.6h.01M52.5 54.1h.01M50.7 53.9h.01M57.4 63h.01M56.1 51.5h.01M58.1 53.2h.01M55.9 61.4h.01M68 45.9h.01M60.9 61.3h.01M51.4 50.3h.01M59.1 39.5h.01M51.2 65.6h.01M56.5 67.7h.01M55.5 56.4h.01M58.2 48.6h.01M56.5 43h.01M48.6 57.3h.01M58 66.9h.01M50.7 44.3h.01M53.2 55.1h.01M52.9 66.7h.01M56.8 61.5h.01M52.2 54h.01M57.7 46.5h.01M63.6 60.1h.01M53.5 63h.01M58.5 46h.01M59.5 52.3h.01M56.3 52.6h.01M60.4 55.5h.01M54.3 54.7h.01M59.2 49.6h.01M59 50.5h.01M60.7 60.4h.01M61.5 37.7h.01M61.7 36.2h.01M60.3 45.6h.01M50 39.5h.01M68.4 50.1h.01M58.1 44.2h.01M74.7 34.7h.01M57 29.9h.01M62.6 38.7h.01M67.4 45.3h.01M56.3 37.4h.01M66.3 45.7h.01M57.3 44.1h.01M63.7 43.3h.01M63.5 38h.01M63.2 42.3h.01M62.3 34.8h.01M55.1 36.8h.01M64.8 34.9h.01M59.2 34.6h.01M56.3 30.7h.01M63.5 37.8h.01M57.9 40.4h.01M60.2 36.8h.01M61.1 42.8h.01M61.5 33.6h.01M67 39.4h.01M58.5 43.2h.01M55.4 33.6h.01M58.8 43.4h.01M67.6 30.7h.01M57.5 40.9h.01M58.5 35.1h.01M62.9 44.4h.01M57.2 41.9h.01M54.7 21.9h.01M55.9 32.8h.01M61.1 27.7h.01M55 38h.01M63.7 39.6h.01M70.5 31.4h.01M59 25.6h.01M53.7 26h.01M64.3 34.5h.01M53.6 38.7h.01M64.8 39.9h.01M63.5 38.8h.01M63.2 36.8h.01M66.7 42.7h.01M64.5 36.8h.01M59.4 42.2h.01M56.3 35.9h.01M56.5 41.8h.01M67.4 44.4h.01M48.4 36h.01M55.8 30.8h.01M54.8 36.7h.01M64.3 42.2h.01M70.5 31.3h.01M55.4 34.6h.01M66.8 37.2h.01M66.3 33h.01M54.8 39.9h.01M55.3 30.6h.01M55.6 26.7h.01M57.5 41.5h.01M56.4 35.3h.01M61.1 41.2h.01M66.8 47h.01M60.1 42.7h.01M61.7 27.8h.01M63.4 36.9h.01M57.9 34.2h.01M62.4 37.8h.01M54.9 46.1h.01M52.3 39.3h.01M55.6 43.5h.01M61.4 37.2h.01M68.3 35.6h.01M60.4 42.7h.01M54.7 39.8h.01M59.1 45.4h.01M64.8 43.2h.01M51.5 35.9h.01M55.5 38.6h.01M63 35.2h.01M59.9 23.9h.01M57.8 32.1h.01M63.7 43.7h.01M60.3 40.9h.01M62.8 35.9h.01M47.4 45.8h.01M63.8 41.5h.01M57.4 30.5h.01M62.9 45.6h.01M56.7 35.1h.01M60.7 34.1h.01M54.7 33h.01M63.8 37h.01M53.9 34.7h.01M61.5 35.5h.01M61.4 30h.01M58.8 45.6h.01M68.4 41.1h.01M59.5 32h.01M57.2 29.3h.01M62 26.9h.01M64.3 39.8h.01M52 32.5h.01M60.2 30.7h.01M64.9 33.5h.01M62.8 45.4h.01M59 37.9h.01M57.9 36.2h.01M59.8 41.7h.01M51.3 30.3h.01M60.1 29.3h.01M67.8 39.1h.01M57.3 46h.01M61 40.2h.01M59.8 39.8h.01M62.4 33.5h.01M64.1 32.9h.01M67.1 45h.01M62.4 28.8h.01M68 41.1h.01M62.9 35h.01M57.7 27.6h.01M66.6 37h.01M55.3 34.2h.01M56.3 41.9h.01M65 36.6h.01M71.2 46.4h.01M65.7 29.6h.01M53.9 27h.01M56.2 42h.01M63.8 39.2h.01M65.9 31.9h.01M55.3 34.6h.01M61 39.9h.01M59.7 42h.01M52.1 38.7h.01M68 38.1h.01M58.4 38.3h.01M67.1 32.4h.01M54.7 31.8h.01M50.3 38.1h.01M57.9 42.8h.01M59.5 45.9h.01M60.3 44.7h.01M58.7 37.1h.01M57.9 37.2h.01M64.9 28.3h.01M47.6 38.8h.01M54.4 37.8h.01M63.4 41.7h.01M66.9 41.2h.01M61.6 38.6h.01M61.5 40h.01M59.6 30.8h.01M58.6 36.6h.01M60.8 41.4h.01M61.8 36.4h.01M55.2 43.8h.01M56.2 30.3h.01M61 46.9h.01M60.2 34.7h.01M57.2 34.3h.01M65.9 34.3h.01M51.4 16.5h.01M60.3 34.5h.01M62.4 49.4h.01M60.7 32.6h.01M53.2 47.4h.01M58.9 26.1h.01M59.6 27.5h.01M56.1 28.3h.01M67.1 42.4h.01M48.1 30.8h.01M58.6 39.8h.01M53.5 35h.01M64.5 38.9h.01M59.3 29.9h.01M65 29.4h.01M56.4 41.6h.01M50.8 30.3h.01M55.8 25.3h.01M63.2 49h.01M57.2 39.1h.01M64.2 38h.01M60 37h.01M58.5 40.3h.01M64.9 34.2h.01M60.7 39.4h.01M50 34.2h.01M51.3 24.1h.01M58 33.6h.01M61.5 46.8h.01M62.6 31h.01M55.8 26.8h.01M67.7 43.1h.01M67 40.1h.01M57.1 34.6h.01M61.3 41.5h.01M62.1 39.5h.01M54.7 31.5h.01M70.2 39.6h.01M58.2 42.5h.01M55.6 42.8h.01M66 41.3h.01M53.6 27.5h.01M53.6 40h.01M68.1 43.2h.01M67.5 41.6h.01M52.1 31.5h.01M57 43.3h.01M61.9 31.5h.01M64.6 37.1h.01M61.5 31h.01M63.1 44.9h.01M70.5 45.7h.01M71 38.3h.01M67 40.8h.01M64.2 36.4h.01M65.1 33.2h.01M67.3 43.6h.01M63.3 41.6h.01M63.2 37.8h.01M63.1 31.4h.01M58.8 30.6h.01M66.4 39.9h.01M61.6 42.6h.01M60.4 37.5h.01M54.5 41.4h.01M60.4 27.5h.01M60.1 32.6h.01M53.3 34.8h.01M64.4 38.9h.01M56.6 38.2h.01M62.9 35.9h.01M67 28.4h.01M61.5 37.2h.01M52.5 30.4h.01M63.9 47.4h.01M61.8 36.8h.01M60.2 40.9h.01M64.8 37.8h.01M49.7 37.7h.01M70.8 40.8h.01M60.4 38.6h.01M59.9 36.6h.01M69.3 39.3h.01M62.1 30.2h.01M54.6 45.3h.01M59.7 50h.01M62.9 32.6h.01M60.1 40.7h.01M52.5 32.9h.01M64.7 36.7h.01M60.7 39.2h.01M57.3 28h.01M61.6 48h.01M64.5 49.2h.01M53.9 28.2h.01M62.8 39h.01M63.6 32.7h.01M52.5 40.3h.01M58 41.7h.01M57.2 39.7h.01M60.2 36.2h.01M57.9 40.8h.01M59.4 35.3h.01M65.8 35.8h.01M58.8 33.6h.01M68.3 39h.01M66.2 47.9h.01M52.4 42.2h.01M59.2 36h.01M65.6 43.7h.01M51.5 28.9h.01M59 36.9h.01M62.4 28.3h.01M60.6 33.4h.01M52.2 34.7h.01M53.7 39.2h.01M66.7 42.1h.01M60.2 31.5h.01M54.3 39.3h.01M62.7 43.8h.01M62 39.8h.01M66.7 38.7h.01M63.4 34.6h.01M69 28.7h.01M55.8 36.7h.01M51.1 39.9h.01M55.8 30.7h.01M57.6 22.5h.01M53.6 37.4h.01M56.1 41.1h.01M67.6 24.6h.01M76.8 30.7h.01M77.2 31.2h.01M71.7 28.9h.01M70.6 31.6h.01M73.8 30.7h.01M68.7 27.6h.01M71.4 32.9h.01M68.6 32.8h.01M68.9 31.1h.01M74.3 30.3h.01M70.4 32.6h.01M75 34.2h.01M72.5 33.1h.01M72.3 31.3h.01M73.3 30.7h.01M62.5 33.3h.01M71 34.9h.01M73.7 32.6h.01M78 29.1h.01M75.3 34.8h.01M83.5 31.1h.01M77.2 28.4h.01M73.2 33.2h.01M66.9 34h.01M71.2 33.3h.01M71.8 34.1h.01M72.4 31.1h.01M73.5 30.3h.01M65.9 30.8h.01M74.6 32.2h.01M71 32.1h.01M68.2 28.4h.01M66.8 33.6h.01M73.3 32.8h.01M70.1 33h.01M62.5 33.9h.01M72.9 33.8h.01M71 30.9h.01M64.1 30.2h.01M75.8 35.1h.01M70 28.8h.01M74 32.3h.01M68.1 37.9h.01M69.5 31.5h.01M74.5 34.7h.01M74.8 30.8h.01M69 32.2h.01M59.8 30.7h.01M73.5 33.5h.01M70.7 30.8h.01M78.5 32.4h.01M67.2 31.1h.01M74.1 31.9h.01M65.9 34.2h.01M74.2 35.1h.01M71.1 34.6h.01M72.2 29h.01M72.4 34.5h.01M71.2 32h.01M78.2 28.6h.01M76.7 29.6h.01M72.7 34.5h.01M67.1 29.2h.01M68.3 31.8h.01M75.8 28.1h.01M72.2 32.1h.01M68.8 32.2h.01M68.4 29.9h.01M77.7 29.9h.01M72.4 31.4h.01M68.1 32.2h.01M78.5 30.6h.01M74.4 34.5h.01M66.1 33.6h.01M66.8 33.6h.01M73.8 33.2h.01M68.7 32.3h.01M70 32h.01M79.3 28.5h.01M79.9 28.1h.01M79.2 28.1h.01M74.2 31.8h.01M71.6 25.8h.01M67 32.1h.01M67.2 33.7h.01M73.2 34.3h.01M73.7 35.4h.01M75.1 27h.01M75.2 29.3h.01M74.1 31.1h.01M73.6 26.8h.01M72.7 29.8h.01M77.8 30.7h.01M67.3 32.5h.01M79.3 25h.01M75.2 33h.01M65.8 31.1h.01M73.3 31.6h.01M78.4 25.7h.01M69.5 32.3h.01M75 33.4h.01M72.5 34.3h.01M79 32.4h.01M73.5 32.8h.01M68.9 30.3h.01M73.2 27.9h.01M75.1 34.8h.01M71.8 28.6h.01M69.2 30.2h.01M66.7 35.3h.01M72.1 32.1h.01M66.1 36.9h.01M68.2 31.8h.01M73.2 34.4h.01M78.6 37.8h.01M75.5 29.4h.01M64.7 33.8h.01M75.9 29.4h.01M63.2 33.8h.01M72.8 30.5h.01M73.1 33.6h.01M76.5 33.2h.01M73.1 32.3h.01M77.2 32.8h.01M69 30.2h.01M72 33.1h.01M75.5 29.5h.01M70.6 35.2h.01M70.1 33.5h.01M71.2 27.1h.01M65.6 33.7h.01M70.3 29h.01M67.6 32.4h.01M79.1 32.8h.01M78.9 35.6h.01M75.5 32.3h.01M81.8 30.7h.01M73.4 33h.01M70.5 31.8h.01M72.4 26.9h.01M74.1 33.7h.01M71.2 32.9h.01M73.7 31.6h.01M67.3 34.1h.01M68.4 34.3h.01M73.5 32h.01M67.7 35.9h.01M76.9 30.6h.01M74.8 34.3h.01M69.4 31.9h.01M76.7 29.8h.01M72.5 29.1h.01M78.7 28.1h.01M69.7 26h.01M69.1 29.5h.01M73.9 30.8h.01M68.4 35.4h.01M76 28.6h.01M73.6 30.7h.01" fill="none" stroke="#333" stroke-width="0.6" stroke-linecap="square" opacity="0.4"/>
<ellipse cx="58" cy="37.9" rx="7.4" ry="2.3" fill="#e8e8e8" opacity="0.85" filter="url(#b2)" transform="rotate(-40 58 37.9)"/><ellipse cx="54" cy="41" rx="1.8" ry="2.1" fill="#fff" filter="url(#b1)" opacity="0.6"/>
<use href="#gates3"/>
</g>
<rect x="136.2" y="11.2" width="68.1" height="60.1" fill="#fff" stroke="#9a9a9a" stroke-width="0.6"/>
<line x1="135.7" y1="13.2" x2="135.7" y2="71.3" stroke="#555" stroke-width="1.1" stroke-dasharray="0.5 1"/>
<line x1="136.2" y1="71.5" x2="204.3" y2="71.5" stroke="#333" stroke-width="1.1" stroke-dasharray="0.9 0.9" opacity="0.35"/>
<line x1="133.8" y1="17.6" x2="136.2" y2="17.6" stroke="#111" stroke-width="0.9"/>
<text x="133.8" y="18.2" font-size="3" text-anchor="end" fill="#111">10<tspan font-size="2.2" dy="-1">4</tspan></text>
<line x1="133.8" y1="32.4" x2="136.2" y2="32.4" stroke="#111" stroke-width="0.9"/>
<text x="133.8" y="33" font-size="3" text-anchor="end" fill="#111">10<tspan font-size="2.2" dy="-1">3</tspan></text>
<line x1="133.8" y1="47.2" x2="136.2" y2="47.2" stroke="#111" stroke-width="0.9"/>
<text x="133.8" y="47.8" font-size="3" text-anchor="end" fill="#111">10<tspan font-size="2.2" dy="-1">2</tspan></text>
<line x1="133.8" y1="62" x2="136.2" y2="62" stroke="#111" stroke-width="0.9"/>
<text x="133.8" y="62.6" font-size="3" text-anchor="end" fill="#111">10<tspan font-size="2.2" dy="-1">1</tspan></text>
<g transform="translate(0 0)">
<path d="M164.9 28h.01M165.7 27.9h.01M153.4 26.8h.01M162.5 31.9h.01M179.8 23.4h.01M172.2 17.7h.01M161.7 22.8h.01M172.4 29.4h.01M164.7 40.1h.01M170 24h.01M167 35.3h.01M160.8 43.4h.01M166.5 25.8h.01M158.5 31.9h.01M165.6 33.4h.01M168.2 40.4h.01M162.5 30.9h.01M169.1 22.3h.01M167.6 23.3h.01M166.3 20.3h.01M163 26.3h.01M160.8 33h.01M167 32.6h.01M167 23.7h.01M172.4 32.3h.01M167.9 27.2h.01M164.1 38.1h.01M163.2 27h.01M158 24.5h.01M180.5 37.7h.01M170.5 38.5h.01M166.4 28.4h.01M155.7 33.6h.01M165.3 42.7h.01M167.4 21.1h.01M165.9 46.4h.01M157.2 21.1h.01M163.8 36.7h.01M176.9 35.9h.01M172.4 34.5h.01M168.7 22.1h.01M170 34.6h.01M183.1 16.9h.01M169.6 28.1h.01M162.5 27.9h.01M155.3 28.7h.01M166.9 19.1h.01M166 22.3h.01M163.1 42.3h.01M165.5 30.1h.01M163.6 22.8h.01M151.5 30.3h.01M158.1 28h.01M157.8 40.8h.01M173.8 23.6h.01M164.5 37.3h.01M158.7 16.7h.01M169.9 27.2h.01M154.3 32h.01M162.7 26.3h.01M169.1 36h.01M159.4 29.5h.01M159.2 23.5h.01M154.5 24.3h.01M160.1 38.7h.01M170.6 28.1h.01M167.8 25.5h.01M171.9 15.5h.01M161.6 16.8h.01M181.9 20.6h.01M154.5 33h.01M159 37.3h.01M150.9 22.8h.01M168.4 44.5h.01M167.1 29.8h.01M179.3 29.3h.01M162.3 30h.01M162.7 21.7h.01M165.6 33.5h.01M160.5 15.4h.01M168.8 17.4h.01M158.6 34.5h.01M167.4 39.7h.01M166.5 26.5h.01M154.2 26.2h.01M169.4 27.7h.01M172.8 24.3h.01M166 19.3h.01M170.5 19.5h.01M169.5 38.8h.01M163.8 23.7h.01M169.9 34.3h.01M177.4 16.1h.01M158.5 32.8h.01M168 38.2h.01M162.8 25.9h.01M165.3 36.6h.01M163 30.8h.01M163 47.7h.01M166.3 26.7h.01M161.9 26.6h.01M167.6 20.1h.01M151.9 27.5h.01M171.1 34.2h.01M161.6 22.4h.01M161.2 39.1h.01M172.7 24h.01M170.7 30.2h.01M169.8 39.2h.01M169.6 23.9h.01M167.2 29.8h.01M159.3 26.4h.01M169.5 22.4h.01M168.4 32.9h.01M164.5 20.2h.01M164.3 27.4h.01M160.9 30.7h.01M174.7 21.6h.01M160.9 17.9h.01M169.2 41.1h.01M162.7 33.1h.01M158.2 33.1h.01M164 29.5h.01M156.4 37.5h.01M163.6 30.9h.01M165.4 18h.01M160 28.4h.01M163.3 36.3h.01M166.4 15.3h.01M165.5 23.6h.01M158 28.9h.01M166.4 28.4h.01M160.9 23.4h.01M159.8 29.9h.01M164 31.2h.01M162.9 43h.01M170.8 21.9h.01M166.7 28h.01M162.5 19.8h.01M179.4 37.1h.01M173.6 31.4h.01M151.9 32.9h.01M156 32h.01M158.8 42.5h.01M173.1 25.6h.01M158.2 30.4h.01M165.2 32.6h.01M163.7 19.7h.01M173.3 15.8h.01M163 34.8h.01M168.6 29.2h.01M164.6 34.6h.01M174.3 28h.01M169.1 26.6h.01M170.7 26.5h.01M163.9 30h.01M165 25.5h.01M172.6 25.1h.01M178.2 38.3h.01M165.2 36.6h.01M169.1 28.1h.01M159.4 41.2h.01M175.9 24.4h.01M158.7 35.7h.01M168.9 37h.01M168.9 26.4h.01M161 41.6h.01M158.4 19.6h.01M165.2 28.1h.01M172.4 24.1h.01M156.9 39.8h.01M163.2 31.2h.01M164.7 27.3h.01M158.2 22.7h.01M162.3 37h.01M165.7 22.3h.01M161.1 22.3h.01M170.7 31.5h.01M173.3 24.6h.01M173.7 30.2h.01M165.1 29.4h.01M162.7 24.4h.01M170.7 16.6h.01M162.4 29.2h.01M165.6 25.7h.01M164.3 32.4h.01M170.8 29.6h.01M162.5 27.6h.01M150.7 25.4h.01M169.7 34.9h.01M171.4 31.6h.01M165.5 27h.01M157.6 21.7h.01M168.3 24h.01M162.8 34.3h.01M157.7 31.3h.01M173 29.1h.01M169.5 22.5h.01M166.2 32.6h.01M162.6 31.9h.01M169.1 17.2h.01M170.1 16h.01M170.4 20h.01M173.4 33h.01M161.7 37h.01M176.5 29.9h.01M183.6 26.4h.01M166.9 22.2h.01M169.1 39.8h.01M169.5 27.8h.01M174.4 21.3h.01M157.6 28.1h.01M173.3 32.4h.01M162.6 24.6h.01M166.4 24.3h.01M168.9 15.9h.01M170.3 32h.01M164.9 22.1h.01M169.2 32.8h.01M173.7 28.9h.01M167.8 29.5h.01M174.6 22.7h.01M164.5 31.4h.01M153.2 18.8h.01M165.2 29.1h.01M165.7 39.9h.01M165.6 45.5h.01M155.6 19.5h.01M157 31.8h.01M162.9 28.3h.01M165.9 25.2h.01M164.3 34.2h.01M173.7 17.7h.01M169.2 32.6h.01M167.6 21h.01M164.2 38.6h.01M155.8 30.3h.01M168.2 47.5h.01M163.9 37.8h.01M168.2 29.6h.01M178.1 17.7h.01M179.2 29.7h.01M162.1 25.5h.01M162 35.7h.01M159.2 21.2h.01M166.8 28.7h.01M152.2 22.6h.01M167.5 31.1h.01M168.7 30.8h.01M170.8 16.6h.01M168.1 28.1h.01M170.9 36.5h.01M170.4 31.1h.01M166.3 37.9h.01M167.8 21.6h.01M164.6 21.8h.01M175.5 18.7h.01M158.3 41h.01M173.3 29.1h.01M171.1 35.1h.01M155.8 40.2h.01M155.3 29.9h.01M163.3 33.6h.01M170.6 34.6h.01M164.6 19.3h.01M157 31.7h.01M169.1 32.5h.01M171 28.9h.01M164.1 17.7h.01M164.2 37.2h.01M156.8 20h.01M171.1 31.9h.01M176.8 16.5h.01M166.4 20.9h.01M156.7 34.4h.01M156.9 19.8h.01M165.4 15.5h.01M157.3 26.9h.01M162.1 26.4h.01M158 18.8h.01M166.7 30.6h.01M158 32.4h.01M172 29.6h.01M175.9 41.1h.01M175.6 23.3h.01M155.7 38.1h.01M174 26.9h.01M168.6 16.9h.01M170 17.3h.01M169.3 15.2h.01M169 30.3h.01M165.6 24.8h.01M161.9 28.3h.01M173.1 25.6h.01M165.3 34.4h.01M163.7 18.1h.01M171.7 20.1h.01M169.1 35.9h.01M165.2 35.6h.01M165.9 26.8h.01M153.5 19.3h.01M158.5 21.4h.01M163.4 33.2h.01M167.7 41.3h.01M168.4 22.1h.01M157.8 25.9h.01M162.6 19.7h.01M167.2 35.8h.01M171.5 28h.01M160.9 30.8h.01M160.1 22.1h.01M157.3 36.9h.01M165.3 31.5h.01M167.7 35.2h.01M172.2 25.1h.01M164.2 22.4h.01M171.9 30.3h.01M166.3 29.6h.01M167.3 37.1h.01M157.7 36.8h.01M177.1 17.4h.01M173.7 37.1h.01M170.2 24.2h.01M163.8 24h.01M161.9 32.9h.01M170.7 28.5h.01M162 27.8h.01M160.6 31.1h.01M160.6 25h.01M160.5 26.6h.01M161.3 24h.01M175.3 30h.01M166.3 23.2h.01M173.1 39.2h.01M168.6 31.1h.01M164.9 27h.01M163.4 35.4h.01M158.9 30.3h.01M167.7 34.3h.01M169 65.6h.01M160.5 46.5h.01M171.7 51.2h.01M170.9 62.2h.01M164.7 49.2h.01M160.6 69.8h.01M171.2 51.1h.01M165.2 56.6h.01M166.2 58.8h.01M170.5 44.9h.01M171.2 42.9h.01M170.2 61.1h.01M160.3 58.8h.01M171.4 46.9h.01M163.5 44.7h.01M165.8 39.7h.01M167.3 37.3h.01M160.3 58.1h.01M171.6 53.5h.01M165.6 49h.01M161.5 37.6h.01M163.6 42.6h.01M160.7 51.6h.01M161.2 38.9h.01M168.2 50.6h.01M168.8 44.9h.01M172.4 27.5h.01M177 54.5h.01M170.4 43.3h.01M155.6 31h.01M169.8 47.3h.01M167.9 36.5h.01M169.6 57.3h.01M170.7 45.9h.01M167.5 48.4h.01M170.9 58.9h.01M169.9 34.1h.01M176.4 50.8h.01M163.7 58.2h.01M162.1 54.4h.01M165.7 40.7h.01M178.2 53.1h.01M157.4 65h.01M165.6 41.5h.01M161.4 44.8h.01M166.1 55.5h.01M168.4 49.7h.01M162.3 47.9h.01M172.2 65.2h.01M175.9 43.7h.01M164.5 57.8h.01M170.6 38.6h.01M162.4 24.1h.01M161.7 49.3h.01M170.1 56.5h.01M170.1 45.8h.01M161.6 64.8h.01M169.5 50.2h.01M173.1 55.3h.01M164 52.5h.01M159.4 40.6h.01M168 61h.01M171.4 62.6h.01M166.5 62.2h.01M169.3 60.9h.01M164.1 61.7h.01M167.8 58.1h.01M165.4 61.4h.01M167.4 52.9h.01M169.9 43.7h.01M166.3 54.5h.01M166 58.7h.01M159.5 43.4h.01M157.9 49.8h.01M163.9 60.3h.01M166.4 46.8h.01M166.6 55.7h.01M165 61.9h.01M164.4 58.3h.01M163.6 60.4h.01M166 52.2h.01M169.7 44h.01M165.1 38.5h.01M159 36.7h.01M162.5 42.8h.01M162.4 33.3h.01M166.9 47.4h.01M171 41.2h.01M153.9 44.1h.01M163 42.7h.01M163.2 56.9h.01M176.5 44.2h.01M163.2 42.9h.01M168.8 64.5h.01M173.4 47.1h.01M164.2 62.9h.01M165.7 46.2h.01M166.2 48.3h.01M167.4 52.2h.01M162.7 37.5h.01M167 63.7h.01M163.9 65.5h.01M163.1 46.1h.01M173.2 60h.01M159.6 52.3h.01M170.8 45.8h.01M165.5 64.7h.01M166.1 40.9h.01M163.4 49.6h.01M167 58.9h.01M169.1 48h.01M161.5 54.2h.01M169 38.4h.01M156.8 48.2h.01M162.5 51h.01M160.3 38.6h.01M165 42.5h.01M169.2 44.3h.01M162.9 47.6h.01M167.6 51.8h.01M165.5 47h.01M172.1 35.3h.01M157.9 50.4h.01M158.3 61.7h.01M165 50.1h.01M157.2 46.5h.01M166.8 49.8h.01M167 55.4h.01M161.9 37.7h.01M162.4 64.2h.01M167.3 47.3h.01M168 67.1h.01M165 43.9h.01M168.9 41.1h.01M163.1 51.8h.01M167.3 58.9h.01M171.2 54.4h.01M170.8 51.9h.01M161.7 52.8h.01M162.5 52h.01M162.5 60h.01M167.1 49.7h.01M168.2 56.3h.01M160.6 45.2h.01M160.6 48.7h.01M167 43.4h.01M155.4 47.6h.01M170.4 45.5h.01M165.9 36.7h.01M162.3 59h.01M170.6 53.6h.01M166 55.2h.01M176.3 31.9h.01M166.1 53.9h.01M166.6 51.4h.01M167.7 60.1h.01M165.7 45h.01M168.8 45.8h.01M164 40.5h.01M170.2 56.4h.01M167.1 67.1h.01M166.9 43.4h.01M170.9 51.6h.01M161 52.5h.01M166.3 44.3h.01M169.3 32.6h.01M170.7 58.2h.01M165.2 35.1h.01M163.5 59.9h.01M170.3 38.4h.01M158.1 58.7h.01M171.3 61.8h.01M158.2 45.6h.01M161.6 39.7h.01M170.6 48.6h.01M166 49.8h.01M162.2 39.4h.01M171.9 47.3h.01M167.8 58h.01M163.7 55.4h.01M169 60.5h.01M168 36.7h.01M165.3 42.1h.01M169.8 48.9h.01M168.6 48.6h.01M160 57.6h.01M167.4 38.6h.01M167.7 63.9h.01M168.6 59.7h.01M162.3 56.5h.01M170.8 47h.01M159.5 35.9h.01M164.2 37.3h.01M165 58.1h.01M166.6 48.3h.01M165.5 66.1h.01M167.3 52.5h.01M168.8 37.6h.01M175.3 60.4h.01M164.7 47.7h.01M169.4 50.7h.01M165.4 56h.01M166.2 37.1h.01M162.9 39.3h.01M164.3 62.6h.01M172.4 37.1h.01M166.1 39.2h.01M167.8 38h.01M160.9 38.4h.01M168.8 45.7h.01M168.8 45h.01M168.2 39.9h.01M171.4 44.3h.01M166.6 52.5h.01M163.8 30.3h.01M168.7 45.6h.01M168.5 47.7h.01M154 33.4h.01M186.2 52.6h.01M175.1 52.6h.01M171.5 25.7h.01M179.2 28.9h.01M176.8 25.1h.01M170.3 59h.01M170.3 18.2h.01M160.1 27.9h.01M177.6 44.2h.01M175.3 53.6h.01M161.8 53.3h.01M180.1 44.4h.01M189.7 47.7h.01M159.3 53.1h.01M193.1 45.4h.01M186.8 37.3h.01M184.7 42.8h.01M171.9 47h.01M192.4 47.6h.01M170.7 42.5h.01M180.4 29.9h.01M167.7 41h.01M159.6 47.7h.01M180.6 27h.01M188.8 31.2h.01M159.3 45.2h.01M173.2 47.9h.01M166.3 37.3h.01M163.1 37.2h.01M169.4 41h.01M184.7 34.8h.01M189.6 34.3h.01M178.9 18.5h.01M175 37.2h.01M181.6 59.6h.01M163.9 31.8h.01M176 33h.01M168.2 45.7h.01M176.6 49h.01M155.1 66.8h.01M179.2 34.5h.01M170.9 45.9h.01M176.1 27.5h.01M176.4 30h.01M189.2 31.8h.01M170.5 39h.01M156.7 45.8h.01M185.4 43.2h.01M183.3 29.9h.01M178.5 35.6h.01M174.6 17.7h.01M176.5 30.7h.01M174.5 52.8h.01M177.6 39.4h.01M179.6 32.6h.01M185.7 43.3h.01M176.1 38.5h.01M180.4 27.2h.01M179.4 58.3h.01M177.5 40.8h.01M176.3 40.7h.01M174.7 41.7h.01M179 24.3h.01M176.2 30.6h.01M178.3 39.1h.01M181.5 29h.01M173.2 32.3h.01M183.4 27.5h.01M176.1 27.4h.01M180.5 42.7h.01M179.8 28.1h.01M177.9 44.7h.01M180 37.7h.01M182.9 18.4h.01M178.7 24.6h.01M182.1 25.6h.01M185 44.4h.01M178.9 29.6h.01M175.7 39.7h.01M177.2 43.3h.01M179.7 34.7h.01M181.7 25.1h.01M172.1 33.2h.01M177.9 39.5h.01M176.5 31.3h.01M184.2 38.9h.01M175.3 25.9h.01M180.5 19.8h.01M178.8 27.6h.01M181.5 34.2h.01M184.3 18.1h.01M177.6 34h.01M174.1 26.5h.01M183.1 18.3h.01M176.2 34.5h.01M179 44.7h.01M180.8 18.9h.01M173.4 53.9h.01M176.5 32.7h.01M179.3 24.2h.01M176.4 34.5h.01M184.6 15.1h.01M174 33.3h.01M181.3 32.2h.01M176 20.7h.01M180.1 27.1h.01M182.3 33.6h.01M180.3 28.1h.01M178.2 22.4h.01M170.9 36.1h.01M179.2 34.7h.01M171.7 30.7h.01M181.8 26.5h.01M174.8 20.2h.01M172.2 29h.01M173.1 44.5h.01M178.5 35.6h.01M175.6 40.9h.01M178.7 17.8h.01M174.1 33.2h.01M180.9 19.8h.01M183.5 35.8h.01M178.6 34.2h.01M175 34.4h.01M173.9 42.4h.01M175.6 27.7h.01M182 42h.01M176.2 32.4h.01M173 25.5h.01M187.2 28.6h.01M183.8 38.1h.01M183.4 26.1h.01M176.1 37.7h.01M181 33.5h.01M175.2 25.5h.01M180.4 31.2h.01M174.5 39.5h.01M178.3 26.6h.01M173.9 38.4h.01M181.3 23.2h.01M177 41.9h.01M178.8 46.4h.01M179.1 33.9h.01M175.4 36.1h.01M176.2 19.6h.01M175.5 45h.01M169.8 25.4h.01M178.9 37.5h.01M181.3 50.5h.01M182 35.4h.01M178.1 34.6h.01M181.1 36.3h.01M175.2 26.5h.01M177.4 26.5h.01M171.7 42.8h.01M176.2 25.3h.01" fill="none" stroke="#444" stroke-width="0.6" stroke-linecap="square" opacity="0.5"/>
<path d="M153.7 17.8L153.8 50Q157 62 162.4 68.6Q165.4 70.4 168 66Q174.6 50 177.4 34L174.8 17.6Q164 14.8 153.7 17.8Z" fill="#909090" filter="url(#rough3)"/>
<path d="M157.8 32.9h.01M159.7 29.6h.01M164.3 22.6h.01M163.9 32.1h.01M165.1 17h.01M161.4 34.1h.01M163.8 19.1h.01M171.8 27.1h.01M170.7 22.5h.01M168.8 21.2h.01M168.4 39.9h.01M156.3 30.5h.01M164.2 40.9h.01M167 28.8h.01M167 32.9h.01M168.7 41.9h.01M158.2 28.5h.01M167.8 25.9h.01M162.4 22h.01M167.1 25.1h.01M174.8 37.4h.01M168.5 33.1h.01M165.2 29.2h.01M160.6 32.5h.01M170.8 36.7h.01M154.5 36.6h.01M161 21.7h.01M164.3 44.6h.01M160.9 29.9h.01M162.3 36h.01M159.6 25.3h.01M176.4 19.3h.01M169.8 23h.01M169.5 38.6h.01M161.5 25.9h.01M169.7 38.8h.01M165.2 34.2h.01M163.4 19h.01M156.7 22.6h.01M165.8 31.7h.01M161 36.3h.01M167.4 34.4h.01M168.4 27.7h.01M170.1 31.6h.01M157.5 37.2h.01M171.1 21.1h.01M176.3 38.8h.01M162.2 28.2h.01M160.1 21.3h.01M161.8 34.6h.01M161.9 21.9h.01M170.1 22.1h.01M161.9 23.3h.01M167.4 34.4h.01M165 38.6h.01M159.8 25.6h.01M165.4 46.6h.01M165.3 28.6h.01M166 34.4h.01M166.8 32.5h.01M163.4 29.6h.01M167.5 19.9h.01M155.4 30.8h.01M162.2 24.6h.01M172.3 22.9h.01M166.9 20.6h.01M163.5 31.9h.01M160.8 25.8h.01M161.6 30.3h.01M164.3 24.6h.01M154.8 18.4h.01M163 20.6h.01M163.9 40.4h.01M153.1 34.8h.01M155.3 32.2h.01M164.3 34.9h.01M163.2 19.7h.01M175.3 37h.01M176.4 15.9h.01M161.2 24h.01M171.7 24.9h.01M173.1 38.3h.01M164.4 36.6h.01M171.5 32.6h.01M164.8 31.4h.01M158.2 27.3h.01M165.9 25h.01M172.4 22.6h.01M169.9 41.2h.01M163 25.6h.01M173.3 22.4h.01M172.8 37.1h.01M172.9 46.9h.01M154.7 18.7h.01M160.6 28.4h.01M161.8 28.1h.01M161.3 20.2h.01M153.5 19.1h.01M162 33.6h.01M171.6 28.2h.01M159.5 35.3h.01M177.3 16.8h.01M159.6 18.8h.01M167.4 21.9h.01M164 27.7h.01M158.4 31.2h.01M166.6 25.6h.01M164.7 22h.01M171.9 42.5h.01M169.6 22.6h.01M156.5 31.9h.01M172.6 24.7h.01M160.2 32h.01M154.6 35.9h.01M171.6 26.7h.01M160.2 40.8h.01M165.5 21.9h.01M161.3 22.6h.01M168.7 30.1h.01M162.5 33.3h.01M166.7 16.5h.01M158.2 37.5h.01M168.4 28.9h.01M165.5 29.9h.01M179.6 31.5h.01M172.8 27.8h.01M162.1 38h.01M158.2 28.3h.01M169.3 32.6h.01M160.4 28.6h.01M169.5 32h.01M171.2 30.6h.01M173.7 19.2h.01M173.7 36.1h.01M172.1 19.9h.01M165.2 34.8h.01M165.1 32h.01M166.4 20.7h.01M174.3 29.8h.01M163.2 26.6h.01M165.4 31.3h.01M170.1 22.3h.01M158.5 38.3h.01M163.2 30.9h.01M165.5 38.4h.01M163 24.8h.01M162.3 23.8h.01M167.5 32.8h.01M160 18.1h.01M168.3 24.4h.01M163.5 41.7h.01M156.4 24.7h.01M159.4 17.8h.01M167.7 37.8h.01M164.1 19.8h.01M161.9 19.5h.01M164.8 31.4h.01M167.2 20.9h.01M159.5 20.5h.01M172.6 31.7h.01M164.9 25.7h.01M167.7 33.3h.01M161.7 35.7h.01M166.1 34.1h.01M170.9 41.4h.01M160.1 30.5h.01M164 40.4h.01M163.2 27h.01M158.7 40.7h.01M174.7 37.1h.01M158.5 38.5h.01M167.9 55.7h.01M161.1 32.6h.01M164.2 35.2h.01M162.4 37.8h.01M161.4 38.2h.01M164.7 35.6h.01M159.9 29.8h.01M166 25h.01M174 18.8h.01M165 30.7h.01M159.9 24.6h.01M169.9 17.8h.01M167.4 42.8h.01M158.5 39.2h.01M160.8 31.7h.01M158 19.8h.01M170.9 29.6h.01M158.5 30.7h.01M158.1 26h.01M165.6 42.2h.01M170 38.3h.01M161.3 20.5h.01M168.7 33.4h.01M157.2 16h.01M168.8 34h.01M165.6 35.9h.01M164.8 41.8h.01M170 43.2h.01M164.7 22.2h.01M165.6 36.2h.01M158.6 21.8h.01M172.4 30.6h.01M162.2 34.5h.01M166.8 28.1h.01M163.8 34.7h.01M163 26.2h.01M168.3 24.3h.01M167.4 23.4h.01M171.9 17.3h.01M161.8 29.9h.01M169.2 25.1h.01M159.4 43h.01M165.3 25.9h.01M155.5 40.2h.01M163.8 33.9h.01M161 32.6h.01M161 39.5h.01M163.8 45.2h.01M171.2 33.8h.01M164.3 44.1h.01M165.2 27.2h.01M167.2 25.7h.01M172.5 39.1h.01M171.1 32.6h.01M167.9 39.6h.01M155.6 22.8h.01M168.5 27.5h.01M161.6 32.4h.01M167.6 30h.01M160.8 37.8h.01M168.2 54.7h.01M162.9 28.7h.01M162.6 42.3h.01M166.3 28.2h.01M157.2 17.7h.01M171.5 17.5h.01M165 22h.01M160 28.5h.01M168.9 35.7h.01M171.1 26.6h.01M160.4 19.3h.01M165.5 40.8h.01M161 40.9h.01M165.3 32.8h.01M169.5 30.6h.01M161.7 26.3h.01M158.6 29h.01M163.8 43.6h.01M160.6 35.5h.01M166.2 32.3h.01M158.2 45.7h.01M162 31.8h.01M169.2 32.9h.01M165.9 26.2h.01M159.3 16.3h.01M163.2 30.8h.01M166.1 26.5h.01M169.2 37.4h.01M159.7 18.1h.01M165.8 18.6h.01M159.9 29.9h.01M156.2 23.3h.01M170.7 25.1h.01M168.4 29.8h.01M168.8 21.1h.01M170 28.4h.01M163.7 45.6h.01M172.4 30.3h.01M169.9 26.7h.01M161.1 31.3h.01M162.7 23.4h.01M156.1 33.3h.01M154 37.5h.01M168.8 24.9h.01M168.3 25.4h.01M160.5 33.7h.01M168.5 15h.01M164.9 40.9h.01M157 23.2h.01M167.9 30.1h.01M168.2 20.3h.01M161 17.7h.01M157.1 20.9h.01M167.2 29.3h.01M171.4 33.2h.01M153.8 29h.01M162.7 21.2h.01M170.5 27h.01M168.5 34.3h.01M171.2 31.8h.01M158 39.1h.01M158.3 21.2h.01M169 29.7h.01M153.7 33h.01M162.3 24.1h.01M156.3 22.3h.01M165.9 16.4h.01M163.8 17.1h.01M173.6 45.1h.01M163.7 24h.01M172.8 30.1h.01M167 30.9h.01M163.3 25.9h.01M157.1 30.8h.01M168.5 33.6h.01M161.9 23.1h.01M175.3 39.8h.01M164.7 30.9h.01M168.3 26h.01M169.1 27.4h.01M161.7 43.1h.01M166.3 24.8h.01M168 33.3h.01M164.9 24.7h.01M173.6 21.1h.01M170.9 29.2h.01M170.5 33.2h.01M172.7 46.2h.01M157.5 21.9h.01M170.8 20.1h.01M157.5 18h.01M169.7 34.7h.01M173.4 34.1h.01M171.1 45h.01M169 37.6h.01M163.3 28.3h.01M176.5 35.2h.01M169 41.7h.01M163.5 16.1h.01M165.2 32.5h.01M156.2 34h.01M171.2 26.1h.01M163.9 19.3h.01M157.1 32.5h.01M161.7 41.6h.01M175.3 37.3h.01M174.5 40.4h.01M169.2 26.1h.01M174.6 24h.01M171.1 38.5h.01M163 24.6h.01M161.7 30.7h.01M169.5 35.1h.01M172.1 20.4h.01M165.7 40.1h.01M160 28.7h.01M155.3 36.9h.01M161.9 33.8h.01M165.9 15.9h.01M167.2 32h.01M166.5 24.8h.01M169.1 27.6h.01M163.4 25h.01M159.4 29.6h.01M177.1 32.5h.01M177.7 23h.01M158.9 35.5h.01M159.9 46.4h.01M158.5 28.5h.01M166 42.5h.01M165.4 28.8h.01M160.9 26.4h.01M166.4 22.3h.01M167 40.7h.01M168.2 28.6h.01M165.3 23h.01M163 38.8h.01M165.9 27.4h.01M154.3 32.2h.01M155.3 22.8h.01M166.9 26.8h.01M168 34.9h.01M165.3 34.4h.01M164.1 31.7h.01M176.3 25.1h.01M173.5 41.2h.01M172.3 28h.01M166.2 27.8h.01M170.8 17.4h.01M164.7 37h.01M170.4 37.7h.01M155.5 40.2h.01M168.8 24h.01M156.5 41.1h.01M165.6 33.3h.01M173.6 31.3h.01M164.8 25.6h.01M162.1 34.8h.01M168.9 21.5h.01M170 18.7h.01M167.6 27h.01M163.7 50.6h.01M168.8 26.1h.01M159.5 24.5h.01M165.9 22h.01M162.1 16.3h.01M170.3 22.1h.01M160.9 35.7h.01M173.1 17.9h.01M174.8 24.1h.01M165.9 25.8h.01M158.5 34.4h.01M168.2 28.8h.01M163.5 26.3h.01M166.2 46.6h.01M168.6 43.1h.01M168.5 34.9h.01M167.4 22.2h.01M156 29.9h.01M167.6 22.2h.01M160.1 33.2h.01M162 26.4h.01M156.2 16.8h.01M166.9 28.1h.01M169.2 28.1h.01M169.6 34.4h.01M164.1 37.3h.01M162.1 34.4h.01M172 40.6h.01M161.7 34.1h.01M174.8 30.1h.01M169.9 38.3h.01M163.4 32.9h.01M173.5 16.2h.01M172.5 36.2h.01M154.7 35h.01M166.2 21.5h.01M163.9 37.3h.01M164.4 19.5h.01M175.7 47.2h.01M178.2 33.1h.01M171.5 24h.01M165.8 26.8h.01M161.6 35.5h.01M168.8 35.9h.01M169.7 37.4h.01M164.8 40.5h.01M163.5 20.9h.01M170.4 28.2h.01M166.6 27.3h.01M177 30.4h.01M169.6 39.6h.01M167.9 34.3h.01M179.4 36.9h.01M164.8 34h.01M162.8 23.8h.01M167.5 22.1h.01M164.6 24.2h.01M173.9 16.2h.01M171.2 22.4h.01M168.5 26.8h.01M166 30.7h.01M152.8 24.2h.01M159.2 45.2h.01M163.1 24.4h.01M160 31.4h.01M170.1 31.6h.01M175.6 16.8h.01M162.5 32.3h.01M166.6 24.8h.01M175.5 23.7h.01M164.7 25.1h.01M161.1 33.7h.01M168.2 41h.01M158.3 31.6h.01M159.6 35.9h.01M167.4 24.9h.01M159.1 22.1h.01M165.1 30.8h.01M164.5 21.2h.01M159.1 31.3h.01M168.8 38.6h.01M177.2 40.9h.01M168.9 42h.01M161.6 20.9h.01M163.2 35.5h.01M169.1 32h.01M163.9 28.2h.01M162.7 21.7h.01M161.5 31.6h.01M166.1 41h.01M166.8 31.3h.01M164.3 29.3h.01M169 43.4h.01M170.2 29.2h.01M173.8 30.9h.01M167.5 44.7h.01M168 46.9h.01M168.4 31.3h.01M163.7 29.5h.01M170.5 26.4h.01M155.6 24.2h.01M169.1 26.7h.01M162.7 37.8h.01M167 44h.01M173.4 23.9h.01M172.5 29.2h.01M176.3 33.4h.01M170.8 24.4h.01M164.6 20.1h.01M173 15.8h.01M162.2 31.3h.01M168.7 32.8h.01M162 30.4h.01M163.6 35.9h.01M157.9 27.8h.01M166.3 28h.01M163 43.6h.01M175.7 20.9h.01M161 37h.01M172.1 43.1h.01M164.3 31.7h.01M164.3 35h.01M166.9 31.2h.01M163.4 35.1h.01M160.7 18.1h.01M163.9 28.8h.01M166.3 15.6h.01M172 33.8h.01M169.7 31.5h.01M168.9 38.4h.01M164 24.1h.01M166.7 19.1h.01M172.8 32.1h.01M173.8 26.8h.01M160.7 26.6h.01M153.1 21.6h.01M171.8 23.2h.01M167 35.4h.01M168.1 28.7h.01M160.2 31.2h.01M168.1 45.6h.01M168.7 39.5h.01M174.1 30.5h.01M179.4 39.1h.01M167.4 23.6h.01M167.3 22.4h.01M166.3 31.2h.01M167.3 33h.01M153.1 31.2h.01M163.6 45.4h.01M163.6 18.9h.01M175.7 36.8h.01M170.7 33.8h.01M162.2 36.2h.01M162.9 25.8h.01M161.8 22.7h.01M158.6 27.8h.01M169.1 28.5h.01M171 18.5h.01M163.7 34.7h.01M154.6 22.5h.01M165.8 17h.01M170.6 32.6h.01M164.1 29.4h.01M158.8 18.6h.01M164.4 25.2h.01M178.5 23.9h.01M167.5 22.3h.01M169.4 19.3h.01M161.5 28.7h.01M166.9 33.3h.01M160 24.6h.01M168.5 36.5h.01M156 31.6h.01M156.7 40.7h.01M176.7 32.1h.01M163.5 25.1h.01M170.7 31.8h.01M162.6 30.6h.01M170.9 18.8h.01M159.6 22.5h.01M159.2 34.2h.01M172.4 23.4h.01M169.1 35.7h.01M153.3 18h.01M160.7 30.7h.01M166 26h.01M174.9 20.8h.01M166.7 24.8h.01M166 23.9h.01M158.3 45.2h.01M173.1 35.8h.01M171 26.6h.01M169.7 57.9h.01M165.6 57.5h.01M165 59.9h.01M167.7 58.7h.01M166.2 52.6h.01M165.1 47.9h.01M163.7 65.5h.01M164.7 60.9h.01M164.1 43h.01M162.8 48.7h.01M164 61h.01M163.7 59.2h.01M162.5 52.4h.01M163.2 53.2h.01M167.5 53.4h.01M167.9 57.8h.01M165.8 52.6h.01M163.4 53.6h.01M164.2 46.7h.01M165.6 63.2h.01M167.8 48.3h.01M163.8 52.8h.01M162.5 54.5h.01M163.1 52.2h.01M165.1 45.4h.01M166.4 49h.01M168.8 51.9h.01M160.7 38.6h.01M163.8 55.9h.01M162.2 49.1h.01M164 49h.01M161.2 55.3h.01M164.5 49.9h.01M167.6 45.8h.01M169.6 53.5h.01M163.8 49.9h.01M165.1 50.1h.01M168.6 59.4h.01M167.5 55.7h.01M166.9 57.5h.01M166.9 63.3h.01M165 57.8h.01M163.1 60h.01M164.6 54h.01M167.4 59.9h.01M165.5 65h.01M167.3 50.8h.01M167.2 56.3h.01M166.2 46.6h.01M166.8 52.5h.01M161.8 53.7h.01M164.1 58.3h.01M166.7 51.4h.01M164.4 64.8h.01M162.7 65.4h.01M165.3 60.3h.01M168 48h.01M166.8 41.1h.01M165 51.1h.01M166.8 48.1h.01M164.5 47.7h.01M168.8 50.7h.01M163.6 58.3h.01M168.7 63.2h.01M165.6 52.3h.01M165.9 60.7h.01M163.8 54.2h.01M164.8 55.5h.01M166.9 64.7h.01M165.4 54.6h.01M164.8 57.1h.01M170.3 55.9h.01M163.2 48.1h.01M164.2 60.9h.01M160.9 54.8h.01M166 61.7h.01M166.3 64.7h.01M163.4 56.7h.01M162.5 56.4h.01M166.8 52.8h.01M163.5 45.7h.01M170 51.5h.01M169.1 59.4h.01M166.6 60.5h.01M165 48.3h.01M167 66.6h.01M161.6 42.8h.01M167.5 47.2h.01M169.4 56h.01M161.6 46.9h.01M164.7 52.1h.01M167.5 58.4h.01M165.6 47.3h.01M164.7 45.6h.01M169.1 59.4h.01M166.3 65.8h.01M167.9 54.3h.01M164.5 63.2h.01M165.8 42.4h.01M162.5 49.1h.01M161.5 62.7h.01M163.2 59.1h.01M166.5 54.1h.01M168.1 46.5h.01M162.6 41.9h.01M168.4 60.7h.01M163.8 61.1h.01M162.2 55.3h.01M166.2 58.5h.01M166.5 54h.01M164.1 50.9h.01M165.8 49.7h.01M166.6 50h.01M166.8 48.6h.01M164.6 64.1h.01M163.9 57.3h.01M173 54.8h.01M167 64.6h.01M163.2 59h.01M166.5 55.5h.01M167.1 56.3h.01M167.3 58.7h.01M161.7 49.7h.01M164.8 55.9h.01M166.8 47.4h.01M167.8 50.3h.01M168.8 53.7h.01M166 50.2h.01M163.4 57.4h.01M170.8 57.3h.01M163 68.7h.01M165.7 55.8h.01M168.5 58.4h.01M165.4 50.7h.01M169.2 54.6h.01M167.1 55.4h.01M167.6 62.3h.01M169 56.4h.01M166.4 53.6h.01M162.1 49.8h.01M168.2 55.5h.01M167.4 61.4h.01M166.3 45.4h.01M166.5 63.9h.01M164.4 55.2h.01M163.7 46.4h.01M167.4 53h.01M163.6 61.5h.01M167.7 61.9h.01M164.7 48.8h.01M164.5 52.9h.01M163.1 65.5h.01M164.4 60.4h.01M166 67.8h.01M165.9 62.5h.01M166.2 52.9h.01M167.3 56.8h.01M164.7 50.4h.01M165.8 57h.01M164.2 62.6h.01M168 59.6h.01M168.4 51.4h.01M167.2 45.8h.01M170 55.8h.01M164.4 38h.01M164 53.9h.01M165.6 65.1h.01M171.7 54.7h.01M167.3 41.8h.01M167.1 53.8h.01M165.9 50.3h.01M168.5 60.5h.01M167.1 42.3h.01M169.1 55.4h.01M167.9 49.7h.01M169.8 61.9h.01M161.6 57.5h.01M165.1 48.6h.01M166 60.3h.01M162.4 52.5h.01M164.5 62.8h.01M168.5 58.4h.01M167.4 60.7h.01M169 52.8h.01M163.6 52.1h.01M169.2 51.3h.01M164.6 55.7h.01M168 39h.01M164.9 65.9h.01M168.7 55.2h.01M166.7 55.1h.01M165.1 43.8h.01M165.3 45.7h.01M166.6 46.4h.01M170.6 59.3h.01M164.1 48.6h.01M168.6 48.4h.01M166.9 59.7h.01M167.1 48.6h.01M167.9 41h.01M168.4 34.7h.01M165.7 53.8h.01M165.3 66.6h.01M164.4 58.9h.01M168.1 58.1h.01M169.2 46.4h.01M169 66.2h.01M167.1 49.9h.01M166.3 62.9h.01M167.3 59.3h.01M165.2 43.7h.01M164.4 55.7h.01M164.2 49.7h.01M162.9 53.9h.01M166.7 61.2h.01M165.9 67.2h.01M169.4 62.5h.01M165.5 53.7h.01M172.7 57.9h.01M166.9 49.5h.01M165.1 56.9h.01M168 52.8h.01M165.2 61.5h.01M169 61.3h.01M164 56.9h.01M162.9 54.9h.01M172 52.4h.01M167.6 64.1h.01M167.1 60.4h.01M164.7 62.1h.01M164.5 51.4h.01M165.2 59.1h.01M166.8 55.3h.01M166.7 60.8h.01M169.1 60.7h.01M167.6 58.8h.01M168.7 41.6h.01M162.8 51h.01M165.3 42h.01M164.6 50.3h.01M165.8 61.9h.01M161.3 67.2h.01M168.1 53.8h.01M164.6 40h.01M159.2 63.8h.01M167.3 61.6h.01M163.5 52.4h.01M168.5 39.1h.01M161.3 62.7h.01M164.5 53.4h.01M162.2 55.6h.01M167.1 39.5h.01M162.8 48.3h.01M162.7 65.1h.01M163.9 47h.01M163.7 58.8h.01M168.5 53.1h.01M164.6 55h.01M164.7 58.9h.01M165.9 48.1h.01M166 55.2h.01M166 54.7h.01M164.6 48.4h.01M164.7 56.4h.01M164.6 51.9h.01M165.7 44.9h.01M165.5 65.9h.01M168.9 60.6h.01M162.7 52.3h.01M162.6 57.7h.01M165.7 42.9h.01M166.2 53.2h.01M168.1 55.7h.01M167 57.1h.01M166.7 45.5h.01M170.6 53h.01M168.3 56.4h.01M163.8 46.3h.01M166.8 68.6h.01M163.6 50.3h.01M166.1 40.4h.01M164.5 51.3h.01M164.5 63.8h.01M163.5 42.3h.01M165.8 67.6h.01M166.7 60.6h.01M166.9 55.2h.01M166.1 56.5h.01M165.5 65h.01M166.5 46.2h.01M168.6 51.7h.01M163.5 50.2h.01M162 58.6h.01M165.2 49.8h.01M164.9 50.4h.01M168.3 51.7h.01M168.5 56.2h.01M169.2 60h.01M162.3 48.2h.01M168 53.7h.01M169.5 54h.01M167.6 58.5h.01M169.7 65.3h.01M168.4 49.7h.01M165.8 47.7h.01M169.1 51.6h.01M167 53.9h.01M162.4 61.2h.01M167.6 53.5h.01M163.4 60h.01M165.3 55.6h.01M160.9 66.3h.01M164.3 56.4h.01M167.6 66.3h.01M165.1 62.3h.01M161.3 44.1h.01M163 54.2h.01M169.1 50h.01M165.1 49.4h.01M167.5 55.2h.01M170.6 45.5h.01M166.8 59.4h.01M166.6 68.5h.01M170.2 68.4h.01M160.8 56.4h.01" fill="none" stroke="#333" stroke-width="0.62" stroke-linecap="square" opacity="0.38"/>
<ellipse cx="163.9" cy="45" rx="2.8" ry="15" fill="#bdbdbd" opacity="0.7" filter="url(#b2)"/>
<ellipse cx="163.7" cy="46.5" rx="1.3" ry="12.5" fill="#e2e2e2" opacity="0.8" filter="url(#b1)"/>
<ellipse cx="154.1" cy="24.8" rx="4.9" ry="5.5" fill="none" stroke="#1a1a1a" stroke-width="0.8"/>
<text x="156.9" y="29.3" font-size="8.8" text-anchor="middle" fill="#0a0a0a" stroke="#0a0a0a" stroke-width="0.3">V</text>
</g>
<rect x="136.2" y="71.8" width="68.1" height="59.8" fill="#fff" stroke="#9a9a9a" stroke-width="0.6"/>
<line x1="135.7" y1="73.8" x2="135.7" y2="131.6" stroke="#555" stroke-width="1.1" stroke-dasharray="0.5 1"/>
<line x1="136.2" y1="131.8" x2="204.3" y2="131.8" stroke="#333" stroke-width="1.1" stroke-dasharray="0.9 0.9" opacity="0.45"/>
<line x1="133.8" y1="78.2" x2="136.2" y2="78.2" stroke="#111" stroke-width="0.9"/>
<text x="133.8" y="78.8" font-size="3" text-anchor="end" fill="#111">10<tspan font-size="2.2" dy="-1">4</tspan></text>
<line x1="133.8" y1="93" x2="136.2" y2="93" stroke="#111" stroke-width="0.9"/>
<text x="133.8" y="93.6" font-size="3" text-anchor="end" fill="#111">10<tspan font-size="2.2" dy="-1">3</tspan></text>
<line x1="133.8" y1="107.8" x2="136.2" y2="107.8" stroke="#111" stroke-width="0.9"/>
<text x="133.8" y="108.4" font-size="3" text-anchor="end" fill="#111">10<tspan font-size="2.2" dy="-1">2</tspan></text>
<line x1="133.8" y1="122.6" x2="136.2" y2="122.6" stroke="#111" stroke-width="0.9"/>
<text x="133.8" y="123.2" font-size="3" text-anchor="end" fill="#111">10<tspan font-size="2.2" dy="-1">1</tspan></text>
<g transform="translate(0 60.6)">
<path d="M170.4 31.8h.01M161.5 28.1h.01M169.1 29.9h.01M163.4 25.1h.01M165.6 17.1h.01M167 38.4h.01M170.1 15.5h.01M165.4 20.5h.01M176.4 33.9h.01M163.8 37.9h.01M172.8 28.5h.01M168.5 23.6h.01M164.5 26.8h.01M174.2 27.8h.01M168.5 25.4h.01M162.1 20h.01M172.3 26.9h.01M161.3 22.9h.01M167.2 29.2h.01M158.6 27.3h.01M169.2 22.5h.01M150 39h.01M158.4 18.8h.01M163.3 19.8h.01M169.3 39h.01M160.3 30h.01M173.8 28.8h.01M164.5 21.3h.01M154.5 22.9h.01M162.9 38.1h.01M164.2 28.9h.01M168.7 16.4h.01M173.3 20h.01M166.1 34.3h.01M173.5 23.9h.01M166.3 38h.01M163.9 30.8h.01M168.7 28.5h.01M179.8 39.3h.01M170.7 34h.01M162.3 31h.01M171.5 21.2h.01M171.6 47.9h.01M164.4 28.4h.01M170.2 23.4h.01M169.6 29.3h.01M157.2 29.8h.01M172.6 31.6h.01M157.1 38.7h.01M170.8 30.3h.01M161.4 34.1h.01M163.4 30.3h.01M166.5 30.1h.01M163.8 36.5h.01M178.8 28.2h.01M162.9 17.7h.01M165.6 15.3h.01M168.7 32.7h.01M163.6 23.7h.01M160.8 26.8h.01M164.5 29.4h.01M166.8 21h.01M180.3 32.6h.01M154.9 25.1h.01M165.6 22.5h.01M156.7 23.8h.01M180.7 37.5h.01M165 26.8h.01M172 31.7h.01M153.6 22.6h.01M169.5 24.6h.01M169 18.8h.01M171 30.8h.01M175.8 27.7h.01M171.1 24.9h.01M178.6 39.9h.01M167.6 25.4h.01M158.9 33.2h.01M170.8 38h.01M170.7 24.1h.01M161.8 35.5h.01M168.4 31h.01M167.8 33.5h.01M161.3 43.9h.01M159.9 21.2h.01M177.7 18.4h.01M168.6 36.7h.01M169.7 15h.01M174.9 21.6h.01M159 27.5h.01M163.4 30.4h.01M169 28.2h.01M173.9 23h.01M168.9 25h.01M166.3 30.8h.01M166.6 15.5h.01M166.5 29.1h.01M154.1 27.1h.01M177.6 31h.01M159.8 19.1h.01M166.6 22.4h.01M169.9 33.6h.01M158.9 38.8h.01M159.5 17.5h.01M165.6 29.9h.01M164.4 31.1h.01M168 18.1h.01M165.3 28.7h.01M169.8 33h.01M168.7 36.2h.01M161.1 34h.01M164.7 40.8h.01M168.1 45.7h.01M159.5 19.7h.01M156.3 29.7h.01M163.3 15.2h.01M162.9 22.7h.01M157.4 20.6h.01M159.3 31.3h.01M177.6 47.5h.01M169.7 16.1h.01M166.5 32.1h.01M176.4 23.9h.01M176.7 35.1h.01M164.9 33.5h.01M180.8 20.5h.01M159.6 21.1h.01M160.3 18.7h.01M171 31.7h.01M168.8 36h.01M181.7 31.3h.01M178.6 21.2h.01M167.2 30.2h.01M160.9 15.5h.01M158.6 19.1h.01M172 32.9h.01M160.6 31.9h.01M167.1 27.4h.01M164.5 28.3h.01M170 21.3h.01M181.3 39.3h.01M168.1 37h.01M178.7 20h.01M164.5 36.2h.01M173 34.5h.01M170.3 26.4h.01M161.9 30.4h.01M163 19.1h.01M158.5 24.2h.01M165.9 41.5h.01M159.9 36.6h.01M159.3 34.8h.01M166.1 24.7h.01M172.9 22.1h.01M168.4 32.3h.01M168.9 20.3h.01M157.2 23.4h.01M168.6 29.4h.01M164.5 45h.01M168.3 17.5h.01M164.9 30.4h.01M158.7 21.3h.01M166.9 34.1h.01M155.7 34.3h.01M170.8 20.6h.01M177.4 42.3h.01M172.5 18.3h.01M154.6 18.3h.01M160.7 24.1h.01M167.4 36.9h.01M163.2 28.9h.01M164.9 35.4h.01M168 35.4h.01M158.1 17.7h.01M168.1 17.3h.01M169.5 32.7h.01M170.8 26.8h.01M158.1 32.4h.01M167.8 35.1h.01M166.4 34.3h.01M171 33.8h.01M154.5 30.3h.01M159 27.7h.01M159.7 42.9h.01M169.8 32.2h.01M159.1 36.4h.01M153.5 41.5h.01M159.3 31.7h.01M169.7 31.5h.01M178.5 24.7h.01M174.7 16.9h.01M170.3 26.9h.01M156.2 29.7h.01M167.5 19.4h.01M165.9 38.6h.01M170 34.6h.01M164.8 34.9h.01M168.6 25.3h.01M158.4 40h.01M164.3 46.9h.01M161.9 18.9h.01M174.4 42.7h.01M151.4 31.6h.01M155.4 34.5h.01M167.4 16.2h.01M162.8 34.7h.01M177.7 27.4h.01M168.1 26.8h.01M165.6 25.7h.01M160.9 26.1h.01M167.6 25.8h.01M170.4 28.4h.01M164 36.3h.01M165.7 24h.01M167.3 46.2h.01M151.1 28.4h.01M170.1 30.3h.01M170.3 25.8h.01M167.6 24.1h.01M169 38.8h.01M161.2 19.5h.01M161.9 19.6h.01M158.5 27.3h.01M166.1 19.7h.01M168.8 25.3h.01M160.6 37.4h.01M175 38.6h.01M169.5 35.2h.01M166.7 29.6h.01M161.3 32.4h.01M173.6 26.6h.01M162 30.8h.01M176.8 27h.01M178 17.4h.01M164.6 41.1h.01M173.5 22.3h.01M182 18.8h.01M170.8 26.8h.01M166.8 39.4h.01M173 28.8h.01M165.8 21.7h.01M169.8 25.5h.01M159.3 41.8h.01M163.9 17.2h.01M169.3 19.4h.01M165.9 30.1h.01M161.1 24.5h.01M161.4 30.8h.01M169.3 31.8h.01M166.3 25.1h.01M170 34.4h.01M164.6 27.5h.01M163.6 27.1h.01M161.3 34.8h.01M172.1 30.8h.01M173.7 37.6h.01M162.1 23h.01M171 22.5h.01M174.6 31.5h.01M175.4 37.5h.01M154.7 25.5h.01M162.9 34.4h.01M168.3 17.5h.01M176.9 31.5h.01M161 23.7h.01M155.6 27.2h.01M162.5 37.2h.01M159.1 15.2h.01M164.2 47.5h.01M161.9 28.3h.01M154.8 36.9h.01M179.7 43.9h.01M164.2 27h.01M158.6 22.1h.01M161.5 36.9h.01M159.1 35.3h.01M161.3 26.8h.01M158.1 29.5h.01M169.3 15.5h.01M164.8 25.3h.01M180.1 19.9h.01M155.7 27h.01M150.2 35.7h.01M168.8 39.5h.01M163 26.4h.01M173.5 27.3h.01M163.4 21h.01M171.9 25.5h.01M159.1 40.9h.01M170.5 27.2h.01M156.8 17h.01M149.8 22.7h.01M158.4 26.2h.01M159.7 31.6h.01M174.4 19.6h.01M164.1 35.8h.01M169.5 31.4h.01M169.7 24.4h.01M152.2 30.9h.01M171 40h.01M162.9 19.8h.01M168.9 25.9h.01M168 32.4h.01M162.9 28.6h.01M169.8 19.3h.01M158.3 24.5h.01M156.4 37.7h.01M172.2 29.3h.01M161.3 24.1h.01M165.1 23.6h.01M168.7 21.9h.01M172.3 20h.01M160.9 38.9h.01M161.2 25.7h.01M173.4 36h.01M163 26.8h.01M169.2 32.3h.01M167.8 29.7h.01M164.9 34.9h.01M167.7 41.4h.01M166.3 29h.01M163.5 16.9h.01M178.1 32.8h.01M172.3 42.6h.01M162.3 33h.01M163 26.9h.01M157.9 29.4h.01M160.1 21.2h.01M166.2 32.4h.01M160.9 39.9h.01M157.8 42.2h.01M160.5 26.7h.01M166.6 23.6h.01M169.2 20.8h.01M167.6 20.5h.01M165.3 22.9h.01M170.2 17.6h.01M168 37.4h.01M167.9 39.7h.01M165.8 36h.01M163.9 39.8h.01M167.8 42h.01M164.8 45.8h.01M173.3 52.8h.01M170.4 43.7h.01M170.3 32.8h.01M162 37.9h.01M170.9 58.1h.01M163.9 56.1h.01M170.4 48h.01M174 55h.01M165.2 42.3h.01M162 45.9h.01M165.4 46.8h.01M174.3 60.5h.01M161.2 50.6h.01M166.4 40.6h.01M165.5 47.8h.01M172.9 44.5h.01M162.4 58.6h.01M164.1 54.9h.01M163.2 53.6h.01M167.4 44.3h.01M162 57.7h.01M163.6 55.3h.01M160.7 35.6h.01M168.3 48.9h.01M166.1 52.9h.01M167.8 51.4h.01M158.3 51.7h.01M170.9 53.1h.01M166.8 58h.01M173.5 57.7h.01M174.1 51.1h.01M163.4 41.1h.01M166.9 30h.01M163.8 40.5h.01M166.5 47h.01M168.4 53.3h.01M165.8 67.7h.01M164.9 56.6h.01M173.6 38.2h.01M159 55h.01M166.5 43.9h.01M162.5 41.4h.01M163.2 46.2h.01M165.1 58h.01M167.4 47.8h.01M161 56.1h.01M171.4 49h.01M164.8 45.3h.01M164.9 50.3h.01M161.4 65.5h.01M167.3 49.5h.01M160.1 59.8h.01M163.4 62.3h.01M169.9 63.2h.01M171 52.1h.01M160.7 58.3h.01M158.7 53.4h.01M177.1 38.5h.01M167.6 44.8h.01M166 46.2h.01M163.6 66.3h.01M165.2 40.5h.01M163.5 41.1h.01M164.3 55.3h.01M159.3 55h.01M166.3 49.8h.01M165 39.8h.01M163.5 22.1h.01M162.9 63.9h.01M162.4 46.2h.01M169.1 53.2h.01M165 44.4h.01M161.3 40.6h.01M167.5 45h.01M166.2 61.2h.01M164.8 56.7h.01M171.3 42.3h.01M168.6 46.3h.01M171.4 49.6h.01M174.7 58.4h.01M165.2 61.9h.01M167.3 41.2h.01M162.1 49.4h.01M165.6 42.9h.01M161.7 41.9h.01M167.6 57.2h.01M162.2 49.5h.01M166.8 54h.01M163.8 60h.01M161.5 56.8h.01M168.2 68h.01M157.7 59.6h.01M173.3 51.4h.01M167.1 45.5h.01M161.6 51.9h.01M164.4 57.6h.01M163.4 52.4h.01M164.9 41h.01M170.9 47h.01M168 41.9h.01M161.9 68h.01M159.8 58.6h.01M166.6 39.4h.01M169.8 48.7h.01M158.8 56.7h.01M168.8 53.4h.01M167.4 47.8h.01M168 27.1h.01M175.7 62.2h.01M168.1 42.2h.01M172.4 60.2h.01M166.8 59h.01M173.3 46.3h.01M164.4 48.2h.01M166.6 51.4h.01M167.4 47.5h.01M168.5 49.1h.01M166.5 47.9h.01M158.9 65.9h.01M169 58.4h.01M168.7 39.8h.01M173.8 39.7h.01M164 53.6h.01M169.3 56.6h.01M173.9 48.6h.01M167.8 29.5h.01M162.1 63.9h.01M160.9 37.6h.01M163.6 50.4h.01M167.9 44.6h.01M161.1 44h.01M169.5 39.6h.01M161.1 41.4h.01M168.7 57.1h.01M170.1 66.9h.01M162.9 51h.01M173.2 53.2h.01M164.7 55.4h.01M155.5 57.5h.01M166.1 45.6h.01M168.4 58.2h.01M164.2 48.2h.01M169.3 46.2h.01M173 22.9h.01M167.9 49.3h.01M168.8 36.3h.01M171.3 53.6h.01M166.7 52.9h.01M170.3 38.8h.01M165.8 49.8h.01M161.4 46.8h.01M167.9 45.5h.01M163.4 54.9h.01M165.9 53.2h.01M166.3 44.7h.01M167.7 34.6h.01M156.7 55.6h.01M166.3 37.8h.01M161.5 44.4h.01M161.9 49.4h.01M171.7 55.7h.01M161.1 53.7h.01M172.5 46.2h.01M163.1 54.4h.01M170.6 51.8h.01M169.3 65.9h.01M164.1 51.6h.01M170.9 48h.01M153.3 37.6h.01M167.4 47.9h.01M165.7 40.1h.01M169.8 33h.01M164.1 42.2h.01M168 58.3h.01M165.2 58.8h.01M169.4 49.1h.01M170.2 40.4h.01M160.3 44.9h.01M175 36.1h.01M166.2 54.4h.01M176.4 55.9h.01M163.9 45.1h.01M166.7 47.1h.01M173.1 47.9h.01M165.1 42.2h.01M171.2 52.7h.01M165.4 39.2h.01M167.1 44h.01M166.1 59h.01M167.5 43.9h.01M175.7 53.7h.01M163.5 58.7h.01M167.9 55.6h.01M165.1 58h.01M166.8 52.2h.01M166.6 58.8h.01M167.1 49.6h.01M169 38.8h.01M176.7 48.6h.01M159.9 47.1h.01M165.7 35.4h.01M168.8 53.4h.01M172.6 56.8h.01M160.6 37.5h.01M176.6 40.5h.01M169.7 46.3h.01M176.3 44.6h.01M170.7 60.7h.01M167 45h.01M163.8 52.4h.01M168 39.1h.01M167.9 46.4h.01M159.9 54.1h.01M167.1 42.5h.01M165.1 27.2h.01M168.5 53.3h.01M178.5 58.8h.01M182.2 21.8h.01M186.1 43.9h.01M163.7 37.5h.01M161.8 41.9h.01M151.1 47.7h.01M178.6 46h.01M172.2 18.8h.01M169.4 51.7h.01M192.1 42.1h.01M172.4 30.7h.01M172.8 48.4h.01M168.2 40.1h.01M167.1 43.4h.01M182.3 58.3h.01M190.5 40h.01M167.9 29.5h.01M186.4 51.2h.01M152.1 32.4h.01M173.1 50.9h.01M173.2 54.6h.01M173.1 40.7h.01M183.1 23.1h.01M200.6 50.6h.01M191.7 45h.01M183.1 34.2h.01M173.6 51.2h.01M166.1 41.1h.01M169.7 45.9h.01M165 33.1h.01M176.8 31.6h.01M188 57.9h.01M161.1 33.8h.01M189 38.3h.01M178.3 29.3h.01M201 32.6h.01M167.2 41.1h.01M185.8 42.4h.01M160.4 54.2h.01M165 52.4h.01M174.7 28.1h.01M175.8 37h.01M181.8 39h.01M160.7 36h.01M170.7 35h.01M170.2 54h.01M172.8 44.2h.01M182.3 47.1h.01M179.9 25.6h.01M177.4 41.5h.01M173.8 26.6h.01M177 22.8h.01M177.7 20.7h.01M180 29.8h.01M176.2 48.4h.01M177.1 32.2h.01M176.7 22.7h.01M176.1 21.4h.01M183.2 30.9h.01M182.5 19.7h.01M183.4 55.9h.01M183.1 30h.01M174.6 25h.01M183.2 35.9h.01M177.4 22.5h.01M180.5 24.8h.01M176.9 26.2h.01M177.4 26.3h.01M173.3 32.2h.01M170.1 30h.01M176.6 28.2h.01M177.5 42.9h.01M178.3 40.4h.01M180.6 21.8h.01M179.8 42.2h.01M178.4 34h.01M177 17.8h.01M177.7 20.9h.01M183.5 29.2h.01M176.2 19.1h.01M177 25.4h.01M180.5 45.3h.01M178 26.9h.01M179.3 34h.01M181.7 29h.01M177.6 32.4h.01M173.9 33h.01M180.8 41.3h.01M170.5 46.7h.01M181.4 39.2h.01M176.5 24.8h.01M178.3 44.7h.01M174.1 37h.01M173 36h.01M171.6 39.5h.01M177.2 26.4h.01M176 23.9h.01M170.7 25.3h.01M180.1 32.4h.01M176.4 35.4h.01M181.5 41.6h.01M179.4 37.2h.01M179.5 29.6h.01M180.8 39.9h.01M176.9 25.4h.01M180.3 35.7h.01M179.9 30.7h.01M177.6 31.9h.01M184.2 28.1h.01M183.2 34.1h.01M181.2 22.5h.01M178.6 27.8h.01M177.7 34.5h.01M179.6 38.8h.01M179.1 23.4h.01M182.5 41.5h.01M179.6 40.7h.01M179 38.4h.01M178.9 38.6h.01M178.4 40.9h.01M183.3 30.5h.01M178.7 17.7h.01M178.2 23.8h.01M182.8 40.9h.01M176.7 29.3h.01M173.9 44.7h.01M181.7 40.7h.01M182.2 28.6h.01M181.6 43.7h.01M178.2 40.8h.01M173.2 37h.01M178.3 30.4h.01M179.3 25.8h.01M177.1 24.6h.01M180.8 24h.01M180.8 33.9h.01M178.4 29.9h.01M182.1 24.7h.01M178.3 25.8h.01M179.6 38.9h.01M183.3 32.5h.01M185.1 27.8h.01M173.5 42.9h.01M177.4 36.9h.01M174.6 27.3h.01M178.9 39.8h.01M178.8 26.6h.01M179.4 31.3h.01M173.8 38.9h.01M179.3 38.7h.01M175.6 27.2h.01M174.6 45.2h.01M178.2 38.9h.01M177.5 38.5h.01M180.3 34h.01" fill="none" stroke="#444" stroke-width="0.6" stroke-linecap="square" opacity="0.5"/>
<path d="M153.6 17.6L153.8 42Q156 56 163 67.8Q165.6 70 168 66Q176.6 50 179 37L178.2 18.4Q165 14.6 153.6 17.6Z" fill="#8c8c8c" filter="url(#rough3)"/>
<path d="M164.5 23.5h.01M174.7 46.5h.01M168.4 36.8h.01M162.9 16h.01M164.9 37.1h.01M159.2 34h.01M163.5 40.9h.01M153.5 40.7h.01M156 30.1h.01M160.9 24.8h.01M177.5 26.6h.01M164.9 27.4h.01M168.2 19.7h.01M162.8 30.7h.01M176.8 28.8h.01M169.4 24.1h.01M163.4 34.1h.01M165.6 22.3h.01M159.9 23.3h.01M164.3 38.1h.01M168.2 22.2h.01M157.2 38.4h.01M172.4 28.6h.01M166.4 27.8h.01M169.3 24.2h.01M167.1 30.9h.01M162.7 27.4h.01M170.4 32.6h.01M167.1 35.9h.01M163.8 31h.01M158.2 39.8h.01M162.8 21.3h.01M171.7 29.5h.01M169.4 32.7h.01M163.2 32.6h.01M173.2 44.4h.01M164.3 27.5h.01M165.3 36.2h.01M165 28.9h.01M157.6 30.4h.01M167.7 19.1h.01M170.7 30.1h.01M164.6 24.9h.01M179.1 49.3h.01M158.6 24.9h.01M166.9 35.4h.01M164.1 42.8h.01M168.9 37.3h.01M166.4 23.4h.01M168.3 25.3h.01M161.4 42.3h.01M167.9 19.6h.01M169.7 30.5h.01M164.8 40.4h.01M156.2 15.7h.01M156.4 23h.01M159.5 21.6h.01M165.4 25.1h.01M157.5 34.9h.01M164.7 21.2h.01M165.5 24.2h.01M159.2 39.2h.01M169.1 38.4h.01M159.1 26.5h.01M167 21.6h.01M175.6 19.1h.01M157.1 32.4h.01M164.6 30h.01M172.4 35.6h.01M165.4 31.7h.01M160.4 32.6h.01M164.4 16.9h.01M157 35.5h.01M165.9 42.6h.01M161.8 17.8h.01M164.1 26.6h.01M155 20.3h.01M172.3 40.6h.01M162.3 28.8h.01M165.9 35.4h.01M164.2 34.8h.01M164.3 20.8h.01M167.2 22.9h.01M167.8 19.5h.01M163.7 22.6h.01M160.6 35.5h.01M171.9 33.5h.01M156.2 35.1h.01M169.5 22.1h.01M159.1 21.2h.01M162.9 39.1h.01M168 32.4h.01M165.8 31.5h.01M163.6 28.5h.01M168.8 34.3h.01M166.5 39.6h.01M162.1 26.9h.01M163.1 25h.01M158.8 17.4h.01M165.3 27.2h.01M176.7 20.7h.01M167.6 16.2h.01M168.7 31.4h.01M163.2 31.5h.01M156.2 30.2h.01M163 16.2h.01M167 22.3h.01M160.6 25.4h.01M158.9 46.4h.01M165.1 33.9h.01M168.9 37.8h.01M161 29.2h.01M175.3 20.6h.01M162.3 46.6h.01M164.3 32.1h.01M158.6 32.5h.01M170.2 37.1h.01M155.1 28.3h.01M164.2 32.5h.01M166.7 18.7h.01M168.7 31.4h.01M168.6 18.8h.01M159.5 16.8h.01M168.5 33h.01M163.2 20.9h.01M153.6 25.1h.01M176.7 29.1h.01M167.5 28.3h.01M168.9 40.8h.01M171 28.7h.01M165 34.5h.01M162 36.2h.01M168.1 16h.01M170.9 17h.01M172.7 32.7h.01M158.6 24.9h.01M170.9 20.2h.01M156.3 36.2h.01M168.7 32.8h.01M162.2 26h.01M169.4 34.6h.01M168.4 28.9h.01M170.6 37.8h.01M169.9 35.2h.01M166.6 29.8h.01M173.5 39.7h.01M165.4 34.7h.01M162.3 26.6h.01M166.9 31.3h.01M161.5 35.8h.01M165.6 33.8h.01M165.6 25h.01M176.1 47.2h.01M158.1 26.7h.01M170.3 20.7h.01M167.5 31.7h.01M171.2 33.3h.01M165 28.1h.01M157.6 22.4h.01M168.7 30.1h.01M172.8 41.9h.01M169.9 35.8h.01M161.9 25.6h.01M159 28.1h.01M170.6 30.6h.01M165.2 33.5h.01M167.9 33.5h.01M165.1 23.5h.01M174.5 23.8h.01M173.5 30.7h.01M157.4 39.7h.01M168.9 23.9h.01M165.2 26.5h.01M157.6 25.2h.01M166.9 29.2h.01M166.3 34.4h.01M161.2 20.9h.01M173.5 27.4h.01M161.4 41.4h.01M159.3 22.1h.01M161.9 35.6h.01M168 30.8h.01M174.4 20.3h.01M161.7 31.6h.01M160.6 23.6h.01M160.9 25.8h.01M162.1 26.8h.01M175.6 19.7h.01M170.5 28h.01M162.4 32.8h.01M165.7 41.2h.01M160.8 20.7h.01M162.9 51.9h.01M163 34.5h.01M167.1 32.3h.01M174.1 24.3h.01M167 30.1h.01M174.4 41.5h.01M167.5 32.1h.01M165 50.4h.01M168.7 26.7h.01M171.3 16.9h.01M171.3 25.5h.01M168.7 40.8h.01M158 39.9h.01M168.1 20.1h.01M171.1 22.8h.01M160.4 39.8h.01M167.6 34.8h.01M171.7 21.5h.01M158.3 26.7h.01M170.3 25.2h.01M160.2 36.5h.01M164.3 40.8h.01M169.8 24.8h.01M158.6 39.6h.01M168.3 34.4h.01M162.4 21.3h.01M173.5 23h.01M163.1 32.3h.01M166.3 26.6h.01M167.4 26h.01M162.4 37.1h.01M164.9 32.7h.01M163.6 18.9h.01M172.1 39.5h.01M162 35.3h.01M162.9 33.7h.01M161.7 34.7h.01M163.6 17.6h.01M168.5 30.6h.01M164.2 22.6h.01M163.6 26.2h.01M162.2 44.1h.01M164 25.6h.01M169.7 42.5h.01M163.4 27.5h.01M171.2 29.3h.01M177.9 36.8h.01M164.9 34.3h.01M174 16.4h.01M157.5 33.3h.01M163.6 23.7h.01M169.6 26.9h.01M168.3 32.3h.01M160.8 24.9h.01M169.8 28.2h.01M159.4 24h.01M161 19.9h.01M161.6 28.4h.01M166.8 29.8h.01M174.8 26.4h.01M170.7 38.2h.01M177.4 28.1h.01M167.1 30.6h.01M168.5 17.5h.01M174.9 27.2h.01M166.2 48.9h.01M172.9 36.7h.01M160.5 31.6h.01M164 28.6h.01M164.6 28.6h.01M164 30.5h.01M167.1 16.5h.01M161.8 42.6h.01M173.6 32.9h.01M169.4 40.8h.01M170.4 33.9h.01M170.5 35.7h.01M159.4 35.9h.01M170.5 31.8h.01M161.9 43.3h.01M175.8 32.7h.01M157.3 32.3h.01M172.3 24.3h.01M160.7 27.9h.01M165.8 40.1h.01M169.9 25.7h.01M159.5 36.8h.01M163 30.1h.01M169.2 17.1h.01M157.9 36.3h.01M154.1 29.9h.01M167.6 29.2h.01M170.6 38.9h.01M174 32.6h.01M168.2 20.9h.01M167.4 32.3h.01M171.7 24.2h.01M166.1 22.6h.01M169 43.7h.01M165.7 25.9h.01M160.8 25.4h.01M160 36.6h.01M166 39.7h.01M164.3 23.6h.01M174.9 45.6h.01M170.6 22.8h.01M176.7 27.6h.01M166.2 27h.01M155.3 26.8h.01M158.7 31.1h.01M168.4 21.7h.01M166.2 34.6h.01M165.9 36.5h.01M165 23.5h.01M154.6 22.7h.01M167.9 39.3h.01M168 41.9h.01M169.2 35.1h.01M163.6 37h.01M168.8 32.1h.01M154.3 31.5h.01M163.8 29.3h.01M163.6 37.7h.01M173.1 38.9h.01M173.6 30.1h.01M174.7 28.1h.01M165 42.8h.01M162.4 26.2h.01M166.8 25.1h.01M169.8 37.9h.01M164.3 29h.01M167.6 44.2h.01M163.4 38.5h.01M156.2 32.1h.01M160.8 31.4h.01M164.2 27h.01M162.6 48.7h.01M164 32.6h.01M165.8 34.2h.01M159.7 32.6h.01M168.8 30.5h.01M163.3 19.4h.01M157.2 34.3h.01M159.6 38.9h.01M160.5 21h.01M166.2 25.9h.01M163.2 28.9h.01M165.6 35h.01M162.8 24.3h.01M163.4 33.5h.01M168.6 22.7h.01M165.3 39.6h.01M164.9 30h.01M163.3 25.5h.01M169.2 23.7h.01M164.6 35.3h.01M168.5 18.7h.01M155.9 31.7h.01M172.7 40.2h.01M163.1 26.5h.01M159.4 36.4h.01M169.8 42.6h.01M172.7 49.7h.01M171.7 38.9h.01M169.2 22.3h.01M165.3 18.5h.01M165.1 28.4h.01M173.6 46.7h.01M163.7 28.7h.01M169.2 38.2h.01M171.5 35h.01M170.5 48.6h.01M154.5 30.4h.01M165.7 28.9h.01M152.9 25h.01M170.6 33.1h.01M169.4 34.3h.01M163.3 31.9h.01M158.2 36.3h.01M161.9 32.8h.01M159.8 26.9h.01M167.8 30.1h.01M165.2 28h.01M175 33.3h.01M160.6 31.4h.01M157.6 46.1h.01M176.7 32.5h.01M161.2 22.8h.01M157.1 28.5h.01M168.7 16.8h.01M174.1 28.8h.01M165.9 33.8h.01M168 26.4h.01M169.7 41.6h.01M161.7 31.8h.01M165.9 24.4h.01M170.3 37.4h.01M163.2 36.4h.01M176.2 29.2h.01M157.8 33.9h.01M159.9 23h.01M163 39.8h.01M161.4 17.2h.01M163.4 27.8h.01M169.1 20.3h.01M175.6 29.7h.01M156.9 15.6h.01M161.1 32.1h.01M157.6 30.1h.01M165.9 19.3h.01M162 33.1h.01M160.9 15.8h.01M162.9 25.6h.01M167.3 30.4h.01M160.9 27h.01M165.4 35.3h.01M158.3 18.7h.01M174.6 16.3h.01M165.2 41.9h.01M173.4 18.3h.01M176.2 44.2h.01M166.4 35h.01M157.1 37.4h.01M167.9 28.9h.01M159.7 22.3h.01M169.8 29.5h.01M161.3 30.4h.01M168.7 25.4h.01M167.6 20.3h.01M157.3 34.9h.01M173.8 24.4h.01M160.1 33.3h.01M165.3 42.6h.01M160.2 37.9h.01M165.9 33.4h.01M167.8 31h.01M170.3 50.8h.01M169.1 28.3h.01M160.4 27.7h.01M154.3 27.7h.01M164.9 29h.01M164.9 24.6h.01M169.6 45.2h.01M174.1 33.4h.01M167.3 34.8h.01M163.1 41h.01M166.1 18.9h.01M163.2 43.7h.01M166.4 27.6h.01M162.1 33.4h.01M168 25.6h.01M161.2 24.8h.01M158.5 26.3h.01M166.6 33.9h.01M167.9 34.2h.01M168.1 32h.01M158.9 39.6h.01M156 26.9h.01M157.4 18.8h.01M172.6 22.2h.01M170.3 27.1h.01M168.5 39.2h.01M173.2 36.8h.01M171.4 37.5h.01M172.7 35.3h.01M165.7 24.2h.01M175.9 25.8h.01M160.5 31.2h.01M170.2 23.9h.01M174.5 32h.01M179.1 32.5h.01M163.3 24.7h.01M168 47.2h.01M167.9 27.4h.01M160.8 22.1h.01M164.8 40.8h.01M166.6 24.2h.01M158.1 45.2h.01M167.3 36.9h.01M162.6 19.2h.01M160.9 28.3h.01M161.1 38.8h.01M170.2 35.3h.01M171.2 37.8h.01M163.7 36h.01M164.3 34.8h.01M153.3 27.4h.01M165.4 27.8h.01M174.8 33h.01M168.4 36.5h.01M171.7 36.5h.01M166.3 23.8h.01M161.8 26.1h.01M165.4 49.9h.01M172.5 36h.01M170.2 27.7h.01M160.7 20h.01M161.2 31.4h.01M169.5 33.9h.01M167.8 27.7h.01M174.8 20.8h.01M160.7 42.3h.01M155 28h.01M165.8 33.3h.01M157.4 33.5h.01M163.1 26.1h.01M163.6 36.4h.01M166 24.6h.01M178.1 24.6h.01M169.8 45.7h.01M164 31.3h.01M161.7 33h.01M172.7 23.6h.01M165.2 36.5h.01M158.8 33.9h.01M168 30.9h.01M160.2 36.2h.01M169 33.7h.01M175.7 20.4h.01M159.9 29.4h.01M167.5 25h.01M163.6 21.6h.01M163.9 34.9h.01M153.8 33.2h.01M161.6 28h.01M173.3 41.6h.01M162.3 37.2h.01M159.2 36.3h.01M163.4 34h.01M166.7 15.2h.01M167.9 25.9h.01M170.5 21.1h.01M173.7 30.9h.01M170.1 32.5h.01M168.7 26.8h.01M169 24.3h.01M159.9 30.8h.01M169.3 27h.01M173.5 25.9h.01M163.2 48.9h.01M169.2 26.2h.01M171 24.3h.01M166.4 30.1h.01M166.8 29.8h.01M160.2 37.3h.01M162.4 46.4h.01M168.7 20h.01M175.4 45.2h.01M160.3 33.5h.01M173.7 25.6h.01M164.8 23h.01M161 41.8h.01M153.5 17.9h.01M164.1 23.8h.01M168.3 41.4h.01M165.2 23.7h.01M166 40.6h.01M168.8 31.2h.01M167.6 26.9h.01M166.1 36h.01M168.4 20.4h.01M164.6 34.7h.01M163.8 25h.01M153.3 49.3h.01M166.1 29.1h.01M161 36.2h.01M170.2 33.8h.01M166.3 30.2h.01M167.8 24.6h.01M161.6 29.3h.01M165.5 22.5h.01M156.2 38h.01M155.7 27.8h.01M156.2 26.1h.01M167.1 30.6h.01M167.7 33.7h.01M165.8 36.8h.01M170 28.8h.01M169.9 24.4h.01M158 20.6h.01M160.9 25.9h.01M164.1 16.9h.01M168.6 31.6h.01M169 25.4h.01M161.4 34.2h.01M173.6 28.1h.01M168.2 24.6h.01M167.1 23.7h.01M165.6 34.1h.01M167.7 22.4h.01M155.2 29.5h.01M161.1 42.5h.01M161.6 40.6h.01M169 30.6h.01M168.7 32.2h.01M163.7 34.6h.01M164.7 50.4h.01M163.6 51.6h.01M161.5 64.4h.01M168.8 66.1h.01M168.7 55.4h.01M169.7 36.6h.01M165.4 54.1h.01M167.9 43.4h.01M168.3 50.2h.01M167.3 42.3h.01M169.4 67.4h.01M166.2 53.6h.01M163.8 64.5h.01M170.3 37.9h.01M162.5 66.7h.01M167.5 55.5h.01M164.7 61.1h.01M168.2 52.4h.01M163.6 51h.01M165.1 38h.01M163.7 51.6h.01M168.3 38.2h.01M164 50.6h.01M162.2 43h.01M163.1 51.1h.01M165.3 69.6h.01M165.4 58.2h.01M162.7 56.8h.01M169.9 56.7h.01M160.7 52.1h.01M164.8 47.4h.01M163.8 59.9h.01M164.2 55.5h.01M165.1 44.7h.01M162 63.6h.01M163.2 65.9h.01M164.2 52.4h.01M162.8 60.3h.01M166.8 52.5h.01M163 59.4h.01M168.9 48.9h.01M162.2 47.7h.01M169.8 61.2h.01M164.7 64.2h.01M171 57.2h.01M166.1 59.7h.01M165.9 61.8h.01M167.2 57.9h.01M162.6 63.7h.01M163.7 52.6h.01M161.9 52.9h.01M167.4 54.7h.01M172.8 57h.01M158.7 48h.01M163.2 55.6h.01M166 48.7h.01M163.7 51h.01M167.5 64.3h.01M164.9 57.4h.01M167.3 53.4h.01M169.7 61.4h.01M165.9 59.2h.01M167.3 64.2h.01M164.7 60.9h.01M162.9 46.3h.01M166.8 55.6h.01M165.6 43.3h.01M164.6 65.3h.01M164 55.3h.01M163.6 51.1h.01M166.5 54.5h.01M165.4 46.5h.01M161.8 55.3h.01M164.9 65.7h.01M168.7 50.8h.01M168.1 55.8h.01M165.1 53.3h.01M166.3 59.2h.01M164.6 62.9h.01M171 38.5h.01M167.2 53.4h.01M164.8 46h.01M168.3 47.4h.01M164.5 59.8h.01M164.5 65.5h.01M161.8 49.4h.01M163.3 60.8h.01M163.7 44h.01M163.8 55.6h.01M163.1 56.6h.01M165.7 47h.01M163.4 59.7h.01M169.8 59.9h.01M164.5 51.3h.01M162.3 49.5h.01M167.1 60.3h.01M165.5 60h.01M165.5 57.9h.01M164.6 63.4h.01M169.3 55.9h.01M163.7 56.1h.01M168.2 50.9h.01M165.7 57h.01M167.7 56.3h.01M165.8 68h.01M170.9 62.7h.01M164.4 50.8h.01M166.5 45.6h.01M165 45.9h.01M165.9 53.6h.01M163.2 47.6h.01M164.3 47.5h.01M162.9 48.8h.01M163.4 53.4h.01M166.7 44.6h.01M166.8 44.7h.01M166.4 58.3h.01M165.5 52.3h.01M163.4 54.4h.01M166.2 65.6h.01M163.2 47.8h.01M162.1 53.9h.01M168.4 69.5h.01M166.3 66.7h.01M165.5 63.6h.01M170.2 42.4h.01M165.2 49.3h.01M169.4 55h.01M163.3 45.5h.01M162 46.3h.01M162.5 64.7h.01M167.7 40.1h.01M167.2 47.2h.01M165.3 48.7h.01M163.7 53.2h.01M167.3 48.8h.01M166.6 46.7h.01M163.3 49.4h.01M165.9 63.9h.01M171.7 52.2h.01M165.1 58h.01M161.9 47.9h.01M165.4 63.5h.01M166.8 69.1h.01M169.6 55.5h.01M166.1 50.4h.01M162.6 44.3h.01M165.1 58.6h.01M168.6 49.6h.01M164 66.8h.01M168.5 58.5h.01M162.3 44.9h.01M165.7 47.3h.01M165.5 46.1h.01M163 59.7h.01M166 66.6h.01M167.9 56.7h.01M164.8 49.1h.01M164.4 63.6h.01M166.8 53h.01M168.2 56.6h.01M168.5 44.4h.01M165 55h.01M164.5 57.3h.01M168.1 44.9h.01M168 60.3h.01M170.6 59.5h.01M165.9 59.6h.01M166.7 27h.01M165.3 68h.01M164.3 50.9h.01M173.3 53h.01M166.7 44.2h.01M164.6 51.1h.01M165.8 52h.01M165.9 62.7h.01M163.6 45.4h.01M161.7 56.1h.01M163.5 57.5h.01M163.9 52.3h.01M166.4 53.7h.01M166.6 56.8h.01M159.6 41.7h.01M162.2 51.1h.01M162.9 49.5h.01M169.7 55.3h.01M166.8 70h.01M164.3 47.3h.01M164.7 68.3h.01M165.1 49.5h.01M161.4 54.4h.01M168.3 57.9h.01M167.3 40.1h.01M166.1 66.6h.01M165.7 55.5h.01M164.8 55.8h.01M164.4 68.4h.01M161.9 51.9h.01M167.2 57h.01M162.8 43.4h.01M165.5 59.3h.01M164.5 53h.01M164.5 52.3h.01M166.7 52.5h.01M165.1 61h.01M162.9 50.1h.01M167.3 59.9h.01M169.1 56.1h.01M166.1 38.7h.01M166.4 57h.01M165 56.8h.01M169.8 49h.01M166.7 49.1h.01M163.4 53.5h.01M168.4 57.8h.01M170.6 57.3h.01M166.5 43h.01M163 54h.01M161 43.2h.01M163 55.1h.01M171.5 56.4h.01M163.4 47.8h.01M162.3 51.4h.01M165.3 36.3h.01M167.4 50.6h.01M164.9 37.5h.01M164.7 52.3h.01M166.3 55.8h.01M168.9 54.5h.01M166.8 61.2h.01M164.4 55.8h.01M164.5 56.1h.01M166.2 52.1h.01M162.8 59.7h.01M166.2 49.9h.01M169.3 66.8h.01M165.1 52.5h.01M164.6 58h.01M166.7 53.5h.01M163.4 60.8h.01M169.2 48.4h.01M168.4 57.2h.01M167.9 47.9h.01M166.1 66.3h.01M166.2 49.5h.01M166.9 52.6h.01M162.7 44.3h.01M164.2 48.8h.01M164.8 44.9h.01M168.5 42.9h.01M170.8 61.1h.01M165.5 45.3h.01M166.3 46.3h.01M166.2 55.9h.01M164.2 36h.01M165.9 59.4h.01M168.7 54h.01M162.3 59.5h.01M167.9 52.5h.01M162.6 58.4h.01M167.7 62h.01M165.1 49.4h.01M162.7 38.2h.01M161.9 43h.01M164.9 52.3h.01M167.9 56.5h.01M163.8 58.6h.01M165.9 46h.01M163.3 53h.01M163.1 50.7h.01M164.3 56.2h.01M162.7 55.2h.01M166 47.4h.01M161.4 61.2h.01M169.5 45.5h.01M164.1 67.8h.01M163.7 53.2h.01M168.1 57.9h.01M164.5 52h.01M168.3 61.1h.01M163.2 46.8h.01M163.4 43h.01M163.5 59.3h.01M169.8 36.1h.01M161 41.2h.01M165.8 60h.01M170.2 56.8h.01M163.9 59.7h.01M168.4 44.8h.01M167.4 28.7h.01M167.2 39.4h.01M165.9 44.8h.01M163.5 40.9h.01M166 51.9h.01M167.3 51.9h.01M164.9 62.9h.01M168.2 57h.01M167.5 54.5h.01M166.4 62.2h.01M164.8 49h.01M167.1 58h.01M166.1 57.8h.01M170.9 43.9h.01M166.3 49.1h.01M167.3 47.7h.01M162.3 50.3h.01M165.9 53h.01M169.8 48h.01M166.7 52.1h.01M168 46.5h.01M164.9 48.1h.01M164.3 59h.01M166.2 53.3h.01M162.7 53h.01M164.8 48.6h.01M171.3 40.1h.01M165.4 41.8h.01M164.1 57.2h.01M166.7 64.8h.01M164.4 50.9h.01M165.7 53.1h.01M165.3 52.7h.01M164.1 54.1h.01M166 53.8h.01M165.9 46.9h.01" fill="none" stroke="#333" stroke-width="0.62" stroke-linecap="square" opacity="0.38"/>
<ellipse cx="166.2" cy="40" rx="4.4" ry="10.5" fill="#c2c2c2" opacity="0.8" filter="url(#b2)"/>
<ellipse cx="166.3" cy="38.2" rx="1.7" ry="3.8" fill="#f4f4f4" opacity="0.95" filter="url(#b1)"/>
<ellipse cx="155.4" cy="24.9" rx="5.5" ry="5.9" fill="none" stroke="#1a1a1a" stroke-width="0.8"/>
</g>
<rect x="136.2" y="132.8" width="68.1" height="59.7" fill="#fff" stroke="#9a9a9a" stroke-width="0.6"/>
<line x1="135.7" y1="134.8" x2="135.7" y2="192.5" stroke="#555" stroke-width="1.1" stroke-dasharray="0.5 1"/>
<line x1="136.2" y1="192.7" x2="204.3" y2="192.7" stroke="#333" stroke-width="1.1" stroke-dasharray="0.9 0.9" opacity="0.55"/>
<line x1="133.8" y1="139.2" x2="136.2" y2="139.2" stroke="#111" stroke-width="0.9"/>
<text x="133.8" y="139.8" font-size="3" text-anchor="end" fill="#111">10<tspan font-size="2.2" dy="-1">4</tspan></text>
<line x1="133.8" y1="154" x2="136.2" y2="154" stroke="#111" stroke-width="0.9"/>
<text x="133.8" y="154.6" font-size="3" text-anchor="end" fill="#111">10<tspan font-size="2.2" dy="-1">3</tspan></text>
<line x1="133.8" y1="168.8" x2="136.2" y2="168.8" stroke="#111" stroke-width="0.9"/>
<text x="133.8" y="169.4" font-size="3" text-anchor="end" fill="#111">10<tspan font-size="2.2" dy="-1">2</tspan></text>
<line x1="133.8" y1="183.6" x2="136.2" y2="183.6" stroke="#111" stroke-width="0.9"/>
<text x="133.8" y="184.2" font-size="3" text-anchor="end" fill="#111">10<tspan font-size="2.2" dy="-1">1</tspan></text>
<text x="145.8" y="197.5" font-size="2.8" text-anchor="middle" fill="#222">10&#185;</text>
<text x="162.5" y="197.5" font-size="2.8" text-anchor="middle" fill="#222">10&#178;</text>
<text x="179.3" y="197.5" font-size="2.8" text-anchor="middle" fill="#222">10&#179;</text>
<text x="196.3" y="197.5" font-size="2.8" text-anchor="middle" fill="#222">10&#8308;</text>
<g transform="translate(0 121.6)">
<path d="M169.4 42.2h.01M159.2 18h.01M162.7 24.6h.01M168.9 39h.01M159.6 38.5h.01M166.3 22.4h.01M162.7 33h.01M155.5 26.1h.01M176.2 19.9h.01M153.1 30.6h.01M169.8 28.3h.01M167.6 23.3h.01M168.4 34.2h.01M167.2 35.5h.01M176.4 20.2h.01M172.2 41.3h.01M164.9 32.5h.01M168.1 26.9h.01M173.5 40.7h.01M178.1 34.5h.01M159.7 35.5h.01M165.7 34.7h.01M157 26.1h.01M163 32.6h.01M166.3 27.3h.01M160.2 22.2h.01M164.8 20.6h.01M172.8 32.2h.01M164.5 36.1h.01M163.5 16.4h.01M154.3 41.6h.01M166.1 33.9h.01M162.9 35.7h.01M172.1 25.8h.01M157.7 33.4h.01M167.5 33.9h.01M162 17.6h.01M171.5 36.1h.01M167.2 46h.01M157.4 22.2h.01M178.8 22.1h.01M171.9 35h.01M167.5 31.7h.01M164.1 20.7h.01M164.6 23.3h.01M162 29.2h.01M168.2 26.4h.01M154.7 17.3h.01M154.8 26.8h.01M166.1 33.4h.01M163 26.8h.01M161.5 29.9h.01M172.9 30.3h.01M169 25.7h.01M161.9 21.9h.01M167.6 30.5h.01M169.4 39.3h.01M177.4 20.5h.01M168.5 32.7h.01M171.9 43.2h.01M160.3 19.5h.01M167.8 29.3h.01M169.5 30h.01M176.6 23.5h.01M163.4 26.8h.01M164.7 24.7h.01M177.4 16h.01M161.3 42.5h.01M167.7 30.1h.01M165.8 24.4h.01M158.5 37.6h.01M169.5 26.2h.01M164.6 37.5h.01M164.3 22.6h.01M176.4 37.2h.01M167.5 22.8h.01M165.2 34.4h.01M167.6 36.5h.01M164.2 28.7h.01M161.8 19h.01M166.1 18.6h.01M169 27h.01M170.4 30.3h.01M169.2 33.8h.01M164.9 32.1h.01M161.8 41.3h.01M170.5 26.2h.01M168.3 25.6h.01M170.8 31.3h.01M164.6 17.3h.01M156.4 28.7h.01M165.6 21.6h.01M160.3 29.1h.01M158.1 28h.01M170.2 19h.01M167.8 31.4h.01M172.1 27.9h.01M166.7 33.1h.01M161.2 22.3h.01M162.7 25.3h.01M168.9 31.5h.01M159.3 18.7h.01M164.8 30.7h.01M162.6 21h.01M163.1 41.4h.01M186 21.2h.01M152.9 32.5h.01M159 25.6h.01M179.6 29.7h.01M164.1 25.8h.01M164.7 23.4h.01M168.7 19h.01M170.1 27.7h.01M165.1 25.5h.01M174.2 27.1h.01M166.1 22.2h.01M172.9 17.4h.01M163.6 35.3h.01M159.8 38.8h.01M162.7 36.5h.01M160.3 30.5h.01M155.7 29.9h.01M161 26.5h.01M158.3 28.4h.01M169.8 28.2h.01M176 20.3h.01M159 17.9h.01M166.7 30.3h.01M160.1 18.6h.01M172.3 39.7h.01M174.6 25.1h.01M162.3 33.6h.01M170.5 29.1h.01M154.3 25.8h.01M168.4 29.4h.01M171.8 28.3h.01M167.7 33.4h.01M170.5 32h.01M173.7 39.1h.01M181.7 28.1h.01M166.8 32.5h.01M165.9 21.9h.01M170.7 37.8h.01M161.2 26.1h.01M171.9 29h.01M160.2 22.2h.01M166.9 18.5h.01M158.3 48.3h.01M166.3 38.7h.01M160.1 21.4h.01M158.3 25.5h.01M164.2 15.4h.01M159.8 33.8h.01M167.4 31.1h.01M169.2 33.7h.01M168.8 23h.01M177.9 32.9h.01M165.6 27.5h.01M163.6 16.9h.01M167.4 37.9h.01M162.5 23.6h.01M157 33.4h.01M169.2 33.8h.01M160.5 35.5h.01M160.4 34.9h.01M163.5 27.6h.01M162.7 31.3h.01M151.3 48.7h.01M166 25.4h.01M167.4 33.9h.01M168.1 28.7h.01M177.1 25.1h.01M159.6 28.8h.01M178 39.7h.01M168.5 35h.01M161.5 28.6h.01M177.7 30.6h.01M172.8 15h.01M173.1 26.3h.01M172.1 38.6h.01M164.3 37.2h.01M175.8 23h.01M157.3 31.9h.01M180.6 30.3h.01M156.7 39.8h.01M168.1 15.2h.01M166.1 16.3h.01M167.9 22.8h.01M163.4 15.2h.01M158.9 25.7h.01M161.3 43.7h.01M155.3 29.9h.01M172.4 21.1h.01M158.6 35.8h.01M163.4 18h.01M174.9 27.7h.01M177.8 25.6h.01M155.8 30.9h.01M168.2 28.2h.01M174.7 32.3h.01M173 22h.01M157.7 28.4h.01M162.7 34.9h.01M167.5 19.7h.01M172.1 36.2h.01M171.1 30.1h.01M157 16.5h.01M170.5 33.8h.01M173.2 29.6h.01M176 19.4h.01M169.4 31.3h.01M160.2 16.4h.01M168.2 19.7h.01M168 21.1h.01M157.7 31.6h.01M157.5 42.1h.01M170 26.8h.01M174.6 31.2h.01M166.3 30.2h.01M167.3 31.1h.01M161.6 35.2h.01M163.7 26h.01M169.7 32.3h.01M171.2 32.8h.01M165.4 22.4h.01M151.3 31.3h.01M166.6 40h.01M153.3 23.7h.01M161.7 37.1h.01M176.1 34.2h.01M156 28.9h.01M166.3 31.1h.01M167.6 22.1h.01M174.9 31.6h.01M161.4 30.2h.01M165.9 31.1h.01M158.8 23.3h.01M161 28.8h.01M172.9 33.5h.01M152.7 39.9h.01M152.1 18.9h.01M161.8 27.2h.01M160.1 34.2h.01M172.7 23.5h.01M164.3 27.2h.01M161.7 21.5h.01M170.1 19.2h.01M166.2 31.9h.01M167.9 29.4h.01M151.8 34.9h.01M166.8 33.2h.01M166.4 20.4h.01M187.6 41.5h.01M166.8 32.6h.01M173.4 33.2h.01M172.9 39.3h.01M169.7 16.8h.01M173.7 30.5h.01M152.6 18.3h.01M164.4 45.1h.01M166.4 29.3h.01M154.5 31.9h.01M170.4 21.7h.01M163.4 20.4h.01M169.7 50.7h.01M166 23.4h.01M168.5 24.7h.01M173.4 30.5h.01M160.9 27.6h.01M165.5 18.2h.01M160.9 21.1h.01M165 23.8h.01M161.7 30.4h.01M151 25h.01M159.1 25.7h.01M160.4 32h.01M167.7 25.1h.01M170.4 29.8h.01M174.9 32.3h.01M167.4 26.6h.01M178.6 26.2h.01M176.8 36.7h.01M163.4 34.4h.01M163.5 52.6h.01M158.7 32.8h.01M165.7 29.9h.01M163.8 35h.01M169.3 31.6h.01M178.2 35.3h.01M181.1 25.7h.01M170.5 22.2h.01M168.4 35.9h.01M169.3 16.9h.01M160.9 40.1h.01M164.9 22.1h.01M171.6 19.6h.01M162.5 21h.01M159.1 23.6h.01M164.6 32.8h.01M167.7 28.8h.01M174.6 23.6h.01M160.9 45.9h.01M166.7 29.9h.01M169.1 32h.01M168 33.3h.01M160.7 43.8h.01M168.2 39.2h.01M166.7 21.4h.01M168 20.8h.01M164.7 30.9h.01M166.4 21.2h.01M163.4 25h.01M174.5 31.4h.01M156.4 18.4h.01M161.2 32.7h.01M159.7 17.4h.01M164.8 21.9h.01M177.7 32.9h.01M172.9 36.1h.01M172.4 28.9h.01M175.4 28.2h.01M172.9 20.2h.01M172.7 43h.01M160.2 23.9h.01M162 25.1h.01M170.3 31.2h.01M166.9 22h.01M163.9 17.6h.01M173.5 44.5h.01M163 27.5h.01M168.5 21.8h.01M165.8 30.7h.01M159.7 19.2h.01M159.4 50.1h.01M155.2 37.8h.01M167.5 52.5h.01M174.7 62.2h.01M159.2 47.5h.01M168 41.8h.01M159.6 67.6h.01M172.7 68.8h.01M166.5 48.6h.01M170.3 58.2h.01M164.2 44.8h.01M162.6 50.2h.01M164.6 39.3h.01M169.6 49.5h.01M166.7 64.5h.01M161.6 52.6h.01M174.6 58.1h.01M168.2 36.6h.01M167.4 55.2h.01M165.1 50.2h.01M166.1 58.3h.01M168.6 42.3h.01M162.7 51.5h.01M181.3 33.7h.01M165.2 44.3h.01M161.2 62h.01M170.2 51.9h.01M164.2 40.9h.01M163.3 61h.01M159.1 55.4h.01M163.5 49.4h.01M166.3 53.6h.01M159.3 48.1h.01M166.5 56.4h.01M173.2 67.2h.01M168.4 33.3h.01M165.7 53.5h.01M161.6 27.2h.01M171.6 50.1h.01M166 42.7h.01M174.6 55.9h.01M158.4 52.5h.01M164.9 59.3h.01M167.3 52.4h.01M166.8 60.1h.01M168.4 37.1h.01M169.4 37.6h.01M156 33.1h.01M173.8 45.5h.01M169.5 43.2h.01M173.9 62.9h.01M168.5 60.8h.01M167.2 54.6h.01M154 51h.01M168.1 58h.01M160.5 40.9h.01M172.7 56.6h.01M162.5 44.9h.01M168.5 65.2h.01M169.4 51.2h.01M166.2 50.8h.01M163.1 45h.01M179.7 56.4h.01M160.1 59.9h.01M163.7 63h.01M161.6 47.5h.01M172.1 54h.01M170 46.8h.01M165.3 54.1h.01M163 52.1h.01M165 45.7h.01M170.2 45.8h.01M173.5 62.8h.01M164.4 58.1h.01M166.2 48.3h.01M177 49h.01M174.2 56.8h.01M168 46.7h.01M165.2 56.6h.01M168.7 53.6h.01M164.6 45.6h.01M168.1 29.3h.01M168.8 62.3h.01M169.4 59.7h.01M167.9 33h.01M171.6 52h.01M170.4 42.4h.01M166.6 53.9h.01M162.9 68.4h.01M175 56.4h.01M169.1 58.2h.01M173.7 46.3h.01M162.8 57.1h.01M171.8 56.6h.01M178.4 59.6h.01M162.6 49.6h.01M173.4 45h.01M164.5 58.9h.01M166.8 58.4h.01M164.3 49.3h.01M166 47.7h.01M167.1 30.7h.01M161 36.4h.01M169.5 49.3h.01M165 52.8h.01M163.8 37.8h.01M175.5 47.1h.01M169.7 44.9h.01M163.1 45.4h.01M167 60.5h.01M164.4 60.1h.01M158.7 33h.01M170.4 59.6h.01M159.8 53.8h.01M165.7 46.8h.01M156.8 57.1h.01M168.9 51.8h.01M164.9 61.3h.01M168.1 52.4h.01M166.6 44.3h.01M167.7 42.1h.01M166.4 60.7h.01M163.1 31.4h.01M157.4 53.8h.01M164.3 56.7h.01M173.6 54.5h.01M170.5 44.2h.01M165.4 33.6h.01M163.7 47.1h.01M168.9 61.8h.01M169.2 20.3h.01M167.3 39.2h.01M167.2 45.2h.01M168.9 47.5h.01M164.5 36.4h.01M160.6 57.7h.01M169.3 38.7h.01M162.6 51.1h.01M168.7 35.6h.01M165.3 52.1h.01M161.4 45.3h.01M160.8 33.2h.01M162 46.8h.01M165 57.7h.01M165.8 59h.01M169.9 58.9h.01M164.7 41.4h.01M164.3 61h.01M161.7 51h.01M168.2 53.9h.01M161.5 58.5h.01M164.3 35.6h.01M168.8 56.7h.01M170.6 37.9h.01M170.6 56.6h.01M169.9 47.6h.01M168.1 55.9h.01M166.3 45.8h.01M172.3 43.9h.01M165.8 55.9h.01M159.4 47.3h.01M168.3 64.5h.01M164.7 47.8h.01M169.6 64.6h.01M165.7 37.8h.01M163.2 58.2h.01M169.1 48.1h.01M166.5 57.6h.01M162.8 44.2h.01M159.6 53h.01M162.1 54.7h.01M171.1 42.6h.01M174.1 52.6h.01M170.2 46.9h.01M161.6 39.6h.01M164.2 57.7h.01M166.1 48.3h.01M168.6 35.1h.01M162.4 54.7h.01M170.5 47.3h.01M170.6 50.6h.01M163.4 51h.01M163.5 53.8h.01M169.5 42.8h.01M171.1 43.6h.01M169.4 59.5h.01M161.4 44.7h.01M158.9 48.2h.01M167.5 32.6h.01M171.2 54.4h.01M170 50.2h.01M161.8 53h.01M168.7 61.3h.01M169.2 55.3h.01M163.5 52.7h.01M160.4 64.6h.01M176.3 59.3h.01M168.7 57.1h.01M170.5 52.1h.01M177 52.8h.01M169.3 61.6h.01M163.3 42.2h.01M165.1 43h.01M172.9 45.7h.01M167.3 41.5h.01M164.3 44.5h.01M175.3 54.1h.01M167.9 60.7h.01M168.9 51.8h.01M171.4 55.1h.01M159.2 56.5h.01M165.1 68.9h.01M167.9 50.1h.01M165.9 50.8h.01M170.3 51h.01M162.3 50.5h.01M162.1 33.2h.01M166.7 55.9h.01M192 33.8h.01M160.7 32.9h.01M177.5 44.3h.01M196.6 40.1h.01M186.1 37.8h.01M186.7 50.5h.01M163.2 54.8h.01M177 41.5h.01M174.1 20.5h.01M169.9 48.4h.01M163.1 64.1h.01M164.2 22.1h.01M159.4 47.8h.01M164.2 32.7h.01M171.2 60.1h.01M170.3 17.5h.01M168.7 31.5h.01M174.5 38.8h.01M183.6 36.5h.01M157.2 46.5h.01M177.7 58.3h.01M163.3 30.5h.01M190.7 28.9h.01M173.4 65.5h.01M176.6 47.7h.01M181 22.7h.01M160.3 44.9h.01M175.2 37.1h.01M165.1 55.9h.01M194 40h.01M162.5 56.7h.01M181.9 61.1h.01M169.5 27.3h.01M190.4 32.3h.01M170.6 38.7h.01M166.6 40.5h.01M185.6 37.7h.01M166.4 55.5h.01M166.6 47.1h.01M198.1 53.2h.01M197.7 28.4h.01M172.2 33.8h.01M200.4 31.6h.01M179.3 40.4h.01M171.8 36.2h.01M172.3 31.7h.01M175 46.7h.01M173.5 38.7h.01M177 41.1h.01M179.5 19.4h.01M175.9 25.2h.01M186.6 23.7h.01M172.4 37.8h.01M178.9 29.7h.01M177.4 29.2h.01M176.5 31.6h.01M174.9 30.5h.01M174.9 34.3h.01M185.5 23.6h.01M180.7 46.9h.01M178.8 32.7h.01M175.5 25.8h.01M175.1 19.7h.01M175.3 34.1h.01M177.8 41.2h.01M174.1 25.6h.01M177.7 29.6h.01M179.9 20.5h.01M175.2 18.5h.01M172.6 52.5h.01M183.2 29h.01M175.9 32.6h.01M178.4 45.4h.01M183 34.5h.01M180.2 42.2h.01M178.3 16h.01M177.5 47h.01M174.2 33h.01M177.4 44.9h.01M179.7 28.9h.01M181.9 30.9h.01M175.3 38h.01M180.1 34.5h.01M183.2 33.1h.01M180.2 41.5h.01M182 34.1h.01M175.5 33.7h.01M176 36.4h.01M183.2 28.5h.01M183 30.8h.01M179 45h.01M175.5 28.4h.01M181 30.7h.01M175.7 26.7h.01M178.6 24.1h.01M185.6 23.7h.01M181.5 42.7h.01M180.3 43.8h.01M177.5 21.3h.01M171.4 38h.01M181 38.5h.01M178.2 41.7h.01M180.9 33.9h.01M173.2 42.7h.01M178.1 43.8h.01M182.4 53.1h.01M176.6 37.8h.01M172.8 40.8h.01M178.1 47.7h.01M178.7 39.3h.01M181.1 24.8h.01M179.2 41.4h.01M181.7 43.4h.01M178.3 31.5h.01M174.9 32h.01M177.9 34.8h.01M178.8 35.6h.01M181.3 22.5h.01M180.5 25.6h.01M178.1 31.5h.01M180.8 22.5h.01M182.9 38.4h.01M179 20.9h.01M173.8 35.7h.01M179.9 22.9h.01M178.9 36.8h.01M179.7 24h.01M169.1 34.6h.01M172 33.8h.01M174.3 18.3h.01M176.9 34.6h.01M175.7 33.7h.01M175.5 31.2h.01M175.7 27.6h.01M176.5 40.2h.01M175.4 29.8h.01M174.8 35.2h.01M177.8 29.7h.01M179.3 27.2h.01M177.4 25h.01M175.1 34h.01M177.2 28.5h.01M184.2 30.2h.01M178.4 32.1h.01M175.8 37h.01M174.7 24.4h.01M175.9 29.2h.01M182.3 36.6h.01M183.2 26.9h.01M177.8 23.1h.01M176.2 31.6h.01M182.9 29.3h.01M178.9 45.9h.01" fill="none" stroke="#444" stroke-width="0.6" stroke-linecap="square" opacity="0.5"/>
<path d="M153.6 17.7L153.8 50.6Q158 60 163.4 66.4Q165.8 68.6 168 64Q176.4 48 179 36L178 18Q165 14.6 153.6 17.7Z" fill="#808080" filter="url(#rough3)"/>
<path d="M165.4 26.2h.01M174.4 21.6h.01M168.5 19h.01M152.6 41h.01M165.4 23.1h.01M167.8 38.4h.01M168.7 27.3h.01M174.2 32.9h.01M162.6 27.1h.01M164.6 31.6h.01M161.7 22.2h.01M168.1 20.5h.01M160.4 41.3h.01M160.8 34.5h.01M160.4 17.9h.01M164.3 25.1h.01M158.8 29.3h.01M174.4 25.4h.01M161.6 34.6h.01M158.9 38.3h.01M168 35.9h.01M172.1 17.8h.01M165.5 30.2h.01M163.8 32.4h.01M156.4 32.9h.01M157.4 27.7h.01M170 22.3h.01M162.9 26h.01M164.4 25h.01M161 37.6h.01M165 30h.01M160.5 32.1h.01M171.3 27h.01M167.2 37.1h.01M169.2 40h.01M166 25.3h.01M156.7 24.1h.01M179.2 28.6h.01M160.5 30.9h.01M164.8 36.6h.01M159.2 28.3h.01M164.5 29.2h.01M160 47.7h.01M167.4 42.3h.01M173.6 55.2h.01M161.8 24.5h.01M164.1 32h.01M166.5 27.4h.01M163.9 29.6h.01M169 18.8h.01M173.2 17.6h.01M155.1 29.6h.01M171.9 27.6h.01M161.6 26h.01M163.7 30h.01M158.8 19.4h.01M174 23.2h.01M164.7 32.6h.01M168.4 31.3h.01M165.6 25.2h.01M166.9 58.9h.01M168.7 45.5h.01M172.8 32.7h.01M175.9 22.5h.01M159.5 23.4h.01M171.4 35h.01M169 22.3h.01M166.2 38.3h.01M175.2 31.2h.01M158.6 28.7h.01M154.1 27h.01M167 29.9h.01M166.2 15.2h.01M160.5 21.9h.01M158.1 35h.01M161.2 25.3h.01M166.6 23.4h.01M164 22h.01M166.2 37.8h.01M163.8 34.8h.01M170.6 24.1h.01M163.9 43.9h.01M163.3 30.7h.01M158 36.9h.01M170.7 30.9h.01M159.3 31.7h.01M156.3 27h.01M170.5 24h.01M160.8 25h.01M169 26.7h.01M166.2 24.3h.01M161.1 33.3h.01M169.5 19.5h.01M162.8 29.8h.01M177 18.8h.01M158.1 50.4h.01M162.3 27.7h.01M156.5 29h.01M174.1 39.6h.01M161.9 27.8h.01M165.8 24.3h.01M169.2 32.1h.01M153.2 37.8h.01M164.6 36.6h.01M167.4 38.2h.01M167.4 29.3h.01M162.7 38.1h.01M164.3 24.5h.01M153.9 36.2h.01M159.9 36.1h.01M160.8 48h.01M167.1 23.7h.01M157.4 44.9h.01M162.3 36.6h.01M155.2 29h.01M163.8 30.4h.01M171.6 43h.01M166.6 23.8h.01M166.4 33.8h.01M156.9 47.5h.01M158.5 19.6h.01M168.2 23h.01M165.9 20.6h.01M168.7 46.7h.01M168 34.5h.01M168.9 42.3h.01M166.9 29.5h.01M158.7 29.2h.01M168.5 20h.01M169.1 32.8h.01M160.7 29.8h.01M163.9 33h.01M164.3 23.8h.01M166.9 31.5h.01M158.7 29.5h.01M164.6 27.9h.01M156.4 31h.01M171.3 17.7h.01M166.3 33.4h.01M167.2 24.4h.01M162.4 41.9h.01M167 30.7h.01M153.8 38.9h.01M163.9 28.9h.01M164.4 32.7h.01M162.6 26.6h.01M159 26h.01M174 21h.01M167.8 29.3h.01M166.4 38.6h.01M162.9 33.1h.01M177.8 24.3h.01M166.5 27.8h.01M159 28.8h.01M171.7 18.4h.01M172.4 27.5h.01M157.3 24.1h.01M173.9 51.5h.01M165.8 26.1h.01M173.3 36.3h.01M161.6 25.3h.01M172.4 25.7h.01M158.5 29.3h.01M159.1 28.5h.01M163.2 17.4h.01M161.7 18.8h.01M158 36.3h.01M161.4 21.4h.01M159.9 38.6h.01M160.7 23.5h.01M162.5 29.6h.01M162.4 18.4h.01M171.3 27.3h.01M169.5 40.1h.01M169.4 44.7h.01M170.3 33.6h.01M165.3 20.8h.01M161.6 33.6h.01M158.5 22.9h.01M171.2 19.6h.01M165.8 33.6h.01M162.5 32.7h.01M157.1 18h.01M168.7 37.2h.01M169 34h.01M166.6 22.4h.01M158.1 29.8h.01M169 21.4h.01M169.1 32.6h.01M157.1 38.6h.01M169.2 41.4h.01M170.7 31.9h.01M165.4 23.1h.01M159.8 26.9h.01M174.5 42.8h.01M158.8 26.6h.01M168.2 33.5h.01M170.8 33h.01M167.9 33.5h.01M162.4 24.2h.01M163.8 23.8h.01M161.1 29.3h.01M172.1 26.8h.01M164.3 34.5h.01M173.9 28h.01M167.1 15.5h.01M157.7 29.3h.01M174 33.8h.01M154.8 23.7h.01M171 21.7h.01M168.7 32.1h.01M173.8 28.4h.01M170.5 43.8h.01M164.1 27.1h.01M168.1 35.2h.01M166.6 25.6h.01M168.6 20.3h.01M158.3 32h.01M167.4 28.5h.01M177.5 36.5h.01M166.1 34h.01M168.2 30.9h.01M172.3 25.8h.01M159.9 28.2h.01M159.2 27.5h.01M169.3 19.5h.01M166.3 39h.01M165.7 28.7h.01M156.3 21.5h.01M161.5 17.5h.01M167.3 16.6h.01M171.6 23.4h.01M166 17.8h.01M169.3 26.5h.01M168.1 27.5h.01M161.6 25.4h.01M170.6 30.3h.01M160.9 30.9h.01M159.1 24.8h.01M163.1 32.2h.01M154.1 31.1h.01M159.6 20.7h.01M158.8 38.4h.01M172.1 30.8h.01M163.8 35h.01M166.7 28.1h.01M168.4 38.1h.01M168.5 31.3h.01M173.9 26.1h.01M166 16.1h.01M169.8 25.2h.01M160.7 20.5h.01M161.7 20.2h.01M166.5 34.6h.01M162.2 39.8h.01M166 35h.01M162.5 37.7h.01M168.4 22.1h.01M165.2 37.3h.01M162.2 20.7h.01M165.1 19.2h.01M164.5 25.2h.01M168.8 24.4h.01M169.7 31.6h.01M159 32.7h.01M172.2 29.6h.01M164.5 34.6h.01M163 23.3h.01M167.5 21h.01M170 32.4h.01M162.5 40.4h.01M164.5 34.4h.01M158.6 25.4h.01M169.3 35.6h.01M167.1 28.3h.01M166.9 28.3h.01M164.2 28.4h.01M166.4 27.5h.01M155.5 40.8h.01M165.6 37h.01M176.3 36.7h.01M160.2 20h.01M168.1 44.4h.01M165.7 36.4h.01M167.8 31h.01M156.1 36.5h.01M160.2 29.6h.01M160.6 22.9h.01M165.4 18h.01M168.2 32.2h.01M162.5 37.4h.01M163.6 37.4h.01M164 27.2h.01M172 41.5h.01M163.7 37.1h.01M170 39.9h.01M164.1 33.8h.01M164.5 39.6h.01M162.6 30.5h.01M165.8 32.2h.01M159.5 22.8h.01M164.3 29.2h.01M164.8 27.9h.01M170.8 21.8h.01M164.5 25.6h.01M168.9 25.4h.01M175 33.8h.01M166.3 25.7h.01M162.6 29.6h.01M161.7 50.6h.01M178 18.1h.01M156.5 27.2h.01M167.2 45.2h.01M164.1 22.3h.01M173.4 33.9h.01M167.5 22.9h.01M165.2 26.8h.01M160.6 30.5h.01M159.9 33.5h.01M163.9 34.6h.01M159.9 23.6h.01M172.9 26.6h.01M159.6 29h.01M173.7 33.8h.01M163.6 21.4h.01M172.9 27.1h.01M167.1 22.8h.01M162.1 34.8h.01M167.6 40h.01M172.6 24.5h.01M156.8 32.2h.01M166.4 26h.01M174 36.8h.01M158.9 37.6h.01M170.5 30.4h.01M171.8 22.5h.01M173.3 28h.01M171.3 25.1h.01M165.4 26.5h.01M160.7 33.7h.01M163.7 37.8h.01M156.4 34.1h.01M171.9 26.2h.01M166.7 24.1h.01M168.6 34.7h.01M175.8 17.9h.01M168.8 21.1h.01M161.3 32.1h.01M159.2 22.8h.01M160.2 29.6h.01M167 26.8h.01M164.1 32.5h.01M167.2 36.3h.01M161.5 28.5h.01M171 27.9h.01M153.8 35.8h.01M160.4 38.5h.01M178.3 33.9h.01M170.4 25.9h.01M171.1 40.2h.01M167.7 22.6h.01M169.1 25.8h.01M163.1 27.6h.01M161.5 36.9h.01M174.3 21.7h.01M159.5 23.8h.01M172.5 36.3h.01M153.2 48.8h.01M164 27h.01M164.3 23h.01M160.7 20h.01M158.9 38.4h.01M166.6 27.1h.01M170.1 42.2h.01M161.1 23h.01M168.2 25.7h.01M159.9 30.2h.01M163.5 25h.01M165.4 27.1h.01M176.1 35.9h.01M169.6 25.1h.01M161 19.1h.01M168.2 24.3h.01M157.6 35.9h.01M162.3 30.4h.01M173.2 36.6h.01M167.4 29h.01M170.3 30.6h.01M166.3 29.9h.01M154.6 30.3h.01M164.9 27.6h.01M164.3 39.3h.01M169.6 43.1h.01M167.6 31.5h.01M163.6 35.6h.01M157.9 25.5h.01M175.8 29.7h.01M162.6 41.6h.01M171.1 21.6h.01M159.5 41.3h.01M169.3 38.9h.01M156.7 15.2h.01M168.5 31.4h.01M161.7 39.4h.01M160 28.3h.01M165.5 34.5h.01M167.8 18h.01M175.4 36.2h.01M166.5 33.7h.01M170 40.2h.01M159.5 21.3h.01M164.5 31h.01M169.6 34.2h.01M172 27.5h.01M171.6 31h.01M170 41.1h.01M160.9 30.2h.01M171 20.5h.01M169.3 30.5h.01M159.6 26.3h.01M158 25h.01M162.4 38.1h.01M165.4 29.2h.01M165.2 22.5h.01M158.9 19.7h.01M159.3 29h.01M157.9 38.5h.01M167.8 33h.01M173.2 34.2h.01M169.1 36h.01M163.8 25.1h.01M167.4 38.4h.01M167.7 39.5h.01M162.3 29.1h.01M165.2 17.7h.01M160.1 37.1h.01M171.3 31.1h.01M161.8 28.5h.01M168.1 23.3h.01M170.2 23.4h.01M158 31.2h.01M160.8 28.9h.01M167.3 37.6h.01M161.6 29.1h.01M169.1 41.9h.01M171.9 34.8h.01M167.1 19.4h.01M162.6 34.6h.01M173.4 24.4h.01M162.6 23.7h.01M163 23.7h.01M171.5 19.9h.01M168.1 27.7h.01M157.1 31.9h.01M166.6 26h.01M177.9 22.8h.01M159.8 30h.01M167.4 20.8h.01M161 25.7h.01M166.3 36.7h.01M169 29h.01M169.7 29.4h.01M165.3 39.1h.01M176.1 29.1h.01M164.9 28.9h.01M171.6 34.7h.01M167.6 23.1h.01M161.5 27.6h.01M171.6 30.6h.01M164.4 36.5h.01M167.9 30.4h.01M161.4 30.5h.01M166.1 22.5h.01M168.3 26.5h.01M176.1 28.4h.01M163.5 33.3h.01M164.5 22h.01M171.8 24.3h.01M165.6 36.7h.01M162.9 28.2h.01M167.6 19.4h.01M161 41.1h.01M163.4 32.7h.01M164.9 30.3h.01M162.1 25h.01M162.9 40.1h.01M173.1 21.1h.01M154.9 27h.01M164.9 37.1h.01M164 28.6h.01M172 26.4h.01M167.3 35.6h.01M168.6 33.4h.01M171.4 29.1h.01M169.7 22.4h.01M159.7 30.4h.01M161.2 25.4h.01M166.7 35.8h.01M170.9 26.7h.01M164.4 40.9h.01M163.8 48.2h.01M168.4 46.6h.01M173.3 30.9h.01M166.3 27.1h.01M170.9 22.5h.01M173.5 25.5h.01M170.4 28.7h.01M169.2 23.9h.01M165.8 20.8h.01M164.2 26.5h.01M162.5 47.5h.01M165.3 24.3h.01M164.6 50.1h.01M163.8 24.4h.01M175.8 23.5h.01M173.2 33.6h.01M160.4 32.2h.01M165.6 43.1h.01M165.5 30.4h.01M152.6 34h.01M163.7 27.3h.01M166.6 20.4h.01M166.6 31.7h.01M162.5 44.8h.01M168.7 36h.01M162 27.7h.01M175 24.8h.01M159.7 47h.01M163.7 31h.01M177 28.6h.01M163.1 20.5h.01M160.6 24h.01M173.4 27.2h.01M171 35.4h.01M174 33.8h.01M166.1 24.4h.01M154.7 39h.01M163.6 39.2h.01M174.1 44.3h.01M170.1 39.6h.01M163.4 34.8h.01M163.8 28h.01M176.7 33h.01M167.4 34.4h.01M165.4 31h.01M170.2 31.6h.01M168.9 31h.01M164.2 32.5h.01M156.7 33.1h.01M171.8 32.8h.01M166.1 27h.01M157.1 27.1h.01M178.1 35.6h.01M171.1 21.8h.01M159.1 27.7h.01M169.4 33.2h.01M162.4 44.4h.01M164 25.9h.01M163 15.9h.01M164.7 23.8h.01M163.7 40.7h.01M179.7 25.2h.01M174.2 40.1h.01M171.8 17.9h.01M164.2 26.1h.01M162.6 32h.01M163.2 41.4h.01M170.1 17.8h.01M159.4 29.4h.01M171.4 36.7h.01M166 37.4h.01M174.6 30.6h.01M166.6 33.1h.01M171.7 26.5h.01M166.2 38.2h.01M166.5 29.2h.01M160.9 40.7h.01M169.8 30.1h.01M176.2 24h.01M158.8 35.2h.01M158.8 39.5h.01M169.4 29.1h.01M163.8 33.1h.01M176.1 26.4h.01M167 34.6h.01M171.6 23.3h.01M157.4 22.2h.01M166.9 43.5h.01M164.4 34.6h.01M169.4 20.6h.01M171.4 27.6h.01M163.5 58.8h.01M167.4 52.2h.01M164.2 57.2h.01M162.7 59.8h.01M164.7 50.2h.01M160.2 39.7h.01M164.6 61.7h.01M161.5 56.6h.01M163.4 40.6h.01M167.4 62.6h.01M169 62.2h.01M167.6 44h.01M167.6 57.1h.01M159.7 49.3h.01M163.5 54h.01M167.4 63.1h.01M167.6 56.8h.01M164.8 56.5h.01M163.7 51.6h.01M167.6 59.4h.01M162.9 59.3h.01M164.2 63.1h.01M162.7 65.1h.01M160.4 50h.01M166 56.4h.01M168.3 41.2h.01M167 63.3h.01M163.7 44h.01M167.2 57.4h.01M163 41.9h.01M158.2 56h.01M164.3 39.8h.01M166.9 56.3h.01M161.4 57.4h.01M164.7 48.5h.01M165.8 63.2h.01M166.3 59.5h.01M169.5 45.2h.01M163.2 47.2h.01M163.5 64.5h.01M166.1 43.1h.01M168.3 63.8h.01M166.1 57.4h.01M164.5 44.3h.01M165 45.5h.01M169.5 57h.01M167.6 55.1h.01M167.2 52.4h.01M166.2 62.1h.01M168.4 60.6h.01M167.3 46.2h.01M166.5 46.2h.01M164.7 47.4h.01M165.1 48.1h.01M166.4 48.4h.01M161.3 58h.01M163.7 37h.01M162.8 63.5h.01M166.7 58.7h.01M169.7 49.2h.01M167.9 59.8h.01M166.1 57.4h.01M162.2 50.2h.01M170.5 64.9h.01M167.1 52.5h.01M168.6 52.7h.01M166.5 57.8h.01M167.4 48.1h.01M168.8 63.6h.01M164.6 64.1h.01M167.5 46.7h.01M160.2 60.5h.01M168.1 64.4h.01M167.5 54.4h.01M165.8 64.1h.01M168.1 65.4h.01M173.4 56.4h.01M167 63.3h.01M166.1 63.9h.01M163.9 53.2h.01M166 51.6h.01M164.3 68.7h.01M168.4 49h.01M165.1 65.1h.01M166.5 52.9h.01M167 59.1h.01M166.6 54.8h.01M166.1 50h.01M166.3 58.5h.01M164.7 58.8h.01M167 49.5h.01M166.5 57.4h.01M165.3 50.8h.01M164.4 56h.01M170.6 46.6h.01M165.4 47.6h.01M169.9 66.2h.01M168.5 62.4h.01M164 53h.01M166.6 56.9h.01M164.9 55.3h.01M165.6 54.7h.01M166.4 65.6h.01M170.2 56.7h.01M164.8 50.2h.01M169.1 43.1h.01M163.8 43h.01M166.2 66.3h.01M167.1 57.7h.01M166.3 61.3h.01M161 58.6h.01M165.1 49.8h.01M162.5 50.4h.01M166.4 52.8h.01M165.9 38.3h.01M164 41.1h.01M168.6 50h.01M168 46.7h.01M164.6 51.2h.01M172.7 57.3h.01M166 68.4h.01M168.6 63.8h.01M165.2 47.7h.01M162 46.6h.01M168.8 57.1h.01M167.3 52.3h.01M160.9 55.5h.01M166.1 54.8h.01M165.6 58.1h.01M167.6 39.4h.01M166.5 55.2h.01M166.4 41.4h.01M169.3 60.8h.01M164 50.7h.01M164.8 48.7h.01M164.9 58.9h.01M166.3 59.7h.01M165.1 54.1h.01M165 60.8h.01M163.6 45.3h.01M163.7 57.1h.01M166.3 58.1h.01M164.1 52.2h.01M165.6 60.3h.01M168.3 60h.01M167 66.7h.01M168.6 51.4h.01M161.2 46.9h.01M164.1 49.4h.01M164.9 57.2h.01M166.1 56.7h.01M165.9 55.4h.01M164.2 46.3h.01M167.2 53.1h.01M166.5 62.5h.01M162.9 60h.01M166.8 47.8h.01M162.9 57.3h.01M170.3 50.1h.01M165.2 55h.01M165.7 49.2h.01M168 50.2h.01M163.5 49.5h.01M161.6 51.7h.01M164.5 47.2h.01M169.3 60.6h.01M167.6 52.5h.01M162.9 58.9h.01M164.1 54.3h.01M168.8 53.1h.01M170.5 43.6h.01M162.9 44.7h.01M165.1 51.8h.01M165.6 44.7h.01M161.1 58.6h.01M167 50.3h.01M167.7 46.6h.01M166.4 51.9h.01M163.9 56.2h.01M165.4 51.9h.01M167 68.1h.01M164.5 62.1h.01M164.8 53.6h.01M165.1 48.8h.01M168.3 43.4h.01M169.1 57.3h.01M167.5 61.5h.01M165.7 52.9h.01M166.6 48.3h.01M166.6 53.1h.01M163.6 48.6h.01M168.9 53.1h.01M164 57.7h.01M166.1 51.9h.01M163.2 57.4h.01M164.3 60.6h.01M167.9 46.1h.01M164.3 46.6h.01M162.1 54.4h.01M160.1 33.2h.01M163.2 61h.01M164.1 51.1h.01M165.5 54.7h.01M162.6 59h.01M165.2 40.2h.01M163.6 62.1h.01M166.4 58h.01M165.6 35.9h.01M163.8 45.8h.01M163.6 69.8h.01M165.1 58.8h.01M166 62.3h.01M163.9 53.5h.01M167.2 61.9h.01M164.1 41.3h.01M162.7 47.5h.01M167 66.9h.01M162.2 61.2h.01M169.2 52.2h.01M164.8 58.5h.01M165.2 48.8h.01M170 43.9h.01M162.9 60.5h.01M168.5 51.6h.01M166 55.4h.01M166.3 58.1h.01M168.7 57.1h.01M169.8 62.8h.01M166.9 50.2h.01M166.8 50.5h.01M165.2 59.7h.01M163 62.5h.01M162.5 45.5h.01M168.1 42.5h.01M165.7 48.7h.01M163.4 55.1h.01M165 55.9h.01M166.8 45.9h.01M165 56h.01M166.5 65.9h.01M167.4 37.3h.01M168.8 56.1h.01M162.9 55.1h.01M164.8 50.9h.01M166 58.1h.01M165.8 60.1h.01M167.2 44.7h.01M161.3 54.9h.01M163 58.9h.01M168.2 52.9h.01M170.1 57.3h.01M165.6 58.5h.01M162.7 63.2h.01M161.6 58.9h.01M167.3 59.3h.01M170.1 64.2h.01M168 55.4h.01M164.5 66.8h.01M166.8 44.8h.01M161.5 56.3h.01M163.5 56.2h.01M164.9 56.3h.01M163.7 49.4h.01M161.7 57h.01M168.5 47.1h.01M167.2 50.9h.01M162 47.3h.01M171.6 60h.01M170 54.8h.01M166 46.5h.01M166 42.1h.01M161.3 52.4h.01M168.8 54.6h.01M164.9 68.5h.01M168.3 61.5h.01M166.6 42.5h.01M165.3 62.7h.01M164.7 58.7h.01M166 63.5h.01M165.5 64.3h.01M164 50.5h.01M159.4 47.4h.01M162.4 57.7h.01M166.2 58.6h.01M167.1 62.1h.01M170.6 39.2h.01M162.7 50.4h.01M163.7 43.4h.01M166.1 61.4h.01M164.7 58.2h.01M162.4 61.2h.01M167.4 54.4h.01M167.5 38.7h.01M164.2 55.1h.01M163.9 57.1h.01M169.6 50.3h.01M164.8 57h.01M161.8 53h.01M166.1 58.4h.01M160.1 47.8h.01M165.5 43.4h.01M164.8 60.8h.01M164.6 43.9h.01M169.1 47.1h.01M163.4 56.6h.01M163.9 51.1h.01M165.5 62.1h.01M165.5 53.4h.01M165.5 59.8h.01M166.1 47.5h.01M164.8 49.6h.01M162.7 55.6h.01M164.4 50.3h.01M168.3 39.4h.01M166.3 60.6h.01M167.5 68.5h.01M163 48.6h.01M169.4 42.7h.01M168.2 67.1h.01M164 54.3h.01M163.3 62.3h.01M164.7 55.1h.01M170 64h.01M169.4 48.7h.01M159.7 69.4h.01M168.9 47.2h.01M169.3 60.5h.01M164 60.8h.01" fill="none" stroke="#333" stroke-width="0.62" stroke-linecap="square" opacity="0.38"/>
<ellipse cx="164.2" cy="42" rx="4" ry="8.5" fill="#bcbcbc" opacity="0.75" filter="url(#b2)"/>
<ellipse cx="164.2" cy="41.2" rx="1.7" ry="3.4" fill="#f0f0f0" opacity="0.9" filter="url(#b1)"/>
<path d="M154.6 19.2A5 5.4 0 0 0 154.4 29.9" fill="none" stroke="#1a1a1a" stroke-width="0.8"/>
</g>
<path d="M33.5 10.4V202.6M32.6 201.9H119.6M128 201.9H213.8" fill="none" stroke="#000" stroke-width="1.8"/>
<text transform="translate(30.8 103.9) rotate(-90)" font-size="9">CD44</text>
<text x="75.6" y="212.6" font-size="9" text-anchor="middle">FSC</text>
<text x="168.8" y="212.6" font-size="9" text-anchor="middle">TER119</text>
<text transform="translate(210.3 26.3) rotate(90)" font-size="8.4" textLength="12.7" lengthAdjust="spacingAndGlyphs">WT</text>
<text font-size="8.6" stroke="#000" stroke-width="0.1" transform="translate(210 77.7) rotate(90)"><tspan font-style="italic" textLength="25.4" lengthAdjust="spacingAndGlyphs">Ampd3</tspan><tspan font-style="italic" font-size="5.2" dy="-3.44" textLength="13.6" lengthAdjust="spacingAndGlyphs">T689A</tspan><tspan dy="4.24" textLength="6.88" lengthAdjust="spacingAndGlyphs">/+</tspan></text>
<text font-size="8.6" stroke="#000" stroke-width="0.1" transform="translate(210 143.2) rotate(90)"><tspan font-style="italic" textLength="25.4" lengthAdjust="spacingAndGlyphs">Ampd3</tspan><tspan font-style="italic" font-size="5.2" dy="-3.44" textLength="13.6" lengthAdjust="spacingAndGlyphs">T689A</tspan></text>
<rect x="0.5" y="0.5" width="519" height="716" fill="none" stroke="#000" stroke-width="1"/>
</svg></body></html>
